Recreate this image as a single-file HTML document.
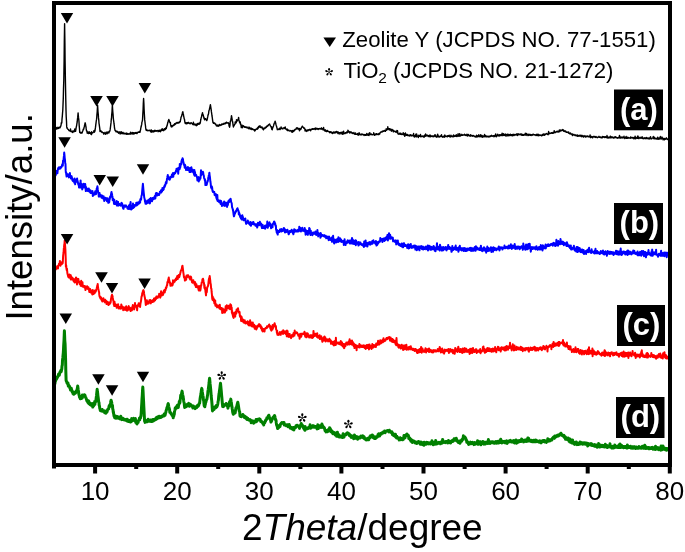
<!DOCTYPE html>
<html><head><meta charset="utf-8"><style>
html,body{margin:0;padding:0;background:#fff;width:685px;height:552px;overflow:hidden;font-family:"Liberation Sans",sans-serif}
svg{display:block;will-change:transform}
</style></head><body>
<svg width="685" height="552" viewBox="0 0 685 552" font-family="Liberation Sans" fill="#000">
<path d="M55.0 129.3 L55.2 128.4 L55.5 127.2 L55.8 128.1 L56.0 128.8 L56.2 127.5 L56.5 129.1 L56.8 128.0 L57.1 128.4 L57.3 128.1 L57.6 128.7 L57.9 127.3 L58.2 127.9 L58.4 127.8 L58.7 128.4 L59.0 127.4 L59.3 127.7 L59.5 127.4 L59.8 127.7 L60.1 127.8 L60.3 126.5 L60.6 126.7 L60.8 125.9 L61.1 125.0 L61.3 122.7 L61.6 123.1 L61.8 122.7 L62.0 119.2 L62.3 116.4 L62.5 113.6 L62.8 110.0 L63.0 105.3 L63.3 97.9 L63.5 89.0 L63.8 79.9 L64.1 61.2 L64.3 42.3 L64.6 23.7 L64.9 42.6 L65.1 61.3 L65.4 79.5 L65.6 90.3 L65.8 100.6 L66.0 110.0 L66.2 116.5 L66.5 121.4 L66.7 126.9 L67.0 128.2 L67.2 127.9 L67.5 128.6 L67.8 129.1 L68.0 129.3 L68.3 129.5 L68.6 130.0 L68.8 130.1 L69.1 130.6 L69.4 130.8 L69.7 130.9 L69.9 130.8 L70.2 131.1 L70.5 128.9 L70.8 131.5 L71.0 131.3 L71.3 131.1 L71.6 131.6 L71.9 131.4 L72.1 132.0 L72.4 132.3 L72.7 132.5 L72.9 131.0 L73.2 130.9 L73.5 131.2 L73.7 131.4 L74.0 131.7 L74.3 131.4 L74.5 130.4 L74.8 129.0 L75.1 131.4 L75.3 131.1 L75.6 131.2 L75.9 129.3 L76.1 127.9 L76.4 126.5 L76.7 125.1 L76.9 123.5 L77.2 122.0 L77.4 119.6 L77.7 117.4 L77.9 115.1 L78.1 112.9 L78.3 115.2 L78.5 117.4 L78.8 119.6 L79.0 121.9 L79.2 125.6 L79.5 129.0 L79.7 132.4 L80.0 132.6 L80.2 132.3 L80.5 132.9 L80.7 132.5 L81.0 133.2 L81.2 132.9 L81.5 133.0 L81.7 132.4 L82.0 133.0 L82.2 132.6 L82.5 131.3 L82.8 131.0 L83.0 130.5 L83.2 129.3 L83.5 129.4 L83.8 129.0 L84.0 127.7 L84.2 127.0 L84.5 125.7 L84.7 124.8 L85.0 123.5 L85.2 122.8 L85.5 124.2 L85.7 125.6 L86.0 127.0 L86.2 128.7 L86.5 130.8 L86.8 130.7 L87.0 131.5 L87.2 133.1 L87.5 132.1 L87.8 132.0 L88.0 133.3 L88.3 132.9 L88.5 133.5 L88.8 132.5 L89.1 131.7 L89.3 133.3 L89.6 132.8 L89.9 133.2 L90.1 132.5 L90.4 133.3 L90.7 134.1 L90.9 132.9 L91.2 133.0 L91.5 134.6 L91.7 131.8 L92.0 133.2 L92.3 132.9 L92.5 132.7 L92.8 132.7 L93.1 132.4 L93.4 132.4 L93.6 131.8 L93.9 130.8 L94.2 130.4 L94.5 132.2 L94.7 131.4 L95.0 131.0 L95.2 129.1 L95.5 127.2 L95.7 125.4 L96.0 123.1 L96.2 121.5 L96.5 119.7 L96.7 118.0 L96.9 114.8 L97.2 111.7 L97.4 108.4 L97.6 105.3 L97.8 108.4 L98.0 111.9 L98.3 114.6 L98.5 117.9 L98.8 120.3 L99.0 123.3 L99.2 124.4 L99.5 126.7 L99.8 128.7 L100.0 131.5 L100.3 131.0 L100.5 130.3 L100.8 131.3 L101.1 131.0 L101.3 131.8 L101.6 132.0 L101.9 132.5 L102.1 132.0 L102.4 132.0 L102.7 132.6 L102.9 132.6 L103.2 132.7 L103.5 132.7 L103.7 134.1 L104.0 133.1 L104.3 133.8 L104.5 133.4 L104.8 133.3 L105.1 132.3 L105.3 133.2 L105.6 134.2 L105.9 133.3 L106.1 133.4 L106.4 132.8 L106.7 133.3 L106.9 131.9 L107.2 133.8 L107.5 132.5 L107.7 132.3 L108.0 132.3 L108.2 132.4 L108.5 132.1 L108.8 133.0 L109.0 131.9 L109.2 131.2 L109.5 131.9 L109.8 131.0 L110.0 130.5 L110.2 129.2 L110.5 126.9 L110.8 124.3 L111.0 122.9 L111.2 120.2 L111.5 118.2 L111.7 114.9 L112.0 111.8 L112.2 107.9 L112.4 105.1 L112.6 108.7 L112.8 111.5 L113.1 114.8 L113.3 117.9 L113.5 119.8 L113.8 121.8 L114.0 123.7 L114.3 125.7 L114.5 128.0 L114.8 129.1 L115.0 130.5 L115.3 130.6 L115.6 131.0 L115.8 130.7 L116.1 131.8 L116.4 131.4 L116.7 131.5 L116.9 131.8 L117.2 131.3 L117.5 131.7 L117.8 132.4 L118.1 132.5 L118.3 132.2 L118.6 133.2 L118.9 132.0 L119.2 132.5 L119.4 132.7 L119.7 131.9 L120.0 133.8 L120.3 133.2 L120.6 132.6 L120.8 133.9 L121.1 131.7 L121.4 133.3 L121.7 132.9 L121.9 132.3 L122.2 132.6 L122.5 133.6 L122.8 133.1 L123.1 132.4 L123.3 133.8 L123.6 133.5 L123.9 133.5 L124.2 133.5 L124.4 133.2 L124.7 133.8 L125.0 134.1 L125.3 133.8 L125.6 133.9 L125.8 133.2 L126.1 133.3 L126.4 133.1 L126.7 134.2 L126.9 133.6 L127.2 134.3 L127.5 133.4 L127.8 133.6 L128.1 133.8 L128.3 134.2 L128.6 133.9 L128.9 134.0 L129.2 133.9 L129.4 134.0 L129.7 133.5 L130.0 134.0 L130.3 133.9 L130.6 132.2 L130.8 134.0 L131.1 133.5 L131.4 133.7 L131.7 133.5 L131.9 133.8 L132.2 132.4 L132.5 133.1 L132.8 133.7 L133.1 134.2 L133.3 132.7 L133.6 132.9 L133.9 132.9 L134.2 133.1 L134.4 133.8 L134.7 133.1 L135.0 132.7 L135.3 133.2 L135.6 132.6 L135.8 133.3 L136.1 132.9 L136.4 133.3 L136.7 132.4 L136.9 133.6 L137.2 132.9 L137.5 132.8 L137.8 132.4 L138.1 132.1 L138.3 132.0 L138.6 132.2 L138.9 131.9 L139.2 132.3 L139.4 131.8 L139.7 132.3 L140.0 132.4 L140.3 130.4 L140.6 129.8 L140.8 127.9 L141.1 127.1 L141.4 125.5 L141.7 124.4 L141.9 122.3 L142.2 121.3 L142.5 120.2 L142.8 114.6 L143.1 109.2 L143.3 103.9 L143.6 98.5 L143.9 103.9 L144.1 109.4 L144.4 114.9 L144.7 119.9 L145.0 122.1 L145.2 124.0 L145.5 126.0 L145.7 127.9 L146.0 129.9 L146.3 130.3 L146.5 129.7 L146.8 130.6 L147.1 130.6 L147.3 130.3 L147.6 130.7 L147.9 130.2 L148.1 130.3 L148.4 130.7 L148.7 130.6 L148.9 130.6 L149.2 130.5 L149.5 130.6 L149.7 130.3 L150.0 130.2 L150.3 130.3 L150.6 131.9 L150.8 131.3 L151.1 131.2 L151.4 130.0 L151.7 131.2 L151.9 132.4 L152.2 131.0 L152.5 130.8 L152.8 131.3 L153.1 130.8 L153.3 131.7 L153.6 131.2 L153.9 131.9 L154.2 130.7 L154.4 130.3 L154.7 131.3 L155.0 131.3 L155.3 131.0 L155.6 130.4 L155.8 130.8 L156.1 131.2 L156.4 130.9 L156.7 131.0 L156.9 130.9 L157.2 130.6 L157.5 130.8 L157.8 130.4 L158.1 131.7 L158.3 130.8 L158.6 131.2 L158.9 130.6 L159.2 131.3 L159.4 130.3 L159.7 131.4 L160.0 131.0 L160.3 131.8 L160.6 130.3 L160.8 130.8 L161.1 130.8 L161.4 129.5 L161.7 130.3 L161.9 130.5 L162.2 128.6 L162.5 129.9 L162.8 130.3 L163.1 129.5 L163.3 129.9 L163.6 130.7 L163.9 130.5 L164.2 129.7 L164.4 128.7 L164.7 128.9 L165.0 129.2 L165.3 129.6 L165.5 129.0 L165.8 127.8 L166.0 128.2 L166.3 128.6 L166.6 126.9 L166.9 125.8 L167.1 125.9 L167.4 124.2 L167.7 123.1 L168.0 122.3 L168.2 121.3 L168.5 120.2 L168.8 119.5 L169.1 120.2 L169.3 120.9 L169.6 121.5 L169.8 122.4 L170.1 123.0 L170.4 122.5 L170.6 124.9 L170.9 125.5 L171.1 126.7 L171.4 126.9 L171.7 125.8 L171.9 126.8 L172.2 126.7 L172.5 125.8 L172.7 125.9 L173.0 125.2 L173.3 125.7 L173.5 125.0 L173.8 125.5 L174.1 124.5 L174.4 125.0 L174.6 123.7 L174.9 123.9 L175.2 124.4 L175.4 123.4 L175.7 123.9 L176.0 123.7 L176.2 122.9 L176.5 122.8 L176.8 122.8 L177.0 122.4 L177.3 123.2 L177.6 122.9 L177.8 122.6 L178.1 122.5 L178.4 122.6 L178.7 123.1 L178.9 122.7 L179.2 122.0 L179.5 122.5 L179.7 122.0 L180.0 121.9 L180.3 121.8 L180.5 119.9 L180.8 119.0 L181.0 117.4 L181.3 116.7 L181.5 116.5 L181.8 115.3 L182.0 114.5 L182.3 113.4 L182.5 112.5 L182.8 111.7 L183.1 113.2 L183.4 114.4 L183.6 115.8 L183.9 117.2 L184.2 118.8 L184.5 119.4 L184.7 121.1 L185.0 122.7 L185.3 123.6 L185.6 122.6 L185.8 123.1 L186.1 123.3 L186.4 123.8 L186.6 122.7 L186.9 123.1 L187.2 123.4 L187.4 122.7 L187.7 123.4 L188.0 123.0 L188.3 122.3 L188.5 123.1 L188.8 123.2 L189.1 122.9 L189.3 123.1 L189.6 123.6 L189.9 123.3 L190.1 123.8 L190.4 123.3 L190.7 123.3 L190.9 122.9 L191.2 122.7 L191.5 123.2 L191.7 123.2 L192.0 123.8 L192.3 123.8 L192.6 124.2 L192.8 124.4 L193.1 123.7 L193.4 122.1 L193.6 124.7 L193.9 124.5 L194.2 124.4 L194.4 124.7 L194.7 124.1 L195.0 124.6 L195.2 125.0 L195.5 125.1 L195.8 124.1 L196.1 124.3 L196.3 125.7 L196.6 124.2 L196.9 124.1 L197.2 124.5 L197.4 125.1 L197.7 123.4 L198.0 124.3 L198.2 123.9 L198.5 123.7 L198.8 123.3 L199.1 124.3 L199.3 123.0 L199.6 123.2 L199.9 123.7 L200.2 123.2 L200.4 122.1 L200.7 120.0 L200.9 119.3 L201.2 117.6 L201.5 117.2 L201.7 115.8 L202.0 114.8 L202.2 113.9 L202.5 112.6 L202.7 113.7 L203.0 114.3 L203.2 115.3 L203.5 116.2 L203.7 116.9 L204.0 118.4 L204.2 118.9 L204.5 118.2 L204.7 119.9 L205.0 119.3 L205.2 119.2 L205.5 118.7 L205.7 119.4 L206.0 119.3 L206.2 119.9 L206.5 119.9 L206.7 120.6 L207.0 120.1 L207.3 119.0 L207.5 117.8 L207.8 116.4 L208.0 115.2 L208.3 114.6 L208.6 113.3 L208.8 111.5 L209.1 110.2 L209.4 109.4 L209.6 108.4 L209.9 107.1 L210.1 106.1 L210.4 104.6 L210.7 106.5 L210.9 107.9 L211.2 109.9 L211.4 111.7 L211.7 113.7 L212.0 116.0 L212.2 117.0 L212.5 119.4 L212.7 120.8 L213.0 122.7 L213.3 122.3 L213.6 123.3 L213.8 122.6 L214.1 123.4 L214.4 123.1 L214.7 123.5 L214.9 123.3 L215.2 123.9 L215.5 124.5 L215.8 124.6 L216.0 124.3 L216.3 125.7 L216.6 125.4 L216.8 125.9 L217.1 126.1 L217.4 125.7 L217.7 125.1 L218.0 125.4 L218.2 126.2 L218.5 125.2 L218.8 125.9 L219.1 125.2 L219.3 125.5 L219.6 124.5 L219.9 125.6 L220.2 125.0 L220.4 125.3 L220.7 125.0 L221.0 125.1 L221.2 124.6 L221.5 124.9 L221.8 123.9 L222.1 124.0 L222.3 124.6 L222.6 124.2 L222.9 124.0 L223.2 124.0 L223.4 124.2 L223.7 123.6 L224.0 124.0 L224.2 123.3 L224.5 123.4 L224.8 123.9 L225.1 123.8 L225.3 122.9 L225.6 123.6 L225.9 122.7 L226.1 123.3 L226.4 122.2 L226.7 122.4 L226.9 122.6 L227.2 122.6 L227.5 123.1 L227.8 122.8 L228.0 123.0 L228.3 122.8 L228.6 122.9 L228.8 123.7 L229.1 126.1 L229.3 125.2 L229.6 127.2 L229.8 126.2 L230.0 125.1 L230.3 121.1 L230.5 121.9 L230.8 120.3 L231.0 118.9 L231.3 117.2 L231.5 115.6 L231.8 117.4 L232.0 118.7 L232.3 120.4 L232.6 121.7 L232.9 123.6 L233.1 125.3 L233.4 127.0 L233.7 125.9 L233.9 125.9 L234.2 125.4 L234.4 124.8 L234.7 124.4 L235.0 124.1 L235.2 121.9 L235.5 122.5 L235.7 122.0 L236.0 123.0 L236.3 122.5 L236.5 119.6 L236.8 121.3 L237.0 121.1 L237.3 120.8 L237.6 120.3 L237.8 119.6 L238.1 119.6 L238.3 119.1 L238.6 117.4 L238.9 119.7 L239.1 120.6 L239.4 121.8 L239.7 122.7 L240.0 122.5 L240.2 121.8 L240.5 124.3 L240.8 124.0 L241.1 126.2 L241.3 127.6 L241.6 126.2 L241.9 127.6 L242.2 125.2 L242.4 127.8 L242.7 127.0 L243.0 126.3 L243.2 126.5 L243.5 125.7 L243.8 126.4 L244.1 126.5 L244.4 126.7 L244.6 127.3 L244.9 126.7 L245.2 127.2 L245.5 127.2 L245.7 127.1 L246.0 127.0 L246.3 127.7 L246.6 127.2 L246.8 127.6 L247.1 127.1 L247.4 127.9 L247.7 127.9 L247.9 128.0 L248.2 128.0 L248.5 128.6 L248.8 128.7 L249.0 127.0 L249.3 127.6 L249.6 128.4 L249.9 128.5 L250.2 128.3 L250.4 129.0 L250.7 128.6 L251.0 127.9 L251.3 128.5 L251.5 129.1 L251.8 129.5 L252.1 128.6 L252.4 129.0 L252.6 129.3 L252.9 129.1 L253.2 129.7 L253.5 129.5 L253.7 129.7 L254.0 129.4 L254.3 130.3 L254.6 129.8 L254.8 131.1 L255.1 129.8 L255.4 130.2 L255.7 129.5 L256.0 129.2 L256.2 129.0 L256.5 129.1 L256.8 128.8 L257.1 129.3 L257.3 128.0 L257.6 127.8 L257.9 128.7 L258.2 128.0 L258.4 126.8 L258.7 127.5 L259.0 127.2 L259.2 126.0 L259.5 126.5 L259.8 126.4 L260.1 125.8 L260.3 127.2 L260.6 127.1 L260.9 127.6 L261.1 127.4 L261.4 127.3 L261.6 127.5 L261.9 126.8 L262.2 127.5 L262.4 128.7 L262.7 128.2 L263.0 128.7 L263.2 129.3 L263.5 129.8 L263.8 128.3 L264.1 128.5 L264.3 128.6 L264.6 128.1 L264.9 128.5 L265.2 127.1 L265.4 127.8 L265.7 127.6 L266.0 127.2 L266.3 127.4 L266.6 126.2 L266.8 126.9 L267.1 126.0 L267.4 126.3 L267.7 125.6 L267.9 125.9 L268.2 125.6 L268.5 124.6 L268.8 124.8 L269.0 124.6 L269.3 124.3 L269.6 124.0 L269.9 124.9 L270.1 125.2 L270.4 125.9 L270.6 126.1 L270.9 126.3 L271.2 127.3 L271.4 127.5 L271.7 129.2 L271.9 127.0 L272.2 129.8 L272.5 128.5 L272.7 127.7 L273.0 127.1 L273.3 126.5 L273.5 125.9 L273.8 124.8 L274.0 124.0 L274.3 123.2 L274.6 122.6 L274.8 122.2 L275.1 121.2 L275.4 122.1 L275.7 123.1 L275.9 124.2 L276.2 125.3 L276.5 126.2 L276.8 127.3 L277.0 128.2 L277.3 129.7 L277.6 129.1 L277.9 129.2 L278.1 129.3 L278.4 129.3 L278.7 129.6 L278.9 129.2 L279.2 129.1 L279.5 128.2 L279.8 129.0 L280.1 129.6 L280.3 128.3 L280.6 128.1 L280.9 128.4 L281.1 126.9 L281.4 128.6 L281.7 128.1 L282.0 128.2 L282.2 128.6 L282.5 128.4 L282.8 129.0 L283.1 128.4 L283.3 128.1 L283.6 128.1 L283.9 127.7 L284.2 127.6 L284.4 128.2 L284.7 128.5 L285.0 127.9 L285.2 127.0 L285.5 128.6 L285.8 129.0 L286.0 129.0 L286.3 129.4 L286.5 129.4 L286.8 130.0 L287.1 129.0 L287.3 130.5 L287.6 130.6 L287.9 130.1 L288.2 130.4 L288.4 130.5 L288.7 130.0 L289.0 130.4 L289.3 130.7 L289.5 130.6 L289.8 131.0 L290.1 130.7 L290.4 130.7 L290.6 130.5 L290.9 130.7 L291.2 130.7 L291.5 131.7 L291.7 131.2 L292.0 130.7 L292.3 132.4 L292.6 131.2 L292.8 130.4 L293.1 131.6 L293.4 130.9 L293.7 131.4 L294.0 130.5 L294.2 130.1 L294.5 130.6 L294.8 129.5 L295.1 129.6 L295.3 129.6 L295.6 129.5 L295.9 129.2 L296.2 128.6 L296.4 128.0 L296.7 128.9 L297.0 127.6 L297.3 128.7 L297.5 128.0 L297.8 128.9 L298.1 129.0 L298.4 128.4 L298.6 129.1 L298.9 129.5 L299.2 129.7 L299.5 130.7 L299.7 128.4 L300.0 129.8 L300.3 129.1 L300.5 129.6 L300.8 128.6 L301.1 128.9 L301.3 128.0 L301.6 127.4 L301.9 127.1 L302.1 126.7 L302.4 126.2 L302.7 126.7 L302.9 126.9 L303.2 127.4 L303.5 127.6 L303.8 128.3 L304.0 128.1 L304.3 128.3 L304.6 128.1 L304.9 129.4 L305.1 131.0 L305.4 130.0 L305.7 129.7 L306.0 130.6 L306.2 130.4 L306.5 131.2 L306.8 131.4 L307.1 130.7 L307.3 130.0 L307.6 130.3 L307.9 130.6 L308.1 130.7 L308.4 129.7 L308.7 130.0 L309.0 130.0 L309.2 130.0 L309.5 130.1 L309.8 129.3 L310.1 129.4 L310.3 129.9 L310.6 130.8 L310.9 129.5 L311.2 129.7 L311.5 129.3 L311.7 129.5 L312.0 129.1 L312.3 128.7 L312.6 128.7 L312.8 129.2 L313.1 129.1 L313.4 128.9 L313.7 129.2 L313.9 128.7 L314.2 129.1 L314.5 129.0 L314.8 128.7 L315.0 128.1 L315.3 129.6 L315.6 129.1 L315.9 128.0 L316.1 128.8 L316.4 129.1 L316.7 128.8 L317.0 129.1 L317.2 128.5 L317.5 128.9 L317.8 128.8 L318.1 129.5 L318.3 128.7 L318.6 128.9 L318.9 129.1 L319.2 128.5 L319.4 128.6 L319.7 128.8 L320.0 128.6 L320.3 128.8 L320.5 128.9 L320.8 129.1 L321.1 128.6 L321.4 127.8 L321.7 128.8 L321.9 129.2 L322.2 129.1 L322.5 129.2 L322.8 128.5 L323.0 129.8 L323.3 129.6 L323.6 127.5 L323.9 129.6 L324.1 129.8 L324.4 130.5 L324.7 130.6 L324.9 131.1 L325.2 129.8 L325.5 130.3 L325.8 130.3 L326.1 131.4 L326.3 131.6 L326.6 131.0 L326.9 131.4 L327.1 130.6 L327.4 130.5 L327.7 130.9 L328.0 131.3 L328.2 131.3 L328.5 131.5 L328.8 131.4 L329.1 132.0 L329.4 132.3 L329.6 131.8 L329.9 132.7 L330.2 131.7 L330.4 131.8 L330.7 132.3 L331.0 132.0 L331.3 132.7 L331.6 132.1 L331.8 132.9 L332.1 132.5 L332.4 133.5 L332.7 132.4 L332.9 132.6 L333.2 132.8 L333.5 131.9 L333.8 133.1 L334.0 133.1 L334.3 133.0 L334.6 132.2 L334.8 132.0 L335.1 132.7 L335.3 132.8 L335.6 132.8 L335.8 131.6 L336.1 131.6 L336.3 132.0 L336.6 131.4 L336.9 132.0 L337.2 132.6 L337.4 133.0 L337.7 132.5 L338.0 131.8 L338.2 133.7 L338.5 132.6 L338.8 132.5 L339.0 132.7 L339.3 132.6 L339.6 132.7 L339.9 134.0 L340.1 133.0 L340.4 133.0 L340.7 132.4 L340.9 133.0 L341.2 132.8 L341.5 132.3 L341.7 133.4 L342.0 133.9 L342.3 134.3 L342.6 134.0 L342.8 131.9 L343.1 134.0 L343.4 133.9 L343.6 131.1 L343.9 133.6 L344.2 133.5 L344.4 133.2 L344.7 133.2 L345.0 133.0 L345.2 133.6 L345.5 132.7 L345.8 132.7 L346.1 132.8 L346.3 132.8 L346.6 131.9 L346.9 133.1 L347.1 132.6 L347.4 132.6 L347.7 132.4 L347.9 130.3 L348.2 132.1 L348.5 130.9 L348.7 132.1 L349.0 131.6 L349.3 132.2 L349.5 132.1 L349.8 133.0 L350.1 131.8 L350.4 131.9 L350.6 132.6 L350.9 132.5 L351.2 131.9 L351.4 132.6 L351.7 132.5 L352.0 133.3 L352.2 132.7 L352.5 133.5 L352.8 133.3 L353.1 133.1 L353.3 133.3 L353.6 133.6 L353.9 132.5 L354.1 133.7 L354.4 133.5 L354.7 134.4 L354.9 133.5 L355.2 134.3 L355.5 133.0 L355.8 134.4 L356.0 134.2 L356.3 134.1 L356.6 134.2 L356.9 134.1 L357.1 134.4 L357.4 134.2 L357.7 133.6 L358.0 134.2 L358.2 135.2 L358.5 134.4 L358.8 134.5 L359.1 132.6 L359.3 134.5 L359.6 134.5 L359.9 134.3 L360.2 134.8 L360.4 134.1 L360.7 134.5 L361.0 134.7 L361.3 134.4 L361.5 134.1 L361.8 134.8 L362.1 134.2 L362.4 134.4 L362.6 134.3 L362.9 134.6 L363.2 134.5 L363.5 134.5 L363.7 135.0 L364.0 135.4 L364.3 134.6 L364.6 135.0 L364.8 134.6 L365.1 134.8 L365.4 135.3 L365.7 134.9 L365.9 134.5 L366.2 135.2 L366.5 134.7 L366.8 133.5 L367.1 135.2 L367.3 134.3 L367.6 134.4 L367.9 134.4 L368.2 134.1 L368.4 135.3 L368.7 134.8 L369.0 135.5 L369.3 133.0 L369.6 133.9 L369.8 132.6 L370.1 134.5 L370.4 134.3 L370.7 134.3 L371.0 134.1 L371.2 134.7 L371.5 134.1 L371.8 134.5 L372.1 134.6 L372.4 134.8 L372.6 134.6 L372.9 134.6 L373.2 134.7 L373.5 134.5 L373.7 132.8 L374.0 134.1 L374.3 134.1 L374.6 135.2 L374.9 134.4 L375.1 134.1 L375.4 134.9 L375.7 134.3 L376.0 134.1 L376.2 133.7 L376.5 134.6 L376.8 133.8 L377.1 134.1 L377.4 134.5 L377.6 134.3 L377.9 134.2 L378.2 134.1 L378.5 134.5 L378.8 134.7 L379.0 133.4 L379.3 133.7 L379.6 134.1 L379.9 133.5 L380.1 132.7 L380.4 132.6 L380.7 132.3 L380.9 132.0 L381.2 132.0 L381.5 132.1 L381.8 131.6 L382.1 132.0 L382.3 131.5 L382.6 131.1 L382.9 131.5 L383.2 131.2 L383.4 131.0 L383.7 131.2 L384.0 130.9 L384.3 130.5 L384.5 130.8 L384.8 130.5 L385.1 131.2 L385.4 131.2 L385.6 130.5 L385.9 130.4 L386.2 128.8 L386.5 130.2 L386.7 129.5 L387.0 129.1 L387.3 129.1 L387.6 129.4 L387.8 126.8 L388.1 129.0 L388.4 128.5 L388.7 129.2 L388.9 128.7 L389.2 129.8 L389.5 129.4 L389.8 128.7 L390.1 130.0 L390.3 129.3 L390.6 129.2 L390.9 129.1 L391.1 129.8 L391.4 131.2 L391.7 129.5 L392.0 129.5 L392.2 129.5 L392.5 130.6 L392.8 130.8 L393.1 130.1 L393.4 131.9 L393.6 130.6 L393.9 130.7 L394.2 131.3 L394.5 131.2 L394.7 131.4 L395.0 131.3 L395.3 131.9 L395.6 131.6 L395.8 131.9 L396.1 132.1 L396.4 131.7 L396.7 132.2 L396.9 130.4 L397.2 132.7 L397.5 130.7 L397.8 132.5 L398.0 133.8 L398.3 133.8 L398.6 133.9 L398.9 134.3 L399.1 133.8 L399.4 133.6 L399.7 133.9 L400.0 133.0 L400.2 133.4 L400.5 134.2 L400.8 133.9 L401.0 133.5 L401.3 134.3 L401.6 134.5 L401.8 134.4 L402.1 134.2 L402.4 133.9 L402.7 134.3 L402.9 134.5 L403.2 132.6 L403.5 134.7 L403.7 134.6 L404.0 134.7 L404.3 133.8 L404.5 135.1 L404.8 136.3 L405.1 134.6 L405.4 133.0 L405.6 135.1 L405.9 134.7 L406.2 134.5 L406.4 135.4 L406.7 134.4 L407.0 135.3 L407.3 134.5 L407.5 135.6 L407.8 135.3 L408.1 135.0 L408.4 135.2 L408.6 135.4 L408.9 135.5 L409.2 136.1 L409.5 135.4 L409.8 135.1 L410.0 135.5 L410.3 134.8 L410.6 134.7 L410.8 135.7 L411.1 135.9 L411.4 135.2 L411.7 135.5 L411.9 135.8 L412.2 135.6 L412.5 135.3 L412.8 135.6 L413.1 135.6 L413.3 136.0 L413.6 133.5 L413.9 135.8 L414.1 135.8 L414.4 137.1 L414.7 135.7 L415.0 136.6 L415.3 135.7 L415.5 136.5 L415.8 134.3 L416.1 134.5 L416.4 136.9 L416.6 133.9 L416.9 135.5 L417.2 135.7 L417.5 135.7 L417.7 136.1 L418.0 136.7 L418.3 137.5 L418.6 136.3 L418.8 135.2 L419.1 136.4 L419.4 135.7 L419.7 136.1 L419.9 135.9 L420.2 136.5 L420.5 134.5 L420.8 136.7 L421.0 136.5 L421.3 136.2 L421.6 136.3 L421.8 136.6 L422.1 136.1 L422.4 136.5 L422.6 136.1 L422.9 136.2 L423.2 136.4 L423.4 136.6 L423.7 136.2 L424.0 137.3 L424.3 136.2 L424.5 135.3 L424.8 136.5 L425.1 135.3 L425.3 136.2 L425.6 134.0 L425.9 136.0 L426.1 135.7 L426.4 135.8 L426.7 135.4 L426.9 134.9 L427.2 135.9 L427.5 135.5 L427.8 135.5 L428.0 135.5 L428.3 136.6 L428.6 135.6 L428.9 136.0 L429.1 135.4 L429.4 136.5 L429.7 135.7 L430.0 134.9 L430.2 136.9 L430.5 135.5 L430.8 136.5 L431.1 136.2 L431.4 136.2 L431.6 135.9 L431.9 136.1 L432.2 136.5 L432.4 135.9 L432.7 136.1 L433.0 136.4 L433.3 136.1 L433.6 135.9 L433.8 136.7 L434.1 136.2 L434.4 136.1 L434.6 135.8 L434.9 134.7 L435.2 136.5 L435.5 136.6 L435.8 135.3 L436.0 136.0 L436.3 136.6 L436.6 137.2 L436.9 137.1 L437.1 136.6 L437.4 136.8 L437.7 134.2 L438.0 136.6 L438.2 135.8 L438.5 136.1 L438.8 136.5 L439.1 137.2 L439.3 136.7 L439.6 136.5 L439.9 136.3 L440.2 135.9 L440.4 136.6 L440.7 136.2 L441.0 136.5 L441.3 136.0 L441.5 134.7 L441.8 135.7 L442.1 136.6 L442.4 136.9 L442.6 136.7 L442.9 137.2 L443.2 136.5 L443.5 136.5 L443.7 136.5 L444.0 136.0 L444.3 137.2 L444.6 136.7 L444.8 135.0 L445.1 135.9 L445.4 136.5 L445.7 136.6 L445.9 136.3 L446.2 136.3 L446.5 136.2 L446.8 136.3 L447.0 136.8 L447.3 136.8 L447.6 135.6 L447.9 136.3 L448.1 135.7 L448.4 135.7 L448.7 136.4 L449.0 136.4 L449.2 135.2 L449.5 136.5 L449.8 136.7 L450.1 137.0 L450.3 136.0 L450.6 136.8 L450.9 135.2 L451.2 135.7 L451.4 136.4 L451.7 136.3 L452.0 136.7 L452.3 136.5 L452.5 136.1 L452.8 136.7 L453.1 136.4 L453.4 136.8 L453.6 134.9 L453.9 136.2 L454.2 135.9 L454.5 136.4 L454.8 135.9 L455.0 135.9 L455.3 135.4 L455.6 136.1 L455.9 136.4 L456.1 136.3 L456.4 134.8 L456.7 135.2 L457.0 136.6 L457.2 135.7 L457.5 135.7 L457.8 136.1 L458.1 133.8 L458.3 135.4 L458.6 135.5 L458.9 136.3 L459.2 135.0 L459.4 136.0 L459.7 133.6 L460.0 135.3 L460.3 136.1 L460.5 135.1 L460.8 135.7 L461.1 135.1 L461.4 134.7 L461.6 135.2 L461.9 134.3 L462.2 135.1 L462.5 135.3 L462.7 135.2 L463.0 135.1 L463.3 134.9 L463.6 135.1 L463.8 135.1 L464.1 134.8 L464.4 134.2 L464.7 135.0 L465.0 135.1 L465.2 134.7 L465.5 135.4 L465.8 135.2 L466.1 135.2 L466.3 135.0 L466.6 135.4 L466.9 134.3 L467.2 135.0 L467.4 136.0 L467.7 135.8 L468.0 134.4 L468.3 134.4 L468.5 134.7 L468.8 135.5 L469.1 135.6 L469.4 135.7 L469.6 135.6 L469.9 136.2 L470.2 136.3 L470.5 134.6 L470.8 135.3 L471.0 135.9 L471.3 135.4 L471.6 135.6 L471.9 135.5 L472.1 135.9 L472.4 136.2 L472.7 136.0 L473.0 135.5 L473.2 135.4 L473.5 135.8 L473.8 135.8 L474.1 136.5 L474.3 136.1 L474.6 136.1 L474.9 136.2 L475.2 136.7 L475.4 137.0 L475.7 136.5 L476.0 136.3 L476.3 137.0 L476.6 135.3 L476.8 136.2 L477.1 136.8 L477.4 136.5 L477.7 135.8 L477.9 136.7 L478.2 136.5 L478.5 135.7 L478.8 134.7 L479.1 136.5 L479.3 136.7 L479.6 136.6 L479.9 135.9 L480.2 136.3 L480.4 136.7 L480.7 134.6 L481.0 136.4 L481.3 136.5 L481.5 136.8 L481.8 135.4 L482.1 135.4 L482.4 137.2 L482.7 136.2 L482.9 136.3 L483.2 136.8 L483.5 136.1 L483.8 136.9 L484.0 136.6 L484.3 135.8 L484.6 134.5 L484.9 135.8 L485.2 136.8 L485.4 135.7 L485.7 135.7 L486.0 135.9 L486.3 136.1 L486.5 136.9 L486.8 136.4 L487.1 136.5 L487.4 136.8 L487.6 136.1 L487.9 136.2 L488.2 136.1 L488.5 136.7 L488.8 137.1 L489.0 136.5 L489.3 136.2 L489.6 136.2 L489.9 136.0 L490.1 136.7 L490.4 136.0 L490.7 136.3 L491.0 135.9 L491.3 135.6 L491.5 135.3 L491.8 135.9 L492.1 136.3 L492.4 136.1 L492.7 136.1 L492.9 135.7 L493.2 135.7 L493.5 135.7 L493.8 136.1 L494.0 136.8 L494.3 135.9 L494.6 135.4 L494.9 136.4 L495.2 135.5 L495.4 136.1 L495.7 133.9 L496.0 135.8 L496.3 136.8 L496.6 135.4 L496.8 135.5 L497.1 135.8 L497.4 135.6 L497.7 134.2 L497.9 135.3 L498.2 135.8 L498.5 135.9 L498.8 135.1 L499.1 135.0 L499.3 136.1 L499.6 134.8 L499.9 135.6 L500.2 135.5 L500.5 134.8 L500.7 135.6 L501.0 134.8 L501.3 134.8 L501.6 134.6 L501.8 135.5 L502.1 133.2 L502.4 135.5 L502.7 134.7 L503.0 135.2 L503.2 135.5 L503.5 133.7 L503.8 134.4 L504.1 134.8 L504.4 135.4 L504.6 135.2 L504.9 134.7 L505.2 134.2 L505.4 135.2 L505.7 134.1 L506.0 136.2 L506.3 135.1 L506.6 134.8 L506.8 134.6 L507.1 134.7 L507.4 134.2 L507.7 135.8 L507.9 134.9 L508.2 135.9 L508.5 134.9 L508.8 134.3 L509.0 135.6 L509.3 134.6 L509.6 134.7 L509.9 135.6 L510.1 135.5 L510.4 134.1 L510.7 134.9 L511.0 134.5 L511.2 135.1 L511.5 135.6 L511.8 134.7 L512.1 135.5 L512.3 134.5 L512.6 135.8 L512.9 134.6 L513.1 134.7 L513.4 135.0 L513.7 134.3 L514.0 135.5 L514.2 134.4 L514.5 135.1 L514.8 135.0 L515.1 134.8 L515.3 134.8 L515.6 134.6 L515.9 135.0 L516.2 134.3 L516.4 134.3 L516.7 134.8 L517.0 133.7 L517.3 135.5 L517.5 134.9 L517.8 135.3 L518.1 134.6 L518.4 133.8 L518.6 134.5 L518.9 134.2 L519.2 134.6 L519.5 134.4 L519.7 134.7 L520.0 133.9 L520.3 134.6 L520.6 134.4 L520.8 134.9 L521.1 133.9 L521.4 134.5 L521.7 135.3 L521.9 134.2 L522.2 134.9 L522.5 135.2 L522.8 134.6 L523.0 135.1 L523.3 135.1 L523.6 135.3 L523.9 134.5 L524.2 134.6 L524.4 135.0 L524.7 134.4 L525.0 134.7 L525.3 133.3 L525.5 133.8 L525.8 134.8 L526.1 135.4 L526.4 134.6 L526.7 133.4 L526.9 134.5 L527.2 134.4 L527.5 134.8 L527.8 135.2 L528.0 135.6 L528.3 135.1 L528.6 134.4 L528.9 134.2 L529.1 135.3 L529.4 134.9 L529.7 134.5 L530.0 134.4 L530.3 134.5 L530.5 135.3 L530.8 134.8 L531.1 135.5 L531.4 135.2 L531.6 134.9 L531.9 134.7 L532.2 135.1 L532.5 134.5 L532.8 135.2 L533.0 134.3 L533.3 134.5 L533.6 134.3 L533.9 134.7 L534.1 134.6 L534.4 134.7 L534.7 134.9 L535.0 135.1 L535.2 134.9 L535.5 135.0 L535.8 135.5 L536.1 134.8 L536.4 134.3 L536.6 135.3 L536.9 135.6 L537.2 135.0 L537.5 135.3 L537.7 134.7 L538.0 134.1 L538.3 135.8 L538.6 135.1 L538.9 134.7 L539.1 135.6 L539.4 135.0 L539.7 135.3 L540.0 135.1 L540.2 135.3 L540.5 135.3 L540.8 134.9 L541.1 135.3 L541.3 135.9 L541.6 135.8 L541.9 135.3 L542.2 135.6 L542.5 134.4 L542.7 135.4 L543.0 134.8 L543.3 134.0 L543.6 134.7 L543.9 135.0 L544.1 134.3 L544.4 135.3 L544.7 135.0 L545.0 133.9 L545.3 134.7 L545.5 134.3 L545.8 134.0 L546.1 134.0 L546.4 133.9 L546.7 133.6 L546.9 133.8 L547.2 134.2 L547.5 134.4 L547.8 134.4 L548.0 134.8 L548.3 133.7 L548.6 131.5 L548.9 134.0 L549.2 132.9 L549.4 132.9 L549.7 133.2 L550.0 133.5 L550.3 133.2 L550.6 133.3 L550.8 133.2 L551.1 133.2 L551.4 132.7 L551.7 132.9 L552.0 133.2 L552.2 133.0 L552.5 133.3 L552.8 132.5 L553.1 133.1 L553.3 133.2 L553.6 132.5 L553.9 132.6 L554.2 130.6 L554.4 132.6 L554.7 132.4 L555.0 132.8 L555.3 132.4 L555.5 132.4 L555.8 132.1 L556.1 131.5 L556.4 132.0 L556.6 131.7 L556.9 131.5 L557.2 131.3 L557.5 131.5 L557.8 131.3 L558.0 132.2 L558.3 132.0 L558.6 131.2 L558.9 131.5 L559.1 131.6 L559.4 129.9 L559.7 131.7 L560.0 131.3 L560.2 130.8 L560.5 130.1 L560.8 130.3 L561.1 130.8 L561.3 130.4 L561.6 130.5 L561.9 130.1 L562.2 130.4 L562.4 130.1 L562.7 129.6 L563.0 130.2 L563.3 130.2 L563.5 130.0 L563.8 131.3 L564.1 130.8 L564.4 130.8 L564.7 131.4 L564.9 131.2 L565.2 131.6 L565.5 130.9 L565.8 131.2 L566.1 131.9 L566.3 132.4 L566.6 132.0 L566.9 132.2 L567.2 131.9 L567.5 132.3 L567.7 132.2 L568.0 132.5 L568.3 133.0 L568.6 132.0 L568.9 133.1 L569.1 133.5 L569.4 133.0 L569.7 133.8 L570.0 133.6 L570.3 134.0 L570.5 133.0 L570.8 133.7 L571.1 133.8 L571.4 133.9 L571.7 134.4 L571.9 134.7 L572.2 134.0 L572.5 135.6 L572.8 134.1 L573.0 135.1 L573.3 134.5 L573.6 134.7 L573.9 134.7 L574.1 134.5 L574.4 135.1 L574.7 135.1 L575.0 135.4 L575.2 134.9 L575.5 135.0 L575.8 134.9 L576.1 135.8 L576.4 135.6 L576.6 135.2 L576.9 135.6 L577.2 135.1 L577.5 136.2 L577.7 135.2 L578.0 135.3 L578.3 135.4 L578.6 136.2 L578.8 135.7 L579.1 136.1 L579.4 135.6 L579.6 135.3 L579.9 136.1 L580.2 135.6 L580.5 135.3 L580.8 135.7 L581.0 136.2 L581.3 136.7 L581.6 135.5 L581.9 135.2 L582.1 136.5 L582.4 136.3 L582.7 136.0 L583.0 136.4 L583.2 136.6 L583.5 137.1 L583.8 136.3 L584.1 135.6 L584.3 136.3 L584.6 136.3 L584.9 136.7 L585.2 136.2 L585.4 136.1 L585.7 137.1 L586.0 135.9 L586.3 136.8 L586.5 136.6 L586.8 136.6 L587.1 136.2 L587.4 135.9 L587.6 136.5 L587.9 136.3 L588.2 136.6 L588.5 136.8 L588.7 136.5 L589.0 136.4 L589.3 136.9 L589.6 136.5 L589.9 136.4 L590.1 134.9 L590.4 137.0 L590.7 137.7 L591.0 137.5 L591.2 136.4 L591.5 136.4 L591.8 136.9 L592.1 137.1 L592.4 136.9 L592.6 137.8 L592.9 137.4 L593.2 136.4 L593.5 136.8 L593.7 136.6 L594.0 136.5 L594.3 136.9 L594.6 136.5 L594.8 136.7 L595.1 136.8 L595.4 137.4 L595.7 136.8 L596.0 136.5 L596.2 136.9 L596.5 137.1 L596.8 137.3 L597.1 137.7 L597.3 137.3 L597.6 137.6 L597.9 137.3 L598.2 137.2 L598.5 136.9 L598.7 136.9 L599.0 136.3 L599.3 137.4 L599.6 137.0 L599.8 137.2 L600.1 137.4 L600.4 136.9 L600.7 137.6 L600.9 137.2 L601.2 137.8 L601.5 137.3 L601.8 137.3 L602.1 137.1 L602.3 137.8 L602.6 136.4 L602.9 137.0 L603.2 137.1 L603.4 136.7 L603.7 137.0 L604.0 137.4 L604.3 137.4 L604.6 136.7 L604.8 137.5 L605.1 137.2 L605.4 137.0 L605.7 136.7 L605.9 137.1 L606.2 137.5 L606.5 137.3 L606.8 137.6 L607.0 135.5 L607.3 138.0 L607.6 137.3 L607.9 137.1 L608.2 137.9 L608.4 138.0 L608.7 137.4 L609.0 137.2 L609.3 137.8 L609.5 137.1 L609.8 137.8 L610.1 136.9 L610.4 136.1 L610.6 137.5 L610.9 137.9 L611.2 136.7 L611.5 137.6 L611.8 137.4 L612.0 137.5 L612.3 137.1 L612.6 137.0 L612.9 137.3 L613.1 137.4 L613.4 138.1 L613.7 137.6 L614.0 137.5 L614.3 137.8 L614.5 136.9 L614.8 137.8 L615.1 137.9 L615.4 136.6 L615.6 137.4 L615.9 137.1 L616.2 137.2 L616.5 137.7 L616.7 137.8 L617.0 138.1 L617.3 138.2 L617.6 137.9 L617.9 137.6 L618.1 137.7 L618.4 137.5 L618.7 138.0 L619.0 137.8 L619.2 137.7 L619.5 135.4 L619.8 138.0 L620.1 137.0 L620.4 138.1 L620.6 138.0 L620.9 137.0 L621.2 137.6 L621.5 137.2 L621.7 137.6 L622.0 137.9 L622.3 137.6 L622.6 137.1 L622.8 137.8 L623.1 137.8 L623.4 137.7 L623.7 137.3 L624.0 136.2 L624.2 137.8 L624.5 137.6 L624.8 138.6 L625.1 137.8 L625.3 137.6 L625.6 137.9 L625.9 137.3 L626.2 136.5 L626.5 138.4 L626.7 137.4 L627.0 137.9 L627.3 138.1 L627.6 137.1 L627.8 138.4 L628.1 137.4 L628.4 137.6 L628.7 137.9 L628.9 137.7 L629.2 138.1 L629.5 137.9 L629.8 138.0 L630.1 137.8 L630.3 138.4 L630.6 137.0 L630.9 138.0 L631.2 137.7 L631.5 137.5 L631.7 137.5 L632.0 137.6 L632.3 138.1 L632.6 137.5 L632.9 137.8 L633.1 138.0 L633.4 137.5 L633.7 138.4 L634.0 138.9 L634.3 137.7 L634.5 138.3 L634.8 137.8 L635.1 136.2 L635.4 137.9 L635.7 138.9 L635.9 137.9 L636.2 138.3 L636.5 138.2 L636.8 137.6 L637.1 137.2 L637.3 138.3 L637.6 138.4 L637.9 135.9 L638.2 136.7 L638.5 138.5 L638.7 138.4 L639.0 138.5 L639.3 138.2 L639.6 137.8 L639.8 137.6 L640.1 137.3 L640.4 138.1 L640.7 137.8 L641.0 138.3 L641.2 138.1 L641.5 137.5 L641.8 137.9 L642.1 136.6 L642.4 138.1 L642.6 138.6 L642.9 138.1 L643.2 138.5 L643.5 138.2 L643.8 138.1 L644.0 138.7 L644.3 137.9 L644.6 138.1 L644.9 137.7 L645.2 138.3 L645.4 138.7 L645.7 138.6 L646.0 138.6 L646.3 137.4 L646.6 138.6 L646.8 138.6 L647.1 138.5 L647.4 137.9 L647.7 138.5 L648.0 138.7 L648.2 138.0 L648.5 138.5 L648.8 138.8 L649.1 138.2 L649.4 137.9 L649.6 138.4 L649.9 139.0 L650.2 138.0 L650.5 136.7 L650.8 138.1 L651.0 138.3 L651.3 138.5 L651.6 139.0 L651.9 138.2 L652.2 138.2 L652.4 138.1 L652.7 138.0 L653.0 137.9 L653.3 136.5 L653.6 138.5 L653.8 138.5 L654.1 139.0 L654.4 137.1 L654.7 138.2 L655.0 138.2 L655.2 138.6 L655.5 138.5 L655.8 138.9 L656.1 138.3 L656.4 139.0 L656.6 139.0 L656.9 138.5 L657.2 138.4 L657.5 138.7 L657.7 137.2 L658.0 139.4 L658.3 138.7 L658.6 139.0 L658.9 138.2 L659.1 138.0 L659.4 139.0 L659.7 138.9 L660.0 138.4 L660.3 136.5 L660.5 138.4 L660.8 138.8 L661.1 139.1 L661.4 138.1 L661.7 138.9 L661.9 137.0 L662.2 138.6 L662.5 138.7 L662.8 138.2 L663.1 139.8 L663.3 139.8 L663.6 139.1 L663.9 139.1 L664.2 138.4 L664.5 139.8 L664.7 138.8 L665.0 138.8 L665.3 139.3 L665.6 139.0 L665.9 138.6 L666.1 138.8 L666.4 137.8 L666.7 138.9 L667.0 139.1 L667.2 139.2 L667.5 139.5 L667.7 139.0 L668.0 139.4" fill="none" stroke="#000" stroke-width="1.4" stroke-linejoin="round"/>
<path d="M54.4 175.3 L54.7 175.2 L54.9 172.6 L55.2 176.1 L55.5 172.1 L55.8 175.0 L56.0 173.6 L56.3 171.4 L56.6 171.1 L56.9 170.8 L57.1 171.9 L57.4 173.3 L57.7 170.5 L58.0 168.9 L58.2 168.0 L58.5 168.6 L58.8 169.0 L59.0 167.3 L59.3 168.0 L59.6 168.6 L59.9 167.6 L60.1 168.2 L60.4 168.5 L60.7 167.0 L61.0 167.6 L61.2 167.5 L61.5 167.0 L61.8 166.3 L62.0 164.9 L62.3 165.2 L62.5 164.0 L62.8 165.6 L63.0 160.8 L63.3 161.1 L63.5 160.1 L63.7 158.1 L64.0 155.4 L64.2 152.6 L64.5 155.3 L64.7 157.8 L65.0 159.9 L65.2 163.1 L65.5 163.8 L65.7 170.4 L65.9 173.0 L66.1 172.4 L66.3 174.6 L66.6 176.5 L66.9 173.6 L67.1 174.8 L67.4 176.0 L67.7 174.8 L68.0 175.0 L68.2 175.5 L68.5 176.3 L68.8 177.4 L69.1 174.1 L69.3 177.1 L69.6 177.0 L69.9 173.1 L70.2 176.9 L70.5 177.5 L70.7 177.9 L71.0 178.5 L71.3 176.4 L71.6 176.1 L71.9 178.4 L72.1 177.9 L72.4 180.3 L72.7 180.8 L73.0 179.5 L73.2 181.2 L73.5 180.1 L73.8 180.7 L74.1 179.7 L74.3 182.7 L74.6 178.5 L74.9 181.2 L75.2 184.3 L75.5 179.5 L75.7 181.6 L76.0 182.0 L76.3 181.5 L76.5 180.8 L76.8 179.5 L77.1 178.5 L77.3 180.4 L77.5 180.6 L77.8 181.8 L78.0 183.1 L78.2 183.9 L78.5 185.1 L78.8 183.4 L79.0 187.5 L79.3 184.2 L79.5 187.2 L79.8 186.6 L80.1 186.0 L80.3 187.5 L80.6 180.4 L80.9 187.6 L81.1 186.8 L81.4 185.3 L81.7 187.1 L81.9 184.0 L82.2 189.4 L82.5 188.8 L82.8 187.5 L83.0 186.3 L83.3 186.6 L83.6 187.0 L83.8 183.7 L84.1 186.6 L84.4 184.1 L84.6 187.5 L84.9 187.4 L85.2 184.1 L85.5 187.3 L85.8 191.1 L86.0 187.0 L86.3 187.7 L86.6 189.4 L86.8 188.7 L87.1 189.7 L87.4 190.2 L87.7 190.9 L88.0 190.5 L88.2 188.8 L88.5 191.2 L88.8 188.4 L89.0 190.4 L89.3 190.2 L89.6 189.9 L89.8 191.9 L90.1 191.3 L90.4 192.8 L90.6 190.4 L90.9 193.1 L91.2 193.0 L91.4 192.9 L91.7 191.5 L92.0 192.8 L92.2 191.6 L92.5 191.1 L92.8 196.0 L93.1 194.5 L93.3 195.5 L93.6 193.2 L93.9 194.5 L94.1 194.6 L94.4 194.6 L94.7 193.8 L94.9 193.4 L95.2 191.3 L95.5 194.0 L95.7 193.6 L96.0 194.2 L96.2 191.8 L96.5 191.3 L96.7 188.7 L96.9 188.2 L97.2 187.8 L97.4 186.3 L97.6 187.7 L97.8 189.7 L98.1 191.6 L98.3 193.1 L98.5 193.7 L98.8 196.6 L99.0 195.4 L99.3 196.6 L99.6 193.1 L99.8 195.7 L100.1 196.4 L100.4 195.3 L100.7 195.0 L100.9 196.5 L101.2 195.9 L101.5 195.8 L101.7 197.8 L102.0 195.4 L102.3 197.3 L102.5 196.7 L102.8 197.9 L103.1 198.4 L103.4 198.3 L103.6 196.3 L103.9 197.7 L104.2 200.9 L104.4 199.1 L104.7 199.6 L105.0 199.6 L105.3 197.8 L105.5 198.4 L105.8 198.0 L106.1 198.0 L106.3 199.9 L106.6 200.5 L106.9 201.2 L107.2 200.0 L107.4 199.3 L107.7 198.3 L108.0 200.8 L108.3 202.8 L108.5 202.3 L108.8 200.5 L109.1 202.5 L109.3 201.7 L109.6 199.0 L109.8 199.2 L110.1 196.5 L110.3 197.8 L110.6 196.7 L110.8 195.6 L111.0 194.5 L111.3 192.8 L111.5 191.9 L111.7 193.5 L112.0 193.9 L112.2 195.7 L112.5 196.8 L112.7 200.1 L113.0 199.0 L113.2 198.9 L113.5 200.8 L113.7 200.3 L114.0 203.8 L114.3 199.8 L114.5 203.9 L114.8 203.8 L115.1 203.4 L115.4 204.1 L115.6 203.4 L115.9 202.6 L116.2 202.3 L116.4 203.0 L116.7 201.0 L117.0 205.6 L117.2 201.7 L117.5 203.8 L117.8 202.6 L118.1 202.0 L118.3 205.7 L118.6 204.0 L118.9 204.2 L119.1 205.1 L119.4 204.0 L119.7 205.1 L120.0 205.3 L120.2 204.5 L120.5 204.7 L120.8 205.7 L121.0 205.3 L121.3 203.1 L121.6 202.9 L121.9 205.6 L122.1 203.5 L122.4 205.6 L122.7 206.2 L122.9 207.9 L123.2 206.1 L123.5 208.8 L123.8 205.4 L124.0 205.5 L124.3 206.0 L124.6 205.5 L124.8 206.7 L125.1 205.8 L125.4 206.7 L125.6 205.5 L125.9 205.3 L126.2 206.5 L126.5 206.2 L126.7 206.7 L127.0 206.9 L127.3 207.1 L127.5 208.5 L127.8 208.8 L128.1 208.1 L128.4 207.0 L128.7 208.9 L128.9 205.7 L129.2 205.1 L129.5 207.5 L129.8 207.2 L130.0 204.2 L130.3 209.2 L130.6 202.1 L130.8 205.8 L131.1 208.3 L131.4 209.5 L131.7 206.2 L131.9 208.9 L132.2 205.7 L132.5 206.2 L132.8 207.1 L133.0 203.6 L133.3 208.0 L133.6 206.5 L133.9 206.1 L134.1 207.3 L134.4 206.8 L134.7 204.9 L135.0 205.1 L135.2 205.9 L135.5 205.4 L135.8 204.5 L136.0 205.6 L136.3 202.7 L136.6 204.2 L136.8 205.5 L137.1 202.8 L137.4 202.6 L137.7 204.7 L137.9 203.1 L138.2 202.7 L138.5 203.3 L138.7 202.7 L139.0 203.6 L139.3 201.6 L139.6 202.6 L139.8 202.0 L140.1 202.7 L140.3 199.5 L140.6 198.8 L140.8 199.9 L141.1 199.7 L141.3 197.3 L141.6 195.4 L141.8 195.4 L142.1 192.4 L142.4 188.9 L142.6 186.9 L142.9 183.8 L143.2 187.0 L143.4 189.3 L143.7 192.5 L144.0 195.1 L144.2 197.3 L144.5 198.4 L144.8 199.7 L145.0 201.9 L145.3 200.5 L145.5 203.8 L145.8 203.3 L146.1 202.0 L146.4 202.2 L146.6 203.7 L146.9 201.5 L147.2 201.9 L147.4 200.6 L147.7 201.3 L148.0 202.9 L148.2 201.4 L148.5 202.6 L148.8 199.9 L149.1 199.5 L149.3 201.2 L149.6 199.1 L149.9 203.4 L150.1 202.0 L150.4 199.3 L150.7 197.9 L151.0 199.9 L151.2 200.9 L151.5 200.3 L151.8 201.1 L152.0 201.3 L152.3 199.2 L152.6 197.9 L152.9 199.4 L153.1 198.3 L153.4 199.3 L153.7 197.7 L153.9 198.4 L154.2 198.7 L154.5 196.7 L154.8 196.1 L155.0 197.0 L155.3 198.5 L155.6 196.4 L155.9 193.2 L156.1 195.7 L156.4 194.7 L156.7 193.1 L156.9 194.5 L157.2 195.6 L157.5 193.5 L157.8 194.8 L158.0 193.9 L158.3 195.1 L158.6 194.0 L158.8 193.9 L159.1 195.0 L159.4 194.1 L159.7 192.9 L159.9 191.8 L160.2 191.9 L160.5 191.5 L160.7 192.3 L161.0 190.3 L161.3 192.6 L161.5 191.0 L161.8 190.2 L162.1 191.3 L162.4 188.0 L162.6 189.1 L162.9 189.1 L163.2 190.1 L163.5 188.1 L163.7 189.5 L164.0 186.9 L164.3 187.3 L164.6 185.5 L164.8 186.8 L165.1 184.7 L165.4 184.9 L165.7 183.3 L165.9 182.1 L166.2 182.4 L166.5 183.2 L166.8 180.3 L167.0 178.8 L167.3 177.8 L167.5 176.8 L167.8 174.9 L168.0 175.6 L168.3 176.4 L168.5 176.8 L168.8 177.6 L169.0 179.3 L169.3 178.7 L169.5 179.1 L169.8 179.7 L170.0 178.5 L170.3 177.3 L170.6 176.9 L170.9 176.5 L171.1 177.0 L171.4 177.0 L171.7 177.3 L171.9 174.6 L172.2 175.1 L172.5 176.5 L172.8 174.9 L173.0 173.0 L173.3 176.7 L173.6 173.4 L173.8 173.9 L174.1 174.3 L174.4 173.5 L174.6 172.8 L174.9 172.9 L175.2 173.1 L175.5 172.6 L175.7 171.9 L176.0 170.7 L176.3 170.5 L176.5 168.8 L176.8 169.8 L177.1 170.0 L177.4 169.1 L177.6 171.3 L177.9 168.3 L178.2 173.8 L178.5 168.7 L178.7 168.0 L179.0 167.6 L179.3 169.3 L179.6 169.3 L179.8 163.9 L180.1 168.0 L180.4 166.5 L180.6 165.3 L180.9 164.6 L181.2 164.2 L181.4 161.7 L181.7 160.5 L182.0 159.6 L182.2 159.1 L182.5 158.2 L182.7 158.6 L183.0 159.4 L183.2 162.0 L183.5 162.2 L183.7 164.2 L184.0 164.1 L184.2 165.7 L184.5 164.8 L184.7 167.7 L185.0 164.7 L185.3 165.6 L185.5 167.1 L185.8 168.4 L186.1 170.1 L186.3 168.3 L186.6 167.7 L186.9 168.2 L187.1 168.6 L187.4 169.9 L187.7 168.7 L187.9 167.1 L188.2 170.1 L188.5 169.1 L188.7 168.1 L189.0 169.2 L189.3 168.5 L189.5 171.9 L189.8 169.6 L190.1 168.0 L190.4 170.6 L190.6 169.6 L190.9 172.0 L191.2 171.0 L191.4 167.3 L191.7 170.7 L192.0 170.2 L192.3 170.7 L192.5 171.0 L192.8 169.8 L193.1 172.3 L193.4 171.3 L193.6 171.5 L193.9 173.4 L194.2 175.0 L194.4 170.1 L194.7 175.7 L195.0 172.1 L195.3 175.2 L195.5 174.5 L195.8 175.4 L196.1 174.9 L196.4 175.7 L196.6 176.4 L196.9 176.8 L197.2 178.0 L197.4 180.4 L197.7 177.7 L198.0 178.6 L198.3 177.3 L198.5 177.0 L198.8 181.5 L199.1 178.1 L199.3 178.1 L199.6 180.1 L199.9 178.8 L200.2 177.6 L200.4 178.7 L200.7 176.0 L201.0 170.3 L201.3 175.3 L201.5 174.7 L201.8 173.8 L202.1 173.4 L202.4 172.8 L202.6 173.0 L202.9 171.7 L203.2 172.7 L203.4 174.6 L203.7 175.2 L204.0 177.2 L204.3 178.7 L204.6 178.7 L204.8 180.3 L205.1 179.9 L205.4 185.1 L205.6 185.1 L205.9 184.8 L206.2 183.2 L206.5 184.3 L206.7 184.9 L207.0 182.8 L207.3 182.7 L207.5 181.0 L207.8 181.1 L208.1 179.2 L208.3 177.5 L208.6 176.4 L208.9 174.9 L209.1 174.2 L209.4 172.8 L209.6 175.1 L209.9 176.9 L210.1 178.8 L210.4 181.8 L210.6 182.7 L210.9 185.8 L211.1 187.7 L211.4 187.0 L211.6 188.4 L211.9 186.6 L212.2 187.9 L212.4 190.3 L212.7 191.4 L213.0 191.9 L213.2 191.2 L213.5 191.7 L213.8 192.1 L214.0 192.4 L214.3 192.0 L214.6 195.0 L214.8 194.9 L215.1 195.3 L215.4 194.2 L215.6 194.7 L215.9 194.1 L216.2 197.0 L216.5 198.2 L216.7 198.6 L217.0 199.8 L217.3 194.9 L217.6 201.0 L217.8 199.6 L218.1 200.7 L218.4 201.2 L218.6 200.5 L218.9 201.1 L219.2 202.3 L219.5 200.8 L219.7 202.2 L220.0 200.5 L220.3 202.2 L220.6 203.9 L220.8 203.3 L221.1 200.9 L221.4 203.0 L221.7 203.5 L221.9 206.0 L222.2 204.4 L222.5 205.3 L222.8 205.0 L223.0 205.3 L223.3 205.5 L223.6 202.4 L223.8 203.7 L224.1 201.6 L224.4 204.1 L224.7 202.9 L224.9 206.0 L225.2 203.7 L225.5 205.0 L225.8 202.5 L226.0 204.6 L226.3 204.9 L226.6 204.3 L226.9 205.6 L227.1 206.9 L227.4 203.1 L227.7 202.7 L227.9 205.0 L228.2 201.4 L228.5 201.9 L228.7 200.5 L229.0 202.2 L229.3 201.2 L229.5 201.0 L229.8 199.8 L230.1 199.6 L230.3 199.1 L230.6 198.7 L230.9 200.5 L231.2 202.4 L231.4 202.6 L231.7 203.2 L232.0 206.5 L232.2 207.8 L232.5 208.1 L232.8 209.6 L233.1 210.6 L233.3 212.2 L233.6 214.6 L233.9 216.3 L234.2 215.9 L234.5 214.4 L234.7 213.0 L235.0 213.6 L235.3 212.3 L235.6 211.4 L235.8 211.9 L236.1 211.5 L236.4 210.8 L236.7 209.8 L236.9 209.1 L237.2 209.2 L237.5 208.3 L237.8 209.6 L238.0 209.7 L238.3 210.6 L238.6 211.0 L238.8 214.4 L239.1 212.5 L239.3 213.7 L239.6 213.9 L239.9 215.0 L240.1 216.8 L240.4 216.8 L240.7 216.9 L240.9 218.4 L241.2 216.0 L241.5 218.8 L241.8 219.5 L242.0 216.6 L242.3 215.2 L242.6 217.2 L242.8 216.6 L243.1 218.1 L243.4 219.8 L243.6 220.3 L243.9 219.3 L244.2 219.1 L244.5 219.7 L244.7 219.7 L245.0 220.0 L245.3 218.4 L245.5 220.9 L245.8 222.4 L246.1 223.9 L246.3 222.5 L246.6 221.8 L246.9 222.2 L247.2 222.7 L247.4 221.8 L247.7 220.5 L248.0 222.1 L248.3 221.2 L248.5 223.4 L248.8 222.7 L249.1 222.7 L249.4 223.6 L249.6 224.1 L249.9 224.8 L250.2 224.2 L250.5 222.1 L250.7 223.7 L251.0 225.8 L251.3 224.6 L251.5 223.0 L251.8 223.9 L252.1 224.0 L252.3 222.5 L252.6 224.1 L252.8 222.7 L253.1 223.3 L253.4 222.0 L253.6 223.6 L253.9 224.4 L254.2 223.4 L254.5 223.9 L254.7 223.8 L255.0 225.0 L255.3 225.0 L255.6 225.8 L255.8 225.4 L256.1 224.4 L256.4 224.3 L256.6 225.0 L256.9 225.8 L257.2 227.6 L257.4 226.0 L257.7 224.3 L258.0 222.7 L258.2 225.2 L258.5 224.6 L258.8 223.1 L259.1 225.2 L259.3 224.1 L259.6 223.6 L259.9 221.8 L260.1 224.7 L260.4 223.7 L260.7 223.7 L260.9 223.4 L261.2 224.4 L261.5 226.5 L261.8 226.1 L262.0 228.1 L262.3 227.5 L262.6 224.8 L262.9 228.1 L263.1 227.8 L263.4 226.5 L263.7 227.2 L264.0 228.0 L264.2 226.5 L264.5 226.2 L264.8 225.8 L265.1 228.7 L265.3 225.4 L265.6 225.5 L265.9 225.5 L266.2 227.2 L266.4 227.2 L266.7 225.3 L267.0 226.3 L267.3 221.6 L267.5 225.3 L267.8 227.8 L268.1 226.0 L268.4 224.8 L268.6 223.3 L268.9 224.2 L269.2 222.9 L269.5 222.4 L269.8 225.7 L270.0 226.0 L270.3 226.0 L270.6 223.9 L270.8 224.7 L271.1 228.3 L271.4 226.1 L271.7 227.1 L271.9 226.7 L272.2 226.8 L272.5 227.3 L272.7 225.0 L273.0 223.7 L273.2 223.6 L273.5 223.2 L273.8 222.4 L274.0 221.7 L274.3 221.5 L274.6 222.8 L274.8 224.0 L275.1 223.2 L275.4 225.5 L275.6 225.2 L275.9 225.8 L276.1 229.9 L276.4 229.6 L276.7 232.4 L276.9 229.8 L277.2 233.4 L277.5 232.0 L277.7 234.6 L278.0 231.6 L278.3 231.2 L278.5 232.0 L278.8 231.6 L279.1 230.7 L279.3 232.0 L279.6 231.7 L279.9 229.4 L280.2 231.0 L280.4 229.7 L280.7 229.6 L281.0 230.8 L281.2 229.0 L281.5 231.6 L281.8 229.7 L282.0 230.9 L282.3 230.5 L282.6 229.5 L282.8 230.9 L283.1 230.0 L283.4 228.6 L283.6 229.7 L283.9 227.9 L284.2 228.7 L284.4 228.7 L284.7 231.2 L285.0 232.6 L285.2 230.6 L285.5 229.6 L285.8 231.8 L286.1 231.7 L286.3 231.0 L286.6 231.9 L286.9 231.6 L287.1 230.6 L287.4 229.7 L287.7 231.5 L287.9 231.2 L288.2 232.1 L288.5 233.9 L288.7 234.3 L289.0 233.6 L289.3 231.6 L289.6 231.0 L289.8 232.4 L290.1 231.8 L290.4 232.1 L290.6 230.7 L290.9 230.9 L291.2 230.7 L291.5 231.0 L291.7 229.8 L292.0 231.0 L292.3 232.3 L292.5 232.3 L292.8 233.0 L293.1 231.5 L293.4 234.3 L293.6 230.4 L293.9 232.7 L294.2 229.2 L294.5 231.4 L294.7 231.0 L295.0 229.7 L295.3 231.5 L295.5 231.1 L295.8 230.6 L296.1 230.8 L296.4 231.4 L296.6 230.8 L296.9 230.3 L297.2 230.9 L297.4 231.6 L297.7 230.8 L298.0 229.9 L298.2 231.6 L298.5 230.4 L298.8 231.3 L299.0 230.5 L299.3 226.7 L299.6 229.2 L299.9 229.6 L300.1 230.2 L300.4 228.1 L300.7 230.8 L300.9 231.5 L301.2 230.1 L301.5 229.1 L301.7 228.5 L302.0 230.4 L302.3 227.7 L302.5 230.2 L302.8 230.8 L303.1 229.5 L303.4 230.1 L303.6 230.7 L303.9 230.3 L304.2 231.2 L304.5 229.8 L304.7 228.1 L305.0 230.0 L305.3 230.4 L305.6 234.7 L305.8 230.1 L306.1 231.5 L306.4 230.6 L306.7 234.1 L307.0 231.2 L307.2 232.6 L307.5 231.0 L307.8 234.8 L308.1 230.9 L308.3 232.8 L308.6 231.2 L308.9 233.5 L309.2 228.1 L309.4 232.4 L309.7 228.5 L310.0 232.7 L310.3 233.1 L310.6 235.0 L310.8 230.7 L311.1 233.8 L311.4 233.3 L311.6 232.6 L311.9 233.0 L312.2 233.7 L312.5 235.2 L312.8 233.3 L313.0 232.5 L313.3 232.9 L313.6 233.9 L313.9 232.4 L314.1 232.9 L314.4 233.5 L314.7 233.8 L314.9 233.9 L315.2 233.3 L315.5 231.4 L315.8 234.4 L316.1 234.6 L316.3 234.9 L316.6 234.0 L316.9 234.5 L317.2 233.4 L317.4 230.0 L317.7 233.5 L318.0 233.5 L318.2 236.4 L318.5 234.6 L318.8 233.3 L319.1 233.5 L319.4 234.0 L319.6 234.2 L319.9 235.7 L320.2 233.8 L320.4 237.8 L320.7 233.1 L321.0 234.0 L321.3 236.5 L321.6 235.3 L321.8 235.1 L322.1 235.7 L322.4 235.0 L322.7 235.4 L322.9 235.7 L323.2 235.8 L323.5 236.1 L323.8 235.2 L324.0 236.3 L324.3 235.3 L324.6 236.8 L324.9 236.1 L325.1 236.6 L325.4 236.8 L325.7 235.8 L326.0 236.1 L326.2 238.3 L326.5 237.4 L326.8 238.0 L327.1 237.1 L327.3 236.6 L327.6 237.6 L327.9 237.5 L328.2 238.5 L328.4 239.2 L328.7 240.1 L329.0 236.5 L329.3 237.9 L329.5 238.5 L329.8 239.6 L330.1 239.7 L330.4 239.2 L330.6 240.1 L330.9 238.9 L331.2 239.3 L331.5 237.4 L331.7 240.0 L332.0 241.8 L332.3 239.5 L332.6 239.4 L332.8 241.1 L333.1 235.8 L333.4 240.6 L333.7 240.9 L333.9 242.4 L334.2 243.6 L334.5 241.1 L334.8 239.6 L335.0 241.2 L335.3 241.6 L335.6 239.9 L335.9 241.2 L336.1 242.4 L336.4 241.3 L336.7 239.9 L337.0 240.1 L337.2 239.0 L337.5 240.2 L337.8 240.0 L338.1 242.0 L338.4 237.2 L338.6 238.9 L338.9 240.7 L339.2 241.1 L339.4 239.9 L339.7 240.6 L340.0 238.2 L340.3 241.3 L340.5 241.1 L340.8 241.4 L341.1 239.4 L341.4 242.0 L341.6 241.5 L341.9 240.7 L342.2 241.3 L342.4 241.6 L342.7 241.5 L343.0 242.0 L343.3 241.9 L343.5 241.0 L343.8 244.9 L344.1 243.0 L344.4 241.7 L344.6 239.2 L344.9 244.1 L345.2 242.2 L345.5 245.1 L345.7 243.2 L346.0 242.9 L346.3 241.9 L346.6 242.2 L346.8 243.3 L347.1 241.3 L347.4 241.1 L347.7 240.4 L347.9 240.7 L348.2 242.3 L348.5 242.4 L348.8 241.3 L349.0 242.6 L349.3 240.6 L349.6 240.7 L349.9 243.4 L350.1 241.9 L350.4 241.4 L350.7 240.5 L351.0 242.3 L351.2 243.6 L351.5 241.5 L351.8 239.5 L352.0 238.1 L352.3 242.1 L352.6 241.2 L352.8 239.5 L353.1 244.0 L353.4 243.0 L353.7 241.8 L353.9 241.7 L354.2 240.9 L354.5 244.0 L354.7 243.2 L355.0 241.8 L355.3 242.7 L355.5 240.2 L355.8 245.3 L356.1 240.6 L356.4 242.3 L356.6 242.7 L356.9 243.7 L357.2 242.9 L357.4 243.8 L357.7 244.0 L358.0 242.2 L358.3 244.4 L358.5 245.6 L358.8 242.0 L359.1 244.6 L359.3 243.4 L359.6 243.5 L359.9 244.4 L360.1 243.2 L360.4 242.5 L360.7 243.3 L361.0 243.6 L361.2 244.5 L361.5 244.5 L361.8 244.8 L362.0 245.1 L362.3 245.1 L362.6 244.3 L362.8 245.5 L363.1 244.3 L363.4 245.1 L363.7 244.1 L363.9 247.0 L364.2 241.5 L364.5 246.3 L364.7 245.1 L365.0 243.9 L365.3 242.7 L365.6 240.4 L365.8 245.8 L366.1 243.6 L366.4 245.3 L366.6 243.9 L366.9 243.7 L367.2 242.9 L367.4 246.6 L367.7 244.9 L368.0 244.5 L368.3 244.2 L368.5 244.1 L368.8 243.6 L369.1 242.2 L369.3 242.4 L369.6 243.6 L369.9 242.0 L370.1 244.7 L370.4 242.7 L370.7 244.4 L371.0 242.6 L371.2 243.2 L371.5 243.7 L371.8 243.3 L372.1 243.4 L372.3 240.9 L372.6 243.7 L372.9 241.1 L373.2 242.1 L373.4 240.3 L373.7 242.6 L374.0 242.3 L374.3 242.7 L374.5 242.0 L374.8 242.9 L375.1 242.3 L375.4 242.9 L375.6 244.0 L375.9 240.9 L376.2 243.2 L376.5 245.5 L376.7 241.7 L377.0 242.9 L377.3 244.9 L377.6 243.6 L377.9 242.3 L378.1 243.5 L378.4 242.9 L378.7 242.6 L378.9 241.6 L379.2 241.7 L379.5 241.6 L379.8 241.7 L380.1 241.1 L380.3 238.0 L380.6 240.1 L380.9 240.0 L381.1 239.6 L381.4 240.5 L381.7 239.6 L382.0 239.0 L382.2 240.3 L382.5 242.0 L382.8 239.2 L383.1 240.6 L383.4 238.6 L383.6 239.3 L383.9 240.0 L384.2 240.1 L384.4 241.1 L384.7 238.3 L385.0 238.8 L385.3 240.1 L385.6 239.9 L385.8 237.6 L386.1 238.4 L386.4 239.2 L386.6 239.2 L386.9 236.8 L387.1 237.9 L387.4 235.0 L387.7 238.2 L387.9 240.5 L388.2 235.5 L388.5 236.2 L388.7 234.8 L389.0 233.3 L389.2 238.6 L389.5 236.2 L389.8 236.3 L390.1 234.7 L390.3 235.6 L390.6 238.8 L390.9 237.3 L391.2 237.0 L391.4 238.0 L391.7 237.4 L392.0 238.5 L392.3 237.8 L392.6 238.2 L392.8 237.6 L393.1 241.3 L393.4 240.6 L393.7 240.7 L394.0 241.2 L394.2 240.4 L394.5 240.9 L394.8 241.6 L395.1 242.0 L395.3 242.1 L395.6 241.3 L395.9 240.4 L396.2 244.4 L396.4 242.9 L396.7 242.7 L397.0 242.7 L397.3 243.1 L397.5 242.9 L397.8 240.4 L398.1 243.8 L398.4 243.7 L398.6 244.8 L398.9 244.3 L399.2 245.2 L399.5 243.7 L399.8 245.4 L400.0 245.1 L400.3 244.9 L400.6 245.7 L400.8 246.0 L401.1 245.5 L401.4 245.4 L401.7 243.5 L401.9 244.3 L402.2 246.8 L402.5 245.4 L402.8 245.5 L403.1 247.3 L403.3 243.5 L403.6 246.4 L403.9 246.0 L404.1 243.3 L404.4 244.7 L404.7 245.9 L405.0 244.7 L405.2 244.7 L405.5 246.1 L405.8 245.3 L406.1 245.7 L406.4 245.4 L406.6 245.7 L406.9 245.9 L407.2 247.9 L407.4 246.1 L407.7 244.9 L408.0 244.4 L408.3 246.1 L408.6 248.5 L408.8 244.5 L409.1 246.8 L409.4 246.4 L409.6 247.9 L409.9 245.3 L410.2 245.1 L410.5 246.9 L410.8 244.1 L411.0 247.2 L411.3 247.5 L411.6 246.8 L411.9 248.0 L412.1 247.2 L412.4 246.6 L412.7 246.2 L412.9 246.4 L413.2 245.7 L413.5 247.1 L413.8 247.5 L414.1 247.6 L414.3 247.5 L414.6 245.4 L414.9 247.6 L415.2 247.1 L415.4 249.6 L415.7 245.7 L416.0 249.5 L416.2 248.7 L416.5 249.0 L416.8 250.2 L417.1 246.6 L417.3 249.7 L417.6 248.6 L417.9 249.4 L418.2 248.0 L418.4 248.5 L418.7 246.5 L419.0 247.2 L419.2 246.5 L419.5 250.3 L419.8 247.5 L420.1 247.9 L420.3 248.0 L420.6 248.1 L420.9 247.8 L421.1 246.0 L421.4 247.9 L421.7 247.4 L422.0 249.0 L422.2 249.1 L422.5 248.5 L422.8 246.4 L423.1 247.4 L423.3 249.4 L423.6 248.3 L423.9 249.0 L424.1 247.5 L424.4 248.9 L424.7 248.9 L425.0 247.3 L425.2 248.1 L425.5 247.0 L425.8 246.6 L426.1 249.3 L426.3 248.6 L426.6 247.4 L426.9 247.9 L427.2 249.1 L427.5 247.4 L427.7 245.5 L428.0 250.4 L428.3 246.5 L428.6 247.6 L428.9 245.8 L429.1 245.8 L429.4 248.5 L429.7 246.8 L430.0 248.8 L430.2 249.8 L430.5 246.5 L430.8 248.9 L431.1 249.0 L431.4 249.7 L431.6 246.9 L431.9 248.8 L432.2 249.1 L432.5 249.2 L432.8 247.8 L433.0 247.1 L433.3 248.5 L433.6 245.9 L433.9 246.7 L434.2 249.7 L434.4 247.2 L434.7 250.7 L435.0 248.7 L435.3 248.9 L435.6 251.2 L435.8 249.5 L436.1 248.2 L436.4 248.0 L436.7 245.9 L437.0 243.2 L437.2 249.0 L437.5 248.6 L437.8 247.8 L438.1 249.5 L438.4 247.9 L438.6 246.7 L438.9 247.4 L439.2 246.8 L439.5 248.8 L439.8 250.5 L440.0 244.7 L440.3 246.2 L440.6 249.6 L440.9 249.1 L441.2 248.8 L441.4 247.3 L441.7 248.1 L442.0 250.7 L442.3 248.6 L442.6 248.4 L442.8 247.2 L443.1 247.1 L443.4 250.3 L443.7 247.8 L444.0 247.5 L444.2 248.4 L444.5 247.9 L444.8 247.7 L445.1 249.1 L445.4 249.2 L445.6 246.9 L445.9 248.3 L446.2 249.3 L446.5 250.4 L446.8 249.2 L447.0 247.2 L447.3 248.9 L447.6 248.3 L447.9 248.9 L448.2 244.9 L448.4 247.6 L448.7 248.7 L449.0 248.8 L449.3 249.0 L449.6 246.9 L449.8 247.9 L450.1 248.2 L450.4 248.1 L450.7 248.1 L450.9 248.6 L451.2 249.9 L451.5 251.8 L451.8 251.4 L452.1 249.1 L452.3 246.0 L452.6 247.9 L452.9 249.2 L453.2 247.7 L453.4 249.9 L453.7 248.0 L454.0 248.9 L454.3 248.3 L454.6 249.1 L454.8 247.3 L455.1 248.5 L455.4 247.9 L455.7 245.5 L455.9 247.2 L456.2 249.9 L456.5 247.8 L456.8 249.7 L457.1 248.8 L457.3 249.5 L457.6 249.0 L457.9 249.0 L458.2 247.7 L458.4 251.8 L458.7 250.2 L459.0 250.1 L459.3 246.8 L459.6 248.4 L459.8 245.7 L460.1 249.4 L460.4 248.5 L460.7 247.8 L460.9 249.3 L461.2 250.1 L461.5 250.5 L461.8 248.4 L462.1 248.7 L462.3 248.4 L462.6 250.2 L462.9 249.3 L463.2 248.9 L463.4 248.1 L463.7 250.9 L464.0 249.5 L464.3 249.6 L464.6 249.1 L464.8 248.0 L465.1 250.9 L465.4 249.6 L465.7 249.9 L465.9 248.9 L466.2 251.0 L466.5 248.8 L466.8 249.2 L467.1 248.7 L467.3 248.5 L467.6 250.5 L467.9 249.2 L468.2 248.6 L468.4 249.5 L468.7 249.4 L469.0 249.7 L469.3 249.1 L469.5 249.9 L469.8 247.9 L470.1 248.7 L470.4 250.4 L470.7 250.6 L470.9 247.8 L471.2 250.1 L471.5 249.6 L471.8 250.9 L472.0 248.6 L472.3 250.1 L472.6 250.6 L472.9 248.3 L473.2 249.0 L473.4 250.7 L473.7 249.4 L474.0 250.6 L474.3 249.9 L474.5 248.2 L474.8 247.1 L475.1 250.1 L475.4 249.1 L475.6 250.8 L475.9 246.2 L476.2 249.6 L476.5 249.4 L476.8 248.8 L477.0 248.2 L477.3 247.6 L477.6 248.4 L477.9 249.5 L478.1 249.1 L478.4 249.5 L478.7 249.5 L479.0 249.2 L479.3 249.9 L479.5 248.2 L479.8 248.1 L480.1 250.0 L480.4 248.0 L480.6 248.6 L480.9 245.7 L481.2 249.3 L481.5 250.6 L481.7 250.1 L482.0 248.2 L482.3 251.2 L482.6 249.4 L482.9 249.5 L483.1 249.0 L483.4 249.4 L483.7 250.6 L484.0 247.3 L484.2 249.1 L484.5 249.5 L484.8 250.6 L485.1 249.0 L485.4 250.6 L485.6 248.6 L485.9 250.7 L486.2 252.7 L486.5 249.2 L486.7 249.4 L487.0 249.5 L487.3 246.6 L487.6 249.1 L487.8 251.1 L488.1 250.2 L488.4 250.2 L488.7 248.1 L489.0 249.6 L489.2 250.8 L489.5 249.7 L489.8 249.0 L490.1 249.4 L490.3 250.3 L490.6 249.3 L490.9 247.2 L491.2 248.6 L491.4 251.9 L491.7 247.7 L492.0 249.3 L492.3 249.7 L492.6 251.5 L492.8 250.7 L493.1 251.8 L493.4 247.2 L493.7 249.3 L493.9 247.5 L494.2 247.9 L494.5 250.1 L494.8 248.1 L495.1 249.6 L495.3 249.0 L495.6 249.8 L495.9 248.6 L496.2 248.6 L496.4 250.3 L496.7 249.4 L497.0 249.0 L497.3 248.6 L497.5 249.1 L497.8 248.4 L498.1 249.1 L498.4 248.3 L498.7 246.6 L498.9 246.6 L499.2 247.6 L499.5 250.4 L499.8 249.7 L500.0 247.8 L500.3 247.4 L500.6 247.6 L500.9 247.9 L501.2 247.6 L501.4 247.5 L501.7 248.3 L502.0 247.4 L502.3 248.0 L502.5 249.5 L502.8 247.7 L503.1 247.9 L503.4 247.7 L503.6 247.5 L503.9 248.0 L504.2 248.2 L504.5 245.6 L504.8 248.0 L505.0 247.2 L505.3 247.4 L505.6 248.3 L505.9 247.0 L506.1 248.0 L506.4 247.5 L506.7 247.4 L507.0 246.8 L507.3 246.5 L507.5 247.3 L507.8 248.5 L508.1 247.6 L508.4 248.4 L508.6 247.1 L508.9 245.4 L509.2 248.3 L509.5 247.0 L509.7 248.1 L510.0 247.7 L510.3 247.8 L510.6 247.4 L510.9 244.3 L511.1 247.8 L511.4 247.3 L511.7 248.9 L512.0 248.0 L512.2 247.4 L512.5 247.8 L512.8 245.6 L513.1 247.2 L513.3 247.9 L513.6 247.8 L513.9 246.2 L514.2 246.5 L514.5 246.6 L514.7 244.0 L515.0 247.5 L515.3 249.0 L515.6 248.6 L515.8 246.5 L516.1 248.0 L516.4 246.9 L516.7 248.2 L517.0 246.7 L517.2 248.8 L517.5 246.8 L517.8 247.1 L518.1 246.5 L518.3 248.3 L518.6 247.6 L518.9 248.0 L519.2 248.3 L519.4 246.7 L519.7 249.3 L520.0 248.4 L520.3 247.9 L520.6 247.6 L520.8 247.4 L521.1 247.1 L521.4 246.2 L521.7 247.8 L521.9 247.6 L522.2 247.1 L522.5 247.8 L522.8 249.8 L523.1 248.2 L523.3 243.6 L523.6 245.3 L523.9 248.4 L524.2 246.3 L524.4 248.0 L524.7 248.4 L525.0 248.4 L525.3 249.8 L525.6 247.3 L525.8 248.0 L526.1 244.4 L526.4 246.4 L526.7 246.9 L526.9 249.3 L527.2 249.3 L527.5 246.9 L527.8 248.6 L528.1 244.3 L528.3 248.7 L528.6 244.0 L528.9 248.1 L529.2 248.0 L529.4 246.9 L529.7 243.8 L530.0 247.3 L530.3 247.9 L530.6 249.6 L530.8 251.7 L531.1 249.6 L531.4 248.5 L531.7 248.9 L531.9 246.9 L532.2 248.0 L532.5 249.1 L532.8 248.3 L533.1 247.2 L533.3 248.4 L533.6 248.2 L533.9 248.1 L534.2 247.4 L534.4 248.7 L534.7 247.8 L535.0 247.2 L535.3 248.0 L535.6 248.6 L535.8 249.4 L536.1 249.2 L536.4 246.2 L536.7 249.1 L536.9 248.6 L537.2 248.5 L537.5 247.7 L537.8 249.8 L538.1 248.6 L538.3 247.8 L538.6 247.3 L538.9 248.0 L539.2 248.1 L539.4 246.9 L539.7 249.4 L540.0 249.2 L540.3 248.4 L540.6 249.4 L540.8 245.1 L541.1 246.9 L541.4 248.2 L541.7 249.3 L542.0 246.9 L542.2 245.7 L542.5 250.4 L542.8 245.2 L543.1 245.8 L543.3 247.2 L543.6 246.3 L543.9 248.5 L544.2 246.7 L544.5 247.3 L544.7 247.7 L545.0 246.5 L545.3 246.9 L545.6 244.4 L545.8 248.4 L546.1 246.3 L546.4 245.9 L546.7 245.4 L547.0 246.2 L547.2 245.3 L547.5 246.1 L547.8 245.1 L548.1 244.3 L548.3 244.9 L548.6 244.8 L548.9 246.0 L549.2 245.6 L549.5 244.9 L549.7 245.7 L550.0 244.7 L550.3 245.2 L550.6 244.9 L550.9 244.0 L551.1 244.1 L551.4 244.8 L551.7 244.9 L552.0 243.7 L552.2 244.9 L552.5 244.7 L552.8 245.7 L553.1 243.5 L553.3 243.0 L553.6 242.8 L553.9 244.7 L554.2 243.8 L554.4 243.3 L554.7 244.5 L555.0 245.1 L555.3 246.1 L555.5 245.3 L555.8 243.3 L556.1 245.4 L556.4 239.8 L556.6 244.2 L556.9 244.5 L557.2 242.1 L557.5 243.7 L557.8 243.6 L558.0 245.7 L558.3 241.1 L558.6 244.1 L558.9 243.1 L559.1 243.3 L559.4 242.1 L559.7 244.1 L560.0 244.3 L560.2 244.1 L560.5 239.1 L560.8 240.8 L561.1 242.6 L561.3 243.8 L561.6 243.4 L561.9 242.2 L562.2 241.7 L562.4 244.1 L562.7 243.8 L563.0 241.7 L563.3 242.6 L563.5 242.8 L563.8 245.2 L564.1 244.0 L564.4 244.6 L564.7 242.7 L564.9 244.1 L565.2 243.8 L565.5 244.3 L565.8 244.8 L566.0 244.4 L566.3 243.6 L566.6 246.1 L566.9 242.2 L567.2 245.5 L567.4 243.5 L567.7 246.0 L568.0 245.9 L568.3 245.3 L568.6 245.2 L568.8 246.5 L569.1 246.2 L569.4 245.6 L569.7 247.4 L570.0 248.0 L570.2 247.6 L570.5 248.3 L570.8 245.4 L571.1 249.4 L571.4 249.0 L571.6 247.8 L571.9 249.5 L572.2 248.9 L572.5 248.2 L572.7 248.2 L573.0 248.8 L573.3 247.2 L573.6 248.7 L573.9 245.8 L574.1 248.2 L574.4 249.1 L574.7 250.6 L575.0 248.6 L575.3 250.1 L575.5 250.5 L575.8 250.7 L576.1 251.5 L576.4 250.2 L576.6 247.0 L576.9 250.4 L577.2 249.6 L577.5 252.1 L577.7 246.9 L578.0 251.0 L578.3 250.4 L578.6 251.2 L578.9 248.1 L579.1 250.2 L579.4 248.7 L579.7 248.1 L580.0 251.1 L580.2 249.8 L580.5 252.1 L580.8 249.4 L581.1 252.2 L581.4 251.7 L581.6 250.4 L581.9 251.3 L582.2 249.4 L582.5 249.7 L582.7 251.5 L583.0 252.9 L583.3 251.3 L583.6 249.9 L583.8 251.0 L584.1 254.1 L584.4 252.2 L584.7 251.4 L585.0 251.4 L585.2 252.4 L585.5 251.7 L585.8 251.0 L586.1 253.9 L586.3 250.9 L586.6 251.1 L586.9 250.5 L587.2 251.7 L587.5 249.7 L587.7 252.1 L588.0 249.8 L588.3 252.2 L588.6 250.1 L588.8 250.3 L589.1 247.7 L589.4 251.8 L589.7 251.4 L589.9 250.6 L590.2 251.5 L590.5 252.3 L590.8 252.0 L591.1 253.1 L591.3 251.8 L591.6 249.3 L591.9 252.1 L592.2 251.7 L592.4 251.5 L592.7 251.6 L593.0 251.6 L593.3 252.8 L593.6 252.3 L593.8 252.8 L594.1 251.9 L594.4 253.5 L594.7 252.0 L594.9 250.4 L595.2 252.1 L595.5 248.8 L595.8 253.3 L596.0 253.2 L596.3 252.4 L596.6 252.5 L596.9 253.1 L597.2 251.0 L597.4 252.8 L597.7 253.3 L598.0 252.7 L598.3 252.4 L598.5 253.3 L598.8 252.3 L599.1 253.2 L599.4 253.5 L599.6 254.0 L599.9 252.7 L600.2 252.8 L600.5 253.5 L600.8 251.1 L601.0 253.1 L601.3 252.7 L601.6 252.5 L601.9 251.8 L602.1 252.7 L602.4 253.2 L602.7 252.9 L603.0 250.5 L603.3 252.9 L603.5 254.2 L603.8 252.6 L604.1 252.0 L604.4 254.4 L604.6 252.2 L604.9 254.2 L605.2 253.3 L605.5 251.3 L605.7 252.5 L606.0 252.5 L606.3 252.5 L606.6 252.5 L606.9 255.8 L607.1 253.1 L607.4 254.2 L607.7 251.0 L608.0 252.7 L608.2 253.5 L608.5 252.7 L608.8 252.4 L609.1 253.2 L609.4 251.8 L609.6 253.9 L609.9 252.4 L610.2 253.4 L610.5 253.7 L610.7 251.8 L611.0 252.3 L611.3 253.2 L611.6 253.1 L611.8 252.0 L612.1 253.8 L612.4 252.6 L612.7 252.8 L613.0 252.2 L613.2 254.0 L613.5 255.1 L613.8 252.6 L614.1 254.2 L614.3 253.9 L614.6 253.6 L614.9 252.9 L615.2 253.8 L615.5 252.2 L615.7 252.4 L616.0 250.8 L616.3 253.5 L616.6 254.2 L616.8 251.0 L617.1 252.8 L617.4 252.1 L617.7 253.4 L617.9 251.5 L618.2 254.7 L618.5 252.3 L618.8 254.4 L619.1 251.6 L619.3 253.4 L619.6 254.6 L619.9 254.3 L620.2 251.8 L620.4 251.7 L620.7 248.6 L621.0 253.4 L621.3 251.4 L621.5 254.9 L621.8 253.8 L622.1 254.5 L622.4 252.5 L622.7 252.8 L622.9 253.0 L623.2 251.6 L623.5 251.6 L623.8 253.2 L624.0 252.6 L624.3 253.0 L624.6 251.8 L624.9 253.7 L625.2 254.5 L625.4 253.5 L625.7 252.6 L626.0 252.0 L626.3 253.9 L626.5 253.4 L626.8 252.1 L627.1 251.1 L627.4 255.0 L627.6 250.6 L627.9 252.7 L628.2 252.4 L628.5 250.7 L628.8 254.2 L629.0 253.1 L629.3 253.5 L629.6 253.0 L629.9 253.1 L630.1 253.7 L630.4 251.8 L630.7 252.5 L631.0 253.8 L631.3 254.4 L631.5 253.6 L631.8 253.8 L632.1 252.3 L632.4 252.6 L632.6 253.5 L632.9 253.4 L633.2 250.5 L633.5 253.3 L633.7 251.6 L634.0 251.7 L634.3 250.9 L634.6 253.3 L634.9 252.5 L635.1 253.6 L635.4 254.0 L635.7 252.7 L636.0 253.8 L636.2 253.3 L636.5 252.8 L636.8 252.6 L637.1 254.6 L637.4 252.9 L637.6 251.6 L637.9 255.3 L638.2 252.8 L638.5 254.2 L638.7 253.7 L639.0 253.1 L639.3 255.3 L639.6 252.5 L639.8 253.8 L640.1 251.8 L640.4 252.0 L640.7 252.6 L641.0 254.4 L641.2 255.7 L641.5 254.3 L641.8 251.1 L642.1 254.7 L642.4 251.9 L642.6 252.6 L642.9 253.6 L643.2 250.9 L643.5 253.5 L643.8 253.4 L644.0 256.2 L644.3 252.1 L644.6 254.0 L644.9 254.8 L645.2 254.4 L645.4 252.0 L645.7 255.2 L646.0 257.3 L646.3 252.9 L646.6 253.0 L646.8 255.2 L647.1 254.0 L647.4 252.7 L647.7 254.3 L648.0 252.9 L648.2 252.7 L648.5 250.0 L648.8 254.2 L649.1 253.0 L649.4 252.8 L649.6 253.4 L649.9 254.7 L650.2 253.8 L650.5 254.9 L650.8 253.8 L651.0 255.1 L651.3 255.7 L651.6 251.3 L651.9 250.5 L652.2 249.6 L652.4 253.4 L652.7 255.8 L653.0 254.8 L653.3 252.3 L653.5 253.0 L653.8 253.4 L654.1 254.1 L654.4 254.2 L654.7 254.0 L654.9 252.3 L655.2 254.1 L655.5 253.5 L655.8 254.4 L656.1 249.7 L656.3 253.2 L656.6 254.0 L656.9 254.8 L657.2 254.8 L657.5 255.6 L657.7 255.4 L658.0 256.8 L658.3 254.4 L658.6 254.8 L658.9 253.7 L659.1 253.8 L659.4 254.5 L659.7 255.0 L660.0 254.5 L660.3 254.6 L660.5 255.8 L660.8 253.0 L661.1 250.8 L661.4 255.6 L661.7 253.7 L661.9 255.8 L662.2 253.6 L662.5 255.8 L662.8 253.0 L663.1 253.9 L663.3 253.6 L663.6 255.7 L663.9 254.6 L664.2 252.6 L664.5 256.2 L664.7 252.9 L665.0 254.7 L665.3 255.5 L665.6 253.9 L665.9 252.4 L666.1 253.1 L666.4 252.8 L666.7 257.2 L667.0 255.7 L667.2 255.9 L667.5 252.8 L667.7 254.0 L668.0 253.2" fill="none" stroke="#0000ff" stroke-width="2.0" stroke-linejoin="round"/>
<path d="M54.4 273.4 L54.7 268.4 L54.9 272.8 L55.2 268.4 L55.5 269.7 L55.8 269.2 L56.0 269.1 L56.3 268.2 L56.6 268.4 L56.9 267.6 L57.1 266.3 L57.4 268.2 L57.7 267.9 L58.0 268.4 L58.2 266.2 L58.5 265.4 L58.8 265.0 L59.0 263.7 L59.3 263.9 L59.6 263.8 L59.9 260.9 L60.1 264.3 L60.4 265.8 L60.7 264.3 L61.0 262.7 L61.2 262.9 L61.5 264.0 L61.8 264.1 L62.1 262.1 L62.3 262.5 L62.6 263.3 L62.8 262.1 L63.1 256.2 L63.3 254.3 L63.6 252.2 L63.8 248.6 L64.0 247.4 L64.2 245.0 L64.5 243.3 L64.7 240.6 L64.9 243.2 L65.2 247.1 L65.4 249.9 L65.7 258.2 L65.9 266.8 L66.2 265.2 L66.4 268.3 L66.7 270.2 L67.0 268.7 L67.2 271.7 L67.5 273.9 L67.8 274.7 L68.0 275.9 L68.3 276.8 L68.6 277.4 L68.8 274.9 L69.1 277.1 L69.4 274.5 L69.7 276.1 L69.9 274.9 L70.2 278.2 L70.5 278.7 L70.8 275.3 L71.0 279.6 L71.3 277.3 L71.6 278.4 L71.8 278.6 L72.1 277.5 L72.4 279.3 L72.7 279.5 L72.9 278.2 L73.2 280.4 L73.5 279.4 L73.8 281.6 L74.0 280.3 L74.3 280.6 L74.6 280.7 L74.9 282.6 L75.2 278.7 L75.4 281.8 L75.7 279.0 L76.0 277.4 L76.3 281.3 L76.5 279.9 L76.8 281.0 L77.0 284.5 L77.3 281.1 L77.6 280.3 L77.8 278.8 L78.1 280.5 L78.4 279.0 L78.6 281.4 L78.9 281.1 L79.1 282.7 L79.4 281.9 L79.7 284.1 L79.9 283.7 L80.2 282.3 L80.4 283.1 L80.7 285.8 L80.9 284.7 L81.2 280.8 L81.5 284.2 L81.7 285.2 L82.0 286.2 L82.2 285.3 L82.5 282.3 L82.7 286.6 L83.0 286.7 L83.3 286.5 L83.5 285.7 L83.8 286.2 L84.1 286.1 L84.4 287.5 L84.6 286.1 L84.9 287.5 L85.2 288.0 L85.5 290.0 L85.7 286.6 L86.0 289.0 L86.3 287.0 L86.5 288.3 L86.8 287.2 L87.1 286.3 L87.4 288.5 L87.6 288.8 L87.9 288.5 L88.2 289.2 L88.4 287.2 L88.7 288.6 L89.0 289.5 L89.3 292.0 L89.5 289.0 L89.8 290.0 L90.1 289.0 L90.3 290.5 L90.6 290.8 L90.9 292.5 L91.2 291.3 L91.4 290.4 L91.7 291.5 L92.0 292.8 L92.3 294.5 L92.5 294.5 L92.8 290.0 L93.1 294.1 L93.3 293.5 L93.6 293.9 L93.9 293.5 L94.1 293.0 L94.4 291.3 L94.7 293.2 L94.9 290.6 L95.2 291.7 L95.5 291.4 L95.7 291.7 L96.0 290.2 L96.2 290.0 L96.5 289.0 L96.7 288.5 L97.0 287.0 L97.2 286.3 L97.5 285.3 L97.7 284.0 L98.0 287.1 L98.2 288.2 L98.5 289.6 L98.8 291.4 L99.1 292.2 L99.3 294.9 L99.6 296.7 L99.8 296.4 L100.1 297.9 L100.4 298.0 L100.6 298.6 L100.9 297.2 L101.2 297.7 L101.5 299.0 L101.7 300.4 L102.0 300.2 L102.3 301.5 L102.5 300.5 L102.8 299.4 L103.1 300.0 L103.4 298.2 L103.6 299.4 L103.9 299.5 L104.2 301.0 L104.4 301.6 L104.7 300.5 L105.0 302.4 L105.3 299.8 L105.5 301.4 L105.8 302.0 L106.1 302.3 L106.3 301.1 L106.6 304.1 L106.9 303.4 L107.2 302.1 L107.4 301.8 L107.7 302.1 L108.0 302.7 L108.3 302.6 L108.5 305.1 L108.8 303.7 L109.1 304.4 L109.4 304.3 L109.6 303.1 L109.9 303.7 L110.2 301.8 L110.4 302.9 L110.7 302.0 L111.0 298.7 L111.2 298.4 L111.5 296.5 L111.7 295.6 L112.0 294.7 L112.2 295.6 L112.5 295.9 L112.8 298.0 L113.0 299.1 L113.2 300.3 L113.5 301.0 L113.8 304.6 L114.0 303.9 L114.3 306.0 L114.5 301.7 L114.8 304.4 L115.1 305.1 L115.4 304.3 L115.6 305.9 L115.9 305.5 L116.2 304.6 L116.4 305.5 L116.7 307.8 L117.0 305.5 L117.2 305.7 L117.5 305.0 L117.8 305.7 L118.1 304.3 L118.3 305.6 L118.6 308.5 L118.9 307.1 L119.1 306.8 L119.4 307.3 L119.7 308.3 L120.0 307.0 L120.2 308.7 L120.5 307.7 L120.8 306.9 L121.0 308.6 L121.3 304.4 L121.6 306.4 L121.9 307.4 L122.1 306.2 L122.4 307.1 L122.7 306.7 L122.9 306.8 L123.2 310.2 L123.5 308.4 L123.8 307.7 L124.0 309.3 L124.3 307.8 L124.6 309.0 L124.8 308.6 L125.1 310.0 L125.4 306.9 L125.6 309.3 L125.9 308.7 L126.2 306.3 L126.5 309.9 L126.7 308.0 L127.0 310.7 L127.3 309.5 L127.5 309.7 L127.8 310.3 L128.1 309.8 L128.4 306.9 L128.7 306.1 L128.9 308.1 L129.2 309.0 L129.5 308.7 L129.8 309.3 L130.0 307.8 L130.3 310.5 L130.6 311.0 L130.8 308.3 L131.1 308.5 L131.4 308.8 L131.7 309.8 L131.9 310.4 L132.2 307.1 L132.5 307.7 L132.8 305.1 L133.0 307.1 L133.3 306.5 L133.6 308.6 L133.9 306.8 L134.1 309.5 L134.4 308.7 L134.7 306.6 L135.0 303.1 L135.2 306.7 L135.5 306.0 L135.8 306.2 L136.0 305.4 L136.3 306.8 L136.6 307.1 L136.8 305.9 L137.1 310.3 L137.4 306.5 L137.7 306.6 L137.9 305.1 L138.2 305.8 L138.5 305.6 L138.7 303.2 L139.0 305.8 L139.3 303.4 L139.6 305.1 L139.8 303.5 L140.1 307.0 L140.4 303.8 L140.6 303.0 L140.9 301.6 L141.2 299.6 L141.5 296.8 L141.7 296.1 L142.0 295.9 L142.2 293.3 L142.5 293.4 L142.7 292.5 L142.9 290.9 L143.2 290.5 L143.4 290.1 L143.6 290.7 L143.9 291.7 L144.1 293.7 L144.3 295.0 L144.6 296.7 L144.8 297.1 L145.1 299.4 L145.3 300.0 L145.6 302.9 L145.8 305.0 L146.1 304.6 L146.4 301.5 L146.6 303.4 L146.9 300.3 L147.2 303.2 L147.5 303.8 L147.7 301.7 L148.0 303.0 L148.3 302.7 L148.6 303.5 L148.9 302.5 L149.1 302.5 L149.4 300.2 L149.7 300.9 L150.0 299.9 L150.2 302.3 L150.5 301.9 L150.8 303.4 L151.1 300.7 L151.3 301.2 L151.6 301.6 L151.9 300.9 L152.1 301.5 L152.4 300.2 L152.7 302.1 L152.9 300.2 L153.2 301.5 L153.5 300.1 L153.8 301.6 L154.0 298.4 L154.3 300.2 L154.6 299.1 L154.8 299.6 L155.1 300.4 L155.4 297.8 L155.6 299.2 L155.9 297.6 L156.2 298.8 L156.4 296.4 L156.7 298.3 L157.0 296.6 L157.3 296.6 L157.5 297.2 L157.8 297.8 L158.1 296.5 L158.4 296.4 L158.6 296.7 L158.9 296.2 L159.2 293.7 L159.5 295.7 L159.7 296.0 L160.0 296.8 L160.3 297.6 L160.6 296.0 L160.8 295.1 L161.1 291.2 L161.4 294.7 L161.7 295.2 L161.9 295.5 L162.2 293.1 L162.5 294.0 L162.8 294.2 L163.1 294.8 L163.3 292.7 L163.6 291.4 L163.9 290.8 L164.2 290.7 L164.4 289.9 L164.7 292.5 L165.0 290.8 L165.2 290.0 L165.5 290.0 L165.8 287.8 L166.1 288.3 L166.3 287.0 L166.6 287.0 L166.9 285.1 L167.2 285.2 L167.4 282.1 L167.7 282.7 L168.0 281.4 L168.3 279.3 L168.5 278.9 L168.8 277.5 L169.0 279.6 L169.3 280.0 L169.5 282.2 L169.8 282.8 L170.0 282.3 L170.3 284.6 L170.5 285.8 L170.8 285.6 L171.0 283.4 L171.3 284.4 L171.6 285.5 L171.9 285.4 L172.1 285.6 L172.4 285.1 L172.7 285.0 L173.0 280.3 L173.2 280.9 L173.5 282.8 L173.8 281.3 L174.1 281.8 L174.3 280.8 L174.6 281.9 L174.9 280.5 L175.2 279.6 L175.4 280.6 L175.7 279.5 L176.0 278.5 L176.2 280.0 L176.5 277.9 L176.8 277.4 L177.0 277.3 L177.3 276.0 L177.6 276.7 L177.8 279.0 L178.1 275.8 L178.4 276.5 L178.7 275.0 L178.9 276.8 L179.2 277.2 L179.5 276.3 L179.7 274.4 L180.0 274.8 L180.3 273.0 L180.6 272.1 L180.8 271.0 L181.1 270.0 L181.4 270.1 L181.7 269.3 L181.9 268.3 L182.2 266.1 L182.5 265.8 L182.8 268.1 L183.0 269.8 L183.3 272.3 L183.6 274.2 L183.9 276.8 L184.1 277.6 L184.4 278.0 L184.7 277.6 L184.9 280.6 L185.2 277.4 L185.5 278.8 L185.7 279.7 L186.0 277.0 L186.2 279.7 L186.5 275.6 L186.8 276.1 L187.0 277.3 L187.3 275.9 L187.6 276.1 L187.8 276.3 L188.1 275.1 L188.4 276.7 L188.7 276.2 L188.9 276.9 L189.2 277.1 L189.5 278.1 L189.8 278.9 L190.0 277.5 L190.3 279.6 L190.6 276.5 L190.9 278.8 L191.1 277.0 L191.4 279.3 L191.7 279.9 L192.0 282.0 L192.2 281.1 L192.5 282.7 L192.8 282.2 L193.1 281.0 L193.3 280.3 L193.6 281.9 L193.9 283.1 L194.2 283.1 L194.4 282.5 L194.7 284.7 L195.0 282.1 L195.3 282.9 L195.5 284.6 L195.8 287.0 L196.1 285.4 L196.4 284.3 L196.6 286.3 L196.9 286.7 L197.2 287.3 L197.5 286.3 L197.7 286.2 L198.0 287.5 L198.3 288.2 L198.6 289.7 L198.8 290.6 L199.1 286.0 L199.4 288.5 L199.7 289.4 L199.9 289.5 L200.2 290.6 L200.5 289.6 L200.7 288.3 L201.0 285.3 L201.2 285.8 L201.5 283.8 L201.7 282.2 L202.0 282.5 L202.2 281.4 L202.5 279.2 L202.7 279.9 L203.0 278.7 L203.3 279.9 L203.5 281.2 L203.8 282.4 L204.1 284.1 L204.4 287.8 L204.6 285.0 L204.9 288.9 L205.2 287.8 L205.5 291.8 L205.7 292.7 L206.0 295.3 L206.3 292.0 L206.5 292.5 L206.8 292.1 L207.1 288.2 L207.3 287.2 L207.6 286.9 L207.8 286.5 L208.1 285.6 L208.4 283.6 L208.6 281.4 L208.9 279.2 L209.2 278.1 L209.4 277.8 L209.7 276.1 L210.0 278.7 L210.3 281.0 L210.5 283.5 L210.8 284.2 L211.1 288.3 L211.4 288.7 L211.6 291.7 L211.9 294.4 L212.2 298.3 L212.5 299.9 L212.7 296.6 L213.0 299.0 L213.3 300.1 L213.5 298.2 L213.8 301.1 L214.1 299.6 L214.3 303.2 L214.6 303.6 L214.9 303.2 L215.2 300.4 L215.4 305.6 L215.7 304.7 L216.0 305.1 L216.2 306.2 L216.5 304.4 L216.8 306.7 L217.1 307.4 L217.3 306.8 L217.6 306.7 L217.9 305.7 L218.2 305.6 L218.4 307.1 L218.7 307.0 L219.0 306.5 L219.2 308.0 L219.5 308.5 L219.8 304.8 L220.1 308.4 L220.3 308.9 L220.6 309.3 L220.9 307.9 L221.2 307.9 L221.4 308.0 L221.7 308.9 L222.0 309.8 L222.2 312.9 L222.5 309.6 L222.7 308.5 L223.0 309.8 L223.3 312.5 L223.5 309.2 L223.8 312.4 L224.1 310.9 L224.3 311.0 L224.6 310.3 L224.9 312.5 L225.2 310.7 L225.4 309.9 L225.7 306.2 L226.0 308.7 L226.3 309.7 L226.5 310.5 L226.8 305.2 L227.1 307.3 L227.3 307.9 L227.6 307.3 L227.9 306.1 L228.1 307.7 L228.4 308.4 L228.7 305.8 L228.9 307.5 L229.2 308.2 L229.5 308.1 L229.8 306.4 L230.0 309.2 L230.3 304.3 L230.6 305.6 L230.8 307.4 L231.1 305.0 L231.4 308.5 L231.7 307.6 L231.9 313.0 L232.2 311.1 L232.5 314.3 L232.8 315.2 L233.0 316.3 L233.3 317.3 L233.6 317.9 L233.9 314.4 L234.1 312.9 L234.4 315.8 L234.7 315.5 L235.0 315.3 L235.2 316.6 L235.5 311.7 L235.8 313.9 L236.1 312.7 L236.3 313.7 L236.6 309.5 L236.9 311.7 L237.2 310.5 L237.4 309.5 L237.7 309.4 L238.0 308.3 L238.3 310.2 L238.5 310.9 L238.8 312.0 L239.0 312.6 L239.3 311.6 L239.6 312.0 L239.8 315.6 L240.1 316.9 L240.4 316.3 L240.6 315.6 L240.9 317.0 L241.1 320.9 L241.4 319.4 L241.7 317.1 L242.0 319.5 L242.2 321.2 L242.5 320.1 L242.8 320.0 L243.1 319.5 L243.3 321.1 L243.6 322.5 L243.9 321.4 L244.2 322.7 L244.4 322.1 L244.7 320.2 L245.0 322.5 L245.3 322.4 L245.5 323.5 L245.8 322.9 L246.0 321.9 L246.3 322.7 L246.5 322.5 L246.8 323.1 L247.0 322.8 L247.3 323.1 L247.6 321.3 L247.9 323.5 L248.1 324.6 L248.4 322.0 L248.7 325.3 L248.9 324.1 L249.2 323.8 L249.5 322.3 L249.8 325.5 L250.1 320.3 L250.3 324.2 L250.6 325.5 L250.9 324.1 L251.1 324.3 L251.4 322.6 L251.7 325.6 L252.0 326.4 L252.2 326.4 L252.5 326.5 L252.8 322.5 L253.1 326.5 L253.3 325.8 L253.6 325.5 L253.9 327.0 L254.2 324.8 L254.5 325.9 L254.7 328.8 L255.0 325.8 L255.3 326.9 L255.6 328.0 L255.8 326.5 L256.1 328.9 L256.4 329.4 L256.7 326.5 L256.9 328.4 L257.2 326.0 L257.5 325.7 L257.8 326.8 L258.0 326.6 L258.3 325.5 L258.6 325.2 L258.9 324.2 L259.1 324.6 L259.4 324.2 L259.7 325.9 L260.0 326.5 L260.2 326.8 L260.5 325.3 L260.8 327.3 L261.0 328.2 L261.3 326.5 L261.5 327.9 L261.8 329.9 L262.1 328.1 L262.3 330.5 L262.6 331.4 L262.9 330.9 L263.2 330.5 L263.4 330.0 L263.7 328.9 L264.0 329.4 L264.2 329.0 L264.5 331.6 L264.8 329.2 L265.1 328.7 L265.4 328.2 L265.6 328.1 L265.9 327.7 L266.2 328.3 L266.4 327.4 L266.7 328.1 L267.0 326.3 L267.3 327.1 L267.6 327.4 L267.8 326.8 L268.1 326.1 L268.4 325.9 L268.6 325.5 L268.9 325.2 L269.2 324.5 L269.5 326.1 L269.8 326.0 L270.0 326.5 L270.3 328.4 L270.6 326.2 L270.8 329.8 L271.1 329.8 L271.4 330.6 L271.7 329.3 L271.9 327.7 L272.2 326.4 L272.5 329.4 L272.7 324.9 L273.0 326.3 L273.3 327.9 L273.5 325.5 L273.8 325.1 L274.1 324.9 L274.3 324.1 L274.6 323.3 L274.9 324.3 L275.1 325.8 L275.4 326.5 L275.6 326.4 L275.9 326.0 L276.1 329.4 L276.4 329.8 L276.7 330.4 L276.9 332.8 L277.2 330.7 L277.4 334.8 L277.7 334.5 L278.0 334.9 L278.3 334.4 L278.5 334.9 L278.8 333.6 L279.1 333.2 L279.4 334.5 L279.6 333.7 L279.9 332.1 L280.2 334.7 L280.5 334.4 L280.8 334.6 L281.0 333.0 L281.3 333.2 L281.6 332.3 L281.9 331.5 L282.1 332.5 L282.4 332.5 L282.7 331.5 L283.0 334.0 L283.2 330.2 L283.5 331.0 L283.8 331.0 L284.1 333.2 L284.3 331.8 L284.6 331.9 L284.9 331.5 L285.2 331.8 L285.4 331.4 L285.7 334.0 L286.0 333.8 L286.2 334.4 L286.5 332.8 L286.8 336.3 L287.0 330.6 L287.3 331.9 L287.6 331.2 L287.9 336.5 L288.1 335.4 L288.4 333.7 L288.7 335.6 L288.9 336.9 L289.2 334.4 L289.5 334.7 L289.7 333.9 L290.0 336.1 L290.3 337.0 L290.6 337.0 L290.8 337.3 L291.1 338.1 L291.4 336.5 L291.7 337.2 L291.9 335.0 L292.2 335.0 L292.5 335.9 L292.8 334.5 L293.0 335.8 L293.3 336.4 L293.6 332.9 L293.9 333.8 L294.1 333.6 L294.4 335.6 L294.7 330.5 L295.0 333.9 L295.2 333.3 L295.5 333.5 L295.8 333.0 L296.1 332.8 L296.3 332.4 L296.6 333.1 L296.9 332.5 L297.2 333.0 L297.4 333.2 L297.7 333.8 L298.0 334.3 L298.3 335.7 L298.5 334.4 L298.8 334.7 L299.1 335.9 L299.4 336.1 L299.6 338.7 L299.9 335.9 L300.2 333.8 L300.4 336.4 L300.7 336.5 L301.0 336.0 L301.2 336.8 L301.5 335.6 L301.7 334.3 L302.0 333.6 L302.3 333.7 L302.5 333.8 L302.8 333.9 L303.1 333.4 L303.4 333.5 L303.6 333.6 L303.9 333.3 L304.2 334.0 L304.5 331.7 L304.7 334.8 L305.0 335.5 L305.3 336.8 L305.6 336.4 L305.8 334.2 L306.1 333.4 L306.4 337.3 L306.7 333.9 L306.9 336.5 L307.2 333.3 L307.5 335.9 L307.8 333.4 L308.0 336.6 L308.3 336.4 L308.6 335.7 L308.9 335.6 L309.1 337.5 L309.4 336.9 L309.7 336.2 L310.0 336.5 L310.2 335.3 L310.5 337.3 L310.8 337.5 L311.0 335.3 L311.3 336.2 L311.6 337.1 L311.8 335.3 L312.1 338.0 L312.4 337.4 L312.7 335.5 L312.9 336.7 L313.2 337.4 L313.5 330.9 L313.7 336.2 L314.0 335.3 L314.3 335.2 L314.5 336.1 L314.8 334.8 L315.1 333.8 L315.4 333.7 L315.6 335.1 L315.9 335.8 L316.2 335.2 L316.4 335.3 L316.7 335.6 L317.0 337.1 L317.2 333.2 L317.5 336.8 L317.8 336.0 L318.0 337.7 L318.3 336.0 L318.6 336.4 L318.9 336.9 L319.1 336.0 L319.4 338.2 L319.7 335.2 L319.9 339.1 L320.2 337.3 L320.5 336.6 L320.7 338.4 L321.0 336.5 L321.3 336.4 L321.5 339.4 L321.8 338.2 L322.1 338.4 L322.3 341.8 L322.6 338.2 L322.9 339.0 L323.2 339.4 L323.4 340.7 L323.7 338.6 L324.0 336.9 L324.2 340.4 L324.5 336.6 L324.8 339.0 L325.1 337.4 L325.3 337.5 L325.6 341.5 L325.9 339.7 L326.1 341.1 L326.4 339.3 L326.7 340.2 L327.0 339.2 L327.2 339.2 L327.5 339.7 L327.8 340.0 L328.1 341.5 L328.3 339.7 L328.6 340.4 L328.9 339.7 L329.1 340.2 L329.4 338.7 L329.7 341.3 L330.0 339.7 L330.2 340.3 L330.5 340.1 L330.8 341.6 L331.0 343.8 L331.3 341.1 L331.6 341.5 L331.8 342.0 L332.1 342.7 L332.3 342.7 L332.6 343.8 L332.9 344.4 L333.1 343.6 L333.4 341.8 L333.7 345.0 L333.9 345.5 L334.2 342.8 L334.5 342.8 L334.8 341.0 L335.0 344.0 L335.3 342.1 L335.6 345.1 L335.9 337.8 L336.1 343.3 L336.4 343.9 L336.7 342.8 L337.0 342.4 L337.2 343.5 L337.5 342.6 L337.8 342.8 L338.1 343.2 L338.4 342.6 L338.6 343.0 L338.9 344.0 L339.2 342.8 L339.4 343.4 L339.7 342.4 L340.0 344.2 L340.3 342.0 L340.5 344.6 L340.8 341.1 L341.1 343.0 L341.4 342.4 L341.6 345.3 L341.9 342.3 L342.2 343.3 L342.4 344.2 L342.7 346.4 L343.0 345.1 L343.3 345.9 L343.5 343.9 L343.8 344.1 L344.1 348.2 L344.4 347.8 L344.6 344.7 L344.9 345.7 L345.2 344.0 L345.5 346.1 L345.7 344.2 L346.0 344.1 L346.3 342.4 L346.6 343.8 L346.8 344.3 L347.1 343.5 L347.4 342.6 L347.7 344.7 L347.9 343.2 L348.2 343.1 L348.5 342.2 L348.8 341.3 L349.0 341.7 L349.3 344.5 L349.6 339.2 L349.9 342.3 L350.1 344.1 L350.4 340.8 L350.7 343.7 L351.0 342.8 L351.2 342.1 L351.5 344.5 L351.8 343.6 L352.0 340.6 L352.3 344.8 L352.6 344.8 L352.8 341.9 L353.1 344.2 L353.4 343.2 L353.7 346.1 L353.9 343.6 L354.2 345.2 L354.5 348.1 L354.7 346.1 L355.0 345.1 L355.3 344.8 L355.5 345.0 L355.8 346.8 L356.1 346.3 L356.4 346.1 L356.6 350.3 L356.9 345.5 L357.2 345.9 L357.5 346.0 L357.7 346.6 L358.0 346.8 L358.3 346.2 L358.6 347.3 L358.8 347.1 L359.1 346.2 L359.4 344.0 L359.7 347.4 L359.9 345.6 L360.2 345.9 L360.5 346.4 L360.8 345.3 L361.0 345.8 L361.3 346.7 L361.6 346.3 L361.9 347.0 L362.1 345.8 L362.4 346.4 L362.7 345.6 L363.0 346.4 L363.2 347.0 L363.5 346.5 L363.8 345.3 L364.1 346.6 L364.3 347.0 L364.6 348.0 L364.9 346.8 L365.2 346.4 L365.4 345.7 L365.7 349.0 L366.0 345.9 L366.3 345.8 L366.5 346.8 L366.8 345.1 L367.1 348.1 L367.4 347.2 L367.7 347.4 L367.9 345.9 L368.2 344.8 L368.5 347.7 L368.8 346.1 L369.0 349.4 L369.3 347.8 L369.6 344.6 L369.9 346.7 L370.1 346.2 L370.4 347.7 L370.7 346.4 L370.9 346.9 L371.2 346.0 L371.5 348.9 L371.8 347.8 L372.1 345.6 L372.3 344.1 L372.6 345.1 L372.9 347.8 L373.1 346.3 L373.4 345.7 L373.7 345.0 L374.0 347.1 L374.2 346.2 L374.5 345.7 L374.8 345.3 L375.1 345.6 L375.3 345.4 L375.6 346.3 L375.9 347.0 L376.2 343.4 L376.4 343.8 L376.7 345.1 L377.0 345.1 L377.3 343.2 L377.5 344.0 L377.8 344.1 L378.1 340.7 L378.3 343.7 L378.6 343.9 L378.9 344.8 L379.1 344.5 L379.4 344.1 L379.7 343.7 L380.0 342.4 L380.2 340.3 L380.5 343.6 L380.8 342.8 L381.0 343.4 L381.3 342.7 L381.6 342.3 L381.8 342.5 L382.1 340.3 L382.4 341.6 L382.7 341.0 L382.9 342.3 L383.2 340.5 L383.5 338.2 L383.8 340.4 L384.0 341.2 L384.3 341.3 L384.6 340.1 L384.8 340.3 L385.1 340.2 L385.4 340.6 L385.7 339.3 L385.9 339.5 L386.2 338.9 L386.5 338.1 L386.8 339.1 L387.1 339.2 L387.3 337.8 L387.6 339.0 L387.9 338.1 L388.1 338.4 L388.4 338.1 L388.7 337.2 L389.0 338.0 L389.2 337.0 L389.5 338.3 L389.8 338.7 L390.0 340.6 L390.3 339.6 L390.6 337.4 L390.9 338.8 L391.1 340.9 L391.4 339.7 L391.7 341.6 L391.9 339.1 L392.2 341.4 L392.5 338.9 L392.7 340.1 L393.0 342.0 L393.3 339.8 L393.6 341.9 L393.8 341.7 L394.1 342.2 L394.4 341.3 L394.6 341.8 L394.9 340.8 L395.2 340.9 L395.4 343.4 L395.7 344.5 L396.0 343.7 L396.2 345.2 L396.5 338.0 L396.8 343.8 L397.0 343.2 L397.3 344.3 L397.6 345.0 L397.9 345.9 L398.1 344.8 L398.4 347.0 L398.7 344.7 L398.9 347.7 L399.2 346.7 L399.5 345.2 L399.8 345.2 L400.0 345.2 L400.3 346.0 L400.6 347.2 L400.8 348.5 L401.1 348.0 L401.4 345.8 L401.7 344.8 L401.9 346.9 L402.2 348.2 L402.5 347.0 L402.8 346.5 L403.1 350.0 L403.3 345.5 L403.6 347.6 L403.9 349.3 L404.1 346.9 L404.4 346.6 L404.7 349.2 L405.0 345.2 L405.2 345.6 L405.5 346.2 L405.8 347.9 L406.1 348.3 L406.4 344.7 L406.6 349.8 L406.9 347.4 L407.2 347.6 L407.4 347.3 L407.7 348.9 L408.0 347.7 L408.3 347.3 L408.6 349.6 L408.8 349.3 L409.1 349.1 L409.4 346.8 L409.6 347.1 L409.9 348.1 L410.2 348.2 L410.5 348.1 L410.8 346.3 L411.0 349.4 L411.3 347.8 L411.6 349.2 L411.9 348.6 L412.1 348.6 L412.4 348.9 L412.7 350.1 L412.9 349.7 L413.2 348.7 L413.5 350.0 L413.8 349.8 L414.1 350.2 L414.3 349.6 L414.6 351.1 L414.9 350.5 L415.2 349.0 L415.4 348.9 L415.7 348.9 L416.0 350.9 L416.2 349.9 L416.5 350.3 L416.8 352.2 L417.1 349.9 L417.3 353.1 L417.6 350.7 L417.9 352.9 L418.2 351.4 L418.4 352.1 L418.7 350.5 L419.0 349.5 L419.2 351.3 L419.5 352.2 L419.8 349.1 L420.1 352.0 L420.3 351.0 L420.6 351.4 L420.9 351.2 L421.1 346.9 L421.4 351.8 L421.7 352.7 L422.0 350.9 L422.2 351.8 L422.5 348.5 L422.8 351.3 L423.1 350.4 L423.3 350.6 L423.6 350.2 L423.9 350.9 L424.1 352.0 L424.4 351.0 L424.7 351.5 L425.0 350.1 L425.2 351.6 L425.5 348.2 L425.8 349.3 L426.1 352.4 L426.3 348.9 L426.6 351.4 L426.9 351.0 L427.2 349.8 L427.5 350.9 L427.7 349.2 L428.0 349.8 L428.3 348.8 L428.6 351.1 L428.9 351.9 L429.1 348.5 L429.4 351.9 L429.7 350.6 L430.0 351.1 L430.2 349.8 L430.5 350.5 L430.8 350.3 L431.1 351.0 L431.4 352.2 L431.6 350.2 L431.9 350.6 L432.2 351.2 L432.5 351.7 L432.8 350.7 L433.0 352.6 L433.3 350.2 L433.6 350.8 L433.9 351.1 L434.2 350.1 L434.4 350.5 L434.7 351.6 L435.0 350.8 L435.3 350.2 L435.6 351.5 L435.8 351.5 L436.1 351.4 L436.4 351.5 L436.7 350.4 L436.9 350.6 L437.2 351.1 L437.5 350.9 L437.8 348.9 L438.0 350.7 L438.3 351.1 L438.6 351.3 L438.9 350.4 L439.2 350.8 L439.4 348.8 L439.7 347.0 L440.0 348.1 L440.3 350.5 L440.5 349.6 L440.8 352.5 L441.1 349.5 L441.4 351.4 L441.6 352.0 L441.9 350.4 L442.2 348.6 L442.5 352.2 L442.8 350.3 L443.0 350.2 L443.3 352.5 L443.6 351.1 L443.9 351.5 L444.1 353.6 L444.4 350.5 L444.7 349.6 L445.0 351.5 L445.3 350.6 L445.5 351.4 L445.8 351.1 L446.1 349.8 L446.4 350.7 L446.6 350.3 L446.9 350.4 L447.2 350.6 L447.5 351.0 L447.7 350.8 L448.0 349.3 L448.3 351.3 L448.6 349.1 L448.9 352.9 L449.1 349.8 L449.4 350.5 L449.7 352.0 L450.0 350.4 L450.2 349.2 L450.5 349.1 L450.8 350.9 L451.1 351.0 L451.3 351.4 L451.6 350.8 L451.9 350.0 L452.2 351.1 L452.5 352.1 L452.7 349.7 L453.0 353.2 L453.3 350.2 L453.6 351.9 L453.8 352.6 L454.1 351.6 L454.4 351.0 L454.7 353.8 L454.9 352.1 L455.2 348.0 L455.5 348.3 L455.8 350.3 L456.1 350.0 L456.3 350.8 L456.6 350.9 L456.9 351.2 L457.2 350.1 L457.4 351.9 L457.7 348.5 L458.0 349.7 L458.3 346.7 L458.6 348.4 L458.8 350.2 L459.1 351.3 L459.4 349.6 L459.7 352.1 L459.9 351.6 L460.2 350.3 L460.5 349.0 L460.8 349.6 L461.0 349.2 L461.3 352.1 L461.6 351.6 L461.9 349.5 L462.2 352.9 L462.4 350.6 L462.7 348.5 L463.0 352.0 L463.3 352.3 L463.5 350.9 L463.8 350.0 L464.1 352.2 L464.4 348.4 L464.7 348.0 L464.9 351.5 L465.2 351.3 L465.5 350.5 L465.8 349.9 L466.0 351.8 L466.3 348.7 L466.6 351.4 L466.9 351.3 L467.1 351.6 L467.4 350.7 L467.7 351.3 L468.0 351.9 L468.3 350.0 L468.5 351.2 L468.8 351.5 L469.1 349.8 L469.4 350.1 L469.6 353.9 L469.9 352.3 L470.2 348.7 L470.5 353.3 L470.8 351.6 L471.0 352.7 L471.3 352.4 L471.6 348.7 L471.9 350.9 L472.1 349.8 L472.4 353.0 L472.7 350.6 L473.0 348.1 L473.2 351.6 L473.5 350.6 L473.8 351.3 L474.1 350.1 L474.4 352.1 L474.6 351.8 L474.9 351.7 L475.2 350.1 L475.5 349.4 L475.7 349.8 L476.0 351.7 L476.3 349.2 L476.6 351.8 L476.8 353.0 L477.1 350.4 L477.4 350.9 L477.7 352.1 L478.0 352.0 L478.2 350.4 L478.5 350.8 L478.8 351.1 L479.1 350.7 L479.3 351.5 L479.6 351.3 L479.9 352.3 L480.2 349.1 L480.5 353.3 L480.7 351.7 L481.0 350.7 L481.3 351.2 L481.6 351.8 L481.8 351.1 L482.1 350.5 L482.4 351.0 L482.7 350.0 L482.9 346.9 L483.2 349.7 L483.5 346.6 L483.8 350.8 L484.1 348.8 L484.3 348.9 L484.6 352.1 L484.9 352.8 L485.2 349.9 L485.4 349.8 L485.7 349.6 L486.0 350.2 L486.3 351.9 L486.6 348.9 L486.8 351.0 L487.1 350.4 L487.4 347.9 L487.7 349.9 L487.9 351.1 L488.2 349.8 L488.5 351.0 L488.8 348.3 L489.0 350.8 L489.3 351.1 L489.6 348.6 L489.9 351.1 L490.2 349.0 L490.4 351.2 L490.7 350.2 L491.0 350.9 L491.3 350.6 L491.5 348.9 L491.8 351.8 L492.1 351.4 L492.4 349.0 L492.7 350.7 L492.9 348.4 L493.2 349.3 L493.5 348.9 L493.8 351.4 L494.0 349.6 L494.3 350.9 L494.6 349.3 L494.9 350.4 L495.1 347.1 L495.4 350.9 L495.7 348.4 L496.0 348.9 L496.3 352.3 L496.5 348.9 L496.8 350.1 L497.1 348.6 L497.4 349.5 L497.6 349.8 L497.9 346.8 L498.2 348.8 L498.5 347.1 L498.7 350.3 L499.0 349.7 L499.3 348.3 L499.6 349.7 L499.8 348.7 L500.1 348.4 L500.4 349.2 L500.7 351.5 L500.9 348.1 L501.2 350.1 L501.5 347.2 L501.8 347.4 L502.0 348.0 L502.3 348.7 L502.6 348.3 L502.9 349.1 L503.1 347.7 L503.4 347.6 L503.7 349.7 L504.0 348.6 L504.2 347.7 L504.5 348.5 L504.8 350.4 L505.1 347.8 L505.3 346.8 L505.6 349.4 L505.9 350.4 L506.2 349.6 L506.4 346.9 L506.7 346.0 L507.0 349.5 L507.3 347.9 L507.5 348.6 L507.8 347.8 L508.1 349.7 L508.4 346.5 L508.6 347.6 L508.9 348.0 L509.2 346.5 L509.5 347.9 L509.7 347.6 L510.0 342.7 L510.3 346.4 L510.6 346.4 L510.9 346.1 L511.1 348.1 L511.4 349.0 L511.7 350.4 L512.0 346.3 L512.2 347.6 L512.5 348.8 L512.8 344.3 L513.1 347.9 L513.3 346.7 L513.6 346.0 L513.9 350.5 L514.2 347.6 L514.5 345.4 L514.7 347.1 L515.0 349.9 L515.3 348.0 L515.6 348.2 L515.8 348.5 L516.1 348.5 L516.4 350.0 L516.7 346.7 L517.0 349.3 L517.2 348.0 L517.5 348.3 L517.8 348.1 L518.1 349.2 L518.3 347.5 L518.6 348.3 L518.9 349.5 L519.2 348.3 L519.4 348.5 L519.7 349.4 L520.0 349.2 L520.3 348.7 L520.6 346.7 L520.8 348.1 L521.1 350.0 L521.4 347.9 L521.7 347.4 L521.9 349.5 L522.2 347.7 L522.5 348.1 L522.8 351.2 L523.0 349.8 L523.3 348.5 L523.6 348.6 L523.9 348.6 L524.2 349.4 L524.4 348.5 L524.7 349.3 L525.0 350.5 L525.3 348.8 L525.5 348.6 L525.8 348.1 L526.1 348.2 L526.4 349.5 L526.7 347.9 L526.9 348.4 L527.2 349.4 L527.5 349.5 L527.8 348.6 L528.0 349.4 L528.3 347.7 L528.6 351.2 L528.9 351.6 L529.1 348.9 L529.4 349.6 L529.7 349.1 L530.0 349.8 L530.3 348.4 L530.5 347.4 L530.8 349.9 L531.1 347.9 L531.4 349.4 L531.6 348.1 L531.9 348.2 L532.2 350.1 L532.5 347.7 L532.8 348.9 L533.0 348.6 L533.3 349.3 L533.6 348.5 L533.9 347.2 L534.1 349.0 L534.4 346.7 L534.7 349.5 L535.0 348.5 L535.2 350.6 L535.5 347.5 L535.8 348.2 L536.1 349.6 L536.4 350.5 L536.6 349.9 L536.9 349.4 L537.2 347.9 L537.5 349.6 L537.7 349.2 L538.0 348.7 L538.3 350.4 L538.6 348.2 L538.9 349.2 L539.1 348.3 L539.4 348.3 L539.7 348.9 L540.0 347.6 L540.2 348.5 L540.5 349.1 L540.8 347.2 L541.1 348.2 L541.3 347.6 L541.6 348.6 L541.9 350.2 L542.2 348.5 L542.5 348.7 L542.7 349.0 L543.0 347.5 L543.3 346.1 L543.6 348.0 L543.9 347.8 L544.1 346.5 L544.4 347.6 L544.7 349.3 L545.0 349.4 L545.3 347.7 L545.5 348.0 L545.8 347.4 L546.1 347.8 L546.4 345.8 L546.7 347.8 L546.9 346.5 L547.2 347.6 L547.5 351.4 L547.8 346.9 L548.0 347.0 L548.3 347.4 L548.6 346.6 L548.9 347.2 L549.2 346.5 L549.4 346.1 L549.7 345.3 L550.0 345.4 L550.3 345.1 L550.6 345.8 L550.8 345.7 L551.1 345.5 L551.4 349.2 L551.7 345.4 L552.0 345.5 L552.2 346.1 L552.5 343.8 L552.8 346.2 L553.1 346.3 L553.3 347.0 L553.6 341.9 L553.9 344.9 L554.2 345.5 L554.4 344.7 L554.7 343.5 L555.0 345.9 L555.3 344.5 L555.5 345.1 L555.8 343.5 L556.1 345.5 L556.4 344.0 L556.6 343.5 L556.9 345.0 L557.2 345.2 L557.5 343.0 L557.8 344.9 L558.0 345.4 L558.3 343.9 L558.6 342.0 L558.9 346.0 L559.1 344.4 L559.4 342.1 L559.7 344.8 L560.0 342.8 L560.2 342.7 L560.5 343.1 L560.8 343.1 L561.1 342.9 L561.3 342.4 L561.6 342.4 L561.9 342.5 L562.2 342.8 L562.4 343.1 L562.7 344.0 L563.0 340.0 L563.3 344.5 L563.6 345.6 L563.8 345.2 L564.1 342.4 L564.4 344.2 L564.7 343.8 L565.0 344.8 L565.2 346.4 L565.5 345.3 L565.8 346.4 L566.1 345.5 L566.4 345.4 L566.6 345.2 L566.9 342.6 L567.2 346.7 L567.5 346.6 L567.7 346.7 L568.0 347.8 L568.3 346.1 L568.6 349.1 L568.9 346.0 L569.1 348.0 L569.4 346.7 L569.7 347.9 L570.0 349.6 L570.3 347.0 L570.5 346.4 L570.8 349.1 L571.1 349.4 L571.4 349.7 L571.7 350.4 L571.9 352.1 L572.2 350.4 L572.5 351.1 L572.8 350.9 L573.0 350.2 L573.3 349.0 L573.6 351.2 L573.9 350.1 L574.1 352.2 L574.4 349.9 L574.7 349.3 L575.0 351.8 L575.2 349.9 L575.5 347.3 L575.8 352.0 L576.1 349.3 L576.4 352.2 L576.6 349.9 L576.9 351.4 L577.2 351.2 L577.5 349.1 L577.7 351.0 L578.0 350.7 L578.3 349.1 L578.6 351.8 L578.8 352.9 L579.1 351.0 L579.4 351.2 L579.6 353.6 L579.9 353.9 L580.2 352.3 L580.5 349.9 L580.8 352.5 L581.0 351.0 L581.3 351.5 L581.6 352.2 L581.9 354.4 L582.1 350.5 L582.4 351.4 L582.7 352.5 L583.0 352.2 L583.2 353.1 L583.5 351.7 L583.8 351.1 L584.1 354.3 L584.3 352.6 L584.6 350.9 L584.9 351.9 L585.2 352.2 L585.4 350.8 L585.7 353.2 L586.0 352.6 L586.3 352.0 L586.5 351.8 L586.8 354.2 L587.1 352.4 L587.4 351.7 L587.6 350.4 L587.9 349.4 L588.2 353.3 L588.5 354.1 L588.7 351.4 L589.0 347.3 L589.3 352.7 L589.6 353.8 L589.9 353.6 L590.1 352.0 L590.4 352.8 L590.7 350.8 L591.0 351.5 L591.2 352.2 L591.5 352.3 L591.8 353.4 L592.1 354.1 L592.4 348.5 L592.6 356.2 L592.9 352.1 L593.2 352.5 L593.5 354.1 L593.7 350.5 L594.0 351.5 L594.3 352.2 L594.6 353.1 L594.8 354.2 L595.1 354.2 L595.4 352.2 L595.7 353.9 L596.0 352.7 L596.2 354.7 L596.5 354.6 L596.8 354.3 L597.1 352.2 L597.3 354.1 L597.6 351.9 L597.9 351.1 L598.2 351.6 L598.5 353.2 L598.7 352.6 L599.0 352.4 L599.3 353.7 L599.6 354.3 L599.8 353.6 L600.1 353.8 L600.4 354.3 L600.7 354.8 L600.9 354.6 L601.2 354.0 L601.5 355.7 L601.8 353.1 L602.1 354.5 L602.3 352.5 L602.6 353.5 L602.9 353.5 L603.2 353.9 L603.4 355.2 L603.7 353.6 L604.0 352.9 L604.3 351.9 L604.6 350.3 L604.8 356.0 L605.1 351.1 L605.4 355.7 L605.7 354.8 L605.9 353.5 L606.2 352.5 L606.5 353.8 L606.8 354.7 L607.0 353.8 L607.3 354.2 L607.6 354.7 L607.9 355.5 L608.2 352.5 L608.4 353.7 L608.7 354.7 L609.0 353.2 L609.3 353.0 L609.5 353.0 L609.8 353.8 L610.1 356.3 L610.4 354.0 L610.6 352.8 L610.9 354.1 L611.2 353.5 L611.5 353.1 L611.8 352.2 L612.0 353.0 L612.3 353.5 L612.6 354.3 L612.9 354.6 L613.1 355.6 L613.4 354.4 L613.7 353.0 L614.0 352.8 L614.3 355.0 L614.5 354.9 L614.8 353.7 L615.1 354.1 L615.4 353.7 L615.6 352.8 L615.9 353.9 L616.2 352.6 L616.5 352.4 L616.7 354.8 L617.0 354.8 L617.3 355.1 L617.6 355.3 L617.9 354.3 L618.1 354.8 L618.4 353.9 L618.7 354.0 L619.0 356.7 L619.2 355.6 L619.5 355.6 L619.8 354.4 L620.1 353.5 L620.4 354.4 L620.6 354.7 L620.9 352.9 L621.2 353.9 L621.5 355.0 L621.7 356.0 L622.0 352.6 L622.3 354.0 L622.6 353.1 L622.8 356.6 L623.1 354.6 L623.4 355.3 L623.7 351.6 L624.0 353.1 L624.2 356.8 L624.5 355.2 L624.8 355.8 L625.1 353.7 L625.3 354.5 L625.6 352.7 L625.9 356.3 L626.2 353.8 L626.5 353.3 L626.7 353.1 L627.0 355.4 L627.3 354.5 L627.6 352.7 L627.8 356.2 L628.1 355.9 L628.4 357.9 L628.7 352.6 L628.9 354.7 L629.2 356.0 L629.5 353.5 L629.8 353.8 L630.1 354.4 L630.3 352.5 L630.6 354.9 L630.9 355.7 L631.2 355.4 L631.5 356.3 L631.7 354.8 L632.0 354.7 L632.3 354.6 L632.6 351.0 L632.9 353.7 L633.1 354.0 L633.4 354.7 L633.7 354.3 L634.0 355.0 L634.3 355.0 L634.5 355.6 L634.8 354.4 L635.1 352.7 L635.4 353.9 L635.7 358.0 L635.9 355.8 L636.2 354.6 L636.5 354.8 L636.8 356.4 L637.1 354.5 L637.3 355.3 L637.6 355.8 L637.9 356.4 L638.2 354.7 L638.5 354.8 L638.7 354.8 L639.0 355.2 L639.3 356.3 L639.6 354.4 L639.8 357.5 L640.1 355.8 L640.4 356.4 L640.7 354.3 L641.0 354.9 L641.2 352.0 L641.5 355.4 L641.8 350.2 L642.1 355.9 L642.4 353.6 L642.6 355.8 L642.9 356.5 L643.2 355.4 L643.5 355.3 L643.8 355.3 L644.0 356.9 L644.3 355.8 L644.6 356.5 L644.9 356.2 L645.2 357.1 L645.4 355.7 L645.7 355.1 L646.0 355.1 L646.3 354.3 L646.6 353.3 L646.8 355.1 L647.1 357.6 L647.4 353.0 L647.7 357.6 L648.0 353.8 L648.2 356.1 L648.5 356.9 L648.8 356.2 L649.1 355.4 L649.4 356.0 L649.6 356.0 L649.9 356.0 L650.2 356.2 L650.5 356.9 L650.8 356.2 L651.0 356.3 L651.3 353.0 L651.6 354.7 L651.9 355.3 L652.2 354.9 L652.4 355.7 L652.7 357.0 L653.0 355.5 L653.3 356.1 L653.6 356.0 L653.8 355.1 L654.1 357.3 L654.4 356.6 L654.7 356.3 L655.0 357.5 L655.2 355.9 L655.5 356.2 L655.8 357.4 L656.1 358.8 L656.4 356.4 L656.6 358.0 L656.9 356.5 L657.2 355.5 L657.5 356.9 L657.7 357.7 L658.0 356.6 L658.3 356.9 L658.6 355.3 L658.9 354.1 L659.1 356.7 L659.4 355.0 L659.7 356.4 L660.0 355.8 L660.3 353.5 L660.5 357.4 L660.8 354.7 L661.1 356.3 L661.4 356.3 L661.7 357.9 L661.9 356.6 L662.2 355.7 L662.5 355.9 L662.8 358.4 L663.1 353.3 L663.3 356.6 L663.6 353.4 L663.9 355.4 L664.2 355.8 L664.5 352.2 L664.7 355.7 L665.0 357.4 L665.3 355.2 L665.6 354.8 L665.9 358.2 L666.1 355.4 L666.4 355.8 L666.7 358.5 L667.0 357.3 L667.2 356.8 L667.5 358.5 L667.7 356.9 L668.0 357.4" fill="none" stroke="#ff0000" stroke-width="2.0" stroke-linejoin="round"/>
<path d="M54.6 382.6 L54.9 383.9 L55.2 380.9 L55.4 381.4 L55.7 380.2 L56.0 378.9 L56.3 379.0 L56.5 379.2 L56.8 378.5 L57.1 377.0 L57.4 377.5 L57.7 376.6 L57.9 376.3 L58.2 375.7 L58.5 374.3 L58.8 374.8 L59.0 373.7 L59.3 375.3 L59.6 373.6 L59.9 372.8 L60.1 371.7 L60.4 371.9 L60.7 371.5 L61.0 370.2 L61.2 371.8 L61.5 370.3 L61.8 368.9 L62.0 366.1 L62.3 365.0 L62.5 360.4 L62.8 358.0 L63.0 355.9 L63.3 352.8 L63.5 349.6 L63.7 345.0 L64.0 340.5 L64.2 335.9 L64.4 330.8 L64.6 335.4 L64.8 340.5 L65.1 344.2 L65.3 350.1 L65.6 359.9 L65.8 370.3 L66.1 380.3 L66.4 381.4 L66.6 381.3 L66.9 382.8 L67.2 382.5 L67.5 383.7 L67.8 384.2 L68.0 383.1 L68.3 386.2 L68.6 385.4 L68.9 385.4 L69.1 386.6 L69.4 386.1 L69.7 387.7 L69.9 388.1 L70.2 388.4 L70.5 390.1 L70.7 389.2 L71.0 389.5 L71.3 388.3 L71.6 390.4 L71.8 390.1 L72.1 391.8 L72.4 391.1 L72.6 392.0 L72.9 393.5 L73.2 393.4 L73.4 393.2 L73.7 394.3 L74.0 393.3 L74.3 393.7 L74.5 393.1 L74.8 392.4 L75.1 393.0 L75.4 393.2 L75.7 392.2 L75.9 391.6 L76.2 391.8 L76.5 390.6 L76.7 390.3 L77.0 389.5 L77.2 388.9 L77.5 387.2 L77.7 385.9 L78.0 388.1 L78.2 389.7 L78.5 391.5 L78.7 393.3 L79.0 395.1 L79.3 395.6 L79.5 397.1 L79.8 397.7 L80.0 397.8 L80.3 398.8 L80.6 398.1 L80.8 396.6 L81.1 398.6 L81.4 398.3 L81.6 398.0 L81.9 397.3 L82.2 398.1 L82.4 394.9 L82.7 396.6 L83.0 396.2 L83.3 396.2 L83.5 396.2 L83.8 396.0 L84.1 395.4 L84.3 394.8 L84.6 394.8 L84.9 395.2 L85.1 396.2 L85.4 396.9 L85.7 397.2 L86.0 398.3 L86.2 398.4 L86.5 399.4 L86.8 400.8 L87.1 400.2 L87.4 400.2 L87.6 402.0 L87.9 402.5 L88.2 402.8 L88.4 403.2 L88.7 401.1 L89.0 401.9 L89.2 403.9 L89.5 403.2 L89.8 403.0 L90.1 403.2 L90.3 404.8 L90.6 404.5 L90.9 404.7 L91.1 405.3 L91.4 404.6 L91.7 404.5 L92.0 404.9 L92.2 403.5 L92.5 405.7 L92.8 407.1 L93.0 406.3 L93.3 406.2 L93.6 405.8 L93.8 405.6 L94.1 403.5 L94.4 404.8 L94.7 401.6 L94.9 404.3 L95.2 401.6 L95.5 401.9 L95.7 401.6 L96.0 399.6 L96.2 398.0 L96.5 395.7 L96.7 393.6 L97.0 390.9 L97.2 389.3 L97.4 391.6 L97.7 393.3 L97.9 395.6 L98.2 397.8 L98.4 399.4 L98.7 402.0 L99.0 402.6 L99.2 405.3 L99.5 406.1 L99.8 408.6 L100.1 409.2 L100.3 410.4 L100.6 409.9 L100.9 410.4 L101.2 409.6 L101.4 411.0 L101.7 409.8 L102.0 410.0 L102.2 409.5 L102.5 410.6 L102.8 411.3 L103.0 410.5 L103.3 410.8 L103.6 410.9 L103.9 411.2 L104.1 411.2 L104.4 410.9 L104.7 412.8 L104.9 410.9 L105.2 411.7 L105.5 412.7 L105.8 413.2 L106.0 412.7 L106.3 412.8 L106.6 412.5 L106.8 411.7 L107.1 411.8 L107.4 410.4 L107.6 409.6 L107.9 409.3 L108.2 409.1 L108.4 409.2 L108.7 408.8 L108.9 407.0 L109.2 405.8 L109.5 405.3 L109.7 406.8 L110.0 404.9 L110.3 403.9 L110.5 403.0 L110.8 401.3 L111.1 400.2 L111.4 401.3 L111.7 402.4 L111.9 404.0 L112.2 405.2 L112.5 405.5 L112.7 408.8 L113.0 409.7 L113.2 411.6 L113.5 413.2 L113.7 413.9 L114.0 416.1 L114.3 415.8 L114.5 417.6 L114.8 417.8 L115.1 416.7 L115.4 416.0 L115.6 417.5 L115.9 418.1 L116.2 418.0 L116.4 418.2 L116.7 418.1 L117.0 416.9 L117.3 416.6 L117.5 416.9 L117.8 417.3 L118.1 416.9 L118.3 418.3 L118.6 418.0 L118.9 417.7 L119.2 417.6 L119.4 418.3 L119.7 418.8 L120.0 417.7 L120.2 418.2 L120.5 418.0 L120.8 416.3 L121.1 418.1 L121.3 418.5 L121.6 419.6 L121.9 418.6 L122.1 418.4 L122.4 418.0 L122.7 419.3 L123.0 418.5 L123.2 419.0 L123.5 419.6 L123.8 419.3 L124.0 419.1 L124.3 419.3 L124.6 420.0 L124.9 419.6 L125.1 419.8 L125.4 420.0 L125.7 419.7 L125.9 420.1 L126.2 419.9 L126.5 420.8 L126.7 420.5 L127.0 419.3 L127.3 420.3 L127.6 421.2 L127.8 420.4 L128.1 420.4 L128.4 421.4 L128.6 420.2 L128.9 421.0 L129.2 421.4 L129.5 421.6 L129.7 420.6 L130.0 420.6 L130.3 422.0 L130.6 420.4 L130.8 420.6 L131.1 421.9 L131.4 419.9 L131.7 418.6 L131.9 421.2 L132.2 420.1 L132.5 419.5 L132.8 420.6 L133.0 418.8 L133.3 419.5 L133.6 418.4 L133.9 418.6 L134.1 419.5 L134.4 420.0 L134.7 420.6 L134.9 420.9 L135.2 420.3 L135.4 418.5 L135.7 422.5 L136.0 422.0 L136.2 422.1 L136.5 423.2 L136.8 423.6 L137.0 423.9 L137.3 423.2 L137.6 422.7 L137.8 422.8 L138.1 422.5 L138.4 420.5 L138.6 420.4 L138.9 419.9 L139.2 420.1 L139.4 418.3 L139.7 419.9 L139.9 417.8 L140.2 417.6 L140.5 418.0 L140.7 416.4 L141.0 416.0 L141.3 411.3 L141.5 407.6 L141.8 403.0 L142.0 399.1 L142.3 395.0 L142.5 390.8 L142.8 387.0 L143.1 391.9 L143.3 396.4 L143.6 401.8 L143.8 406.4 L144.1 411.8 L144.3 415.9 L144.6 421.1 L144.9 421.5 L145.1 422.4 L145.4 420.3 L145.7 421.0 L146.0 421.0 L146.2 421.8 L146.5 421.0 L146.8 421.3 L147.0 421.9 L147.3 421.5 L147.6 420.8 L147.8 420.7 L148.1 419.3 L148.4 421.0 L148.7 420.4 L148.9 420.9 L149.2 421.2 L149.5 420.6 L149.7 420.5 L150.0 421.0 L150.3 421.2 L150.5 419.9 L150.8 420.1 L151.1 421.5 L151.4 420.6 L151.6 420.0 L151.9 420.7 L152.2 421.4 L152.4 420.0 L152.7 419.7 L153.0 420.0 L153.3 421.0 L153.5 419.6 L153.8 420.2 L154.1 420.3 L154.3 420.0 L154.6 419.3 L154.9 419.8 L155.1 419.4 L155.4 419.7 L155.7 419.3 L156.0 419.1 L156.2 417.8 L156.5 419.2 L156.8 418.6 L157.0 417.3 L157.3 418.4 L157.6 418.5 L157.8 418.2 L158.1 416.7 L158.4 417.6 L158.7 417.3 L158.9 417.6 L159.2 416.3 L159.5 417.7 L159.8 417.7 L160.0 417.6 L160.3 417.1 L160.6 416.9 L160.9 417.4 L161.1 417.0 L161.4 416.3 L161.7 416.6 L162.0 416.7 L162.2 416.8 L162.5 416.3 L162.8 415.4 L163.1 415.4 L163.3 415.7 L163.6 415.6 L163.9 415.9 L164.2 414.0 L164.4 414.6 L164.7 414.2 L165.0 415.4 L165.3 414.2 L165.5 413.1 L165.8 412.4 L166.1 410.7 L166.3 410.4 L166.6 409.2 L166.9 408.3 L167.1 407.3 L167.4 406.6 L167.7 405.7 L167.9 404.3 L168.2 403.6 L168.5 404.9 L168.7 406.3 L169.0 407.5 L169.3 408.6 L169.6 409.9 L169.8 412.4 L170.1 412.1 L170.4 412.7 L170.6 413.2 L170.9 413.5 L171.1 413.0 L171.4 414.2 L171.7 414.5 L171.9 415.1 L172.2 415.4 L172.5 415.8 L172.7 416.2 L173.0 415.5 L173.2 417.8 L173.5 415.3 L173.8 416.1 L174.0 414.8 L174.3 414.1 L174.5 411.5 L174.8 410.6 L175.0 409.6 L175.3 407.8 L175.6 407.7 L175.8 407.3 L176.1 407.0 L176.4 408.3 L176.6 406.6 L176.9 407.2 L177.2 405.5 L177.4 405.8 L177.7 405.0 L178.0 405.2 L178.3 407.4 L178.5 405.5 L178.8 404.6 L179.1 404.0 L179.3 401.4 L179.6 403.3 L179.9 402.6 L180.2 399.5 L180.4 399.0 L180.7 395.3 L181.0 396.7 L181.3 395.0 L181.5 394.0 L181.8 392.4 L182.1 391.1 L182.4 393.1 L182.6 394.5 L182.9 395.7 L183.1 397.1 L183.4 398.4 L183.7 400.9 L183.9 402.1 L184.2 403.1 L184.4 405.5 L184.7 407.5 L185.0 405.9 L185.2 406.4 L185.5 405.9 L185.8 406.9 L186.1 406.2 L186.3 405.6 L186.6 404.9 L186.9 406.2 L187.2 405.5 L187.4 405.6 L187.7 405.3 L188.0 403.9 L188.3 404.1 L188.5 404.6 L188.8 403.4 L189.1 405.9 L189.4 406.2 L189.6 404.5 L189.9 404.1 L190.2 404.2 L190.5 404.7 L190.7 404.5 L191.0 405.3 L191.3 405.4 L191.6 405.4 L191.8 405.7 L192.1 406.6 L192.4 405.8 L192.7 406.8 L192.9 407.9 L193.2 406.3 L193.5 406.1 L193.8 407.6 L194.0 407.2 L194.3 407.2 L194.6 407.8 L194.9 407.9 L195.1 408.6 L195.4 408.3 L195.7 407.9 L196.0 407.2 L196.3 406.5 L196.5 406.6 L196.8 407.5 L197.1 405.7 L197.4 406.2 L197.6 406.6 L197.9 405.9 L198.2 406.1 L198.5 405.3 L198.7 405.4 L199.0 403.8 L199.3 403.3 L199.6 403.3 L199.9 400.6 L200.1 398.7 L200.4 396.6 L200.7 395.5 L201.0 393.6 L201.2 391.9 L201.5 389.4 L201.8 388.4 L202.1 390.1 L202.3 392.0 L202.6 393.9 L202.9 395.6 L203.2 397.0 L203.4 399.9 L203.7 400.6 L204.0 403.9 L204.2 405.8 L204.5 404.1 L204.8 406.8 L205.0 404.4 L205.3 404.7 L205.6 401.3 L205.8 402.5 L206.1 400.5 L206.3 400.6 L206.6 399.4 L206.9 399.3 L207.1 397.9 L207.4 396.0 L207.7 394.4 L207.9 391.5 L208.2 389.8 L208.5 387.6 L208.8 385.3 L209.1 382.8 L209.3 380.3 L209.6 378.2 L209.9 381.4 L210.1 383.9 L210.4 386.5 L210.7 389.3 L210.9 391.8 L211.2 396.0 L211.4 398.0 L211.7 400.6 L212.0 404.1 L212.2 407.3 L212.5 410.9 L212.8 407.6 L213.0 409.3 L213.3 409.4 L213.6 407.7 L213.8 407.7 L214.1 409.5 L214.4 408.3 L214.6 408.0 L214.9 406.8 L215.2 406.8 L215.5 407.0 L215.7 407.7 L216.0 406.7 L216.3 405.5 L216.5 407.1 L216.8 406.9 L217.1 406.3 L217.3 404.9 L217.6 404.9 L217.9 403.2 L218.1 401.4 L218.4 400.4 L218.7 396.5 L218.9 394.9 L219.2 393.3 L219.4 391.2 L219.7 389.2 L220.0 387.0 L220.2 385.3 L220.5 383.2 L220.8 386.2 L221.1 389.3 L221.3 391.4 L221.6 395.0 L221.9 398.1 L222.1 400.6 L222.4 403.9 L222.7 406.5 L223.0 406.0 L223.2 406.6 L223.5 406.2 L223.8 406.3 L224.0 404.8 L224.3 405.1 L224.6 405.1 L224.8 404.9 L225.1 404.6 L225.3 404.8 L225.6 404.2 L225.9 404.0 L226.1 403.5 L226.4 403.7 L226.7 404.3 L226.9 405.2 L227.2 405.7 L227.4 406.2 L227.7 406.3 L227.9 408.2 L228.2 406.4 L228.4 406.2 L228.7 405.0 L229.0 405.8 L229.2 404.2 L229.5 402.0 L229.7 402.4 L230.0 401.3 L230.3 400.7 L230.5 400.2 L230.8 399.1 L231.1 401.2 L231.4 402.8 L231.6 404.8 L231.9 406.2 L232.2 408.5 L232.4 409.7 L232.7 412.2 L233.0 413.4 L233.3 414.3 L233.6 413.8 L233.8 413.5 L234.1 412.6 L234.4 412.9 L234.6 412.3 L234.9 412.3 L235.2 412.9 L235.5 410.4 L235.7 409.3 L236.0 407.7 L236.2 407.7 L236.5 407.8 L236.8 406.3 L237.0 405.3 L237.3 404.3 L237.5 403.2 L237.8 402.2 L238.1 403.9 L238.4 405.6 L238.6 407.1 L238.9 409.0 L239.2 410.9 L239.5 411.3 L239.7 412.2 L240.0 416.0 L240.3 416.3 L240.6 415.2 L240.9 415.5 L241.1 416.3 L241.4 416.7 L241.7 416.2 L241.9 416.2 L242.2 416.1 L242.5 415.9 L242.8 414.5 L243.1 415.1 L243.3 415.1 L243.6 415.8 L243.9 415.7 L244.2 416.3 L244.4 417.5 L244.7 416.2 L245.0 417.3 L245.2 416.5 L245.5 416.6 L245.8 418.2 L246.1 417.7 L246.3 418.1 L246.6 419.1 L246.9 417.7 L247.2 418.7 L247.4 419.6 L247.7 418.3 L248.0 419.2 L248.3 419.7 L248.5 419.9 L248.8 419.8 L249.1 420.2 L249.3 420.0 L249.6 420.3 L249.9 420.2 L250.1 419.6 L250.4 420.3 L250.7 420.3 L251.0 421.2 L251.2 422.7 L251.5 421.1 L251.8 421.0 L252.0 421.4 L252.3 420.8 L252.6 421.5 L252.8 421.0 L253.1 421.4 L253.4 421.0 L253.7 423.2 L253.9 422.3 L254.2 421.5 L254.5 421.7 L254.7 422.0 L255.0 421.4 L255.3 421.9 L255.5 421.6 L255.8 421.8 L256.1 419.5 L256.3 421.3 L256.6 420.8 L256.9 421.1 L257.2 420.0 L257.4 419.7 L257.7 419.3 L258.0 420.1 L258.2 419.7 L258.5 419.2 L258.8 419.3 L259.0 419.2 L259.3 418.8 L259.6 419.3 L259.9 419.7 L260.1 419.3 L260.4 420.1 L260.7 421.4 L260.9 421.2 L261.2 421.6 L261.5 421.3 L261.8 422.1 L262.1 421.9 L262.3 422.6 L262.6 423.1 L262.9 423.7 L263.1 423.3 L263.4 423.5 L263.7 425.0 L264.0 423.0 L264.2 423.5 L264.5 422.8 L264.8 422.8 L265.0 421.7 L265.3 420.9 L265.6 421.1 L265.8 419.8 L266.1 419.5 L266.4 419.6 L266.7 419.2 L266.9 417.8 L267.2 419.0 L267.5 417.8 L267.7 417.5 L268.0 417.0 L268.3 416.0 L268.5 415.8 L268.8 415.2 L269.1 416.4 L269.4 417.2 L269.6 417.7 L269.9 418.4 L270.2 418.6 L270.4 419.3 L270.7 420.6 L271.0 422.1 L271.3 420.8 L271.6 421.0 L271.8 420.3 L272.1 419.5 L272.4 418.6 L272.7 418.4 L272.9 417.5 L273.2 418.3 L273.5 417.4 L273.8 416.7 L274.0 416.2 L274.3 415.7 L274.6 415.5 L274.9 416.7 L275.1 417.6 L275.4 418.8 L275.7 420.1 L276.0 420.2 L276.2 422.4 L276.5 424.4 L276.8 425.6 L277.1 425.7 L277.3 426.8 L277.6 428.5 L277.9 428.1 L278.1 428.2 L278.4 427.2 L278.7 426.9 L278.9 426.6 L279.2 427.1 L279.5 425.2 L279.8 426.2 L280.0 426.4 L280.3 425.0 L280.6 424.0 L280.8 424.1 L281.1 423.6 L281.4 423.0 L281.6 423.1 L281.9 422.5 L282.2 422.9 L282.4 422.8 L282.7 423.1 L283.0 423.3 L283.2 422.5 L283.5 423.7 L283.8 423.4 L284.0 422.5 L284.3 425.1 L284.6 424.5 L284.9 424.6 L285.1 424.5 L285.4 425.1 L285.7 424.5 L285.9 425.3 L286.2 425.6 L286.5 424.9 L286.7 425.3 L287.0 425.5 L287.3 424.7 L287.5 425.9 L287.8 425.8 L288.1 426.8 L288.4 426.3 L288.6 425.9 L288.9 426.6 L289.2 424.6 L289.5 425.5 L289.7 426.9 L290.0 426.5 L290.3 428.1 L290.6 427.7 L290.8 428.2 L291.1 428.1 L291.4 428.0 L291.7 428.6 L291.9 427.5 L292.2 429.0 L292.5 428.7 L292.8 427.8 L293.0 429.0 L293.3 429.6 L293.6 427.5 L293.9 429.9 L294.1 428.4 L294.4 428.1 L294.7 427.7 L294.9 427.7 L295.2 427.3 L295.5 427.6 L295.7 427.5 L296.0 425.8 L296.2 426.4 L296.5 425.9 L296.8 425.6 L297.0 425.2 L297.3 425.4 L297.6 425.5 L297.9 425.8 L298.1 426.0 L298.4 426.2 L298.7 426.5 L298.9 427.0 L299.2 427.4 L299.5 428.4 L299.7 427.2 L300.0 427.1 L300.2 426.1 L300.5 425.5 L300.7 424.7 L301.0 424.2 L301.2 423.5 L301.5 424.0 L301.7 424.3 L302.0 424.8 L302.2 425.3 L302.5 426.2 L302.8 425.8 L303.0 426.5 L303.3 427.2 L303.6 428.3 L303.8 428.1 L304.1 428.9 L304.3 429.5 L304.6 429.5 L304.9 430.3 L305.2 426.6 L305.4 428.3 L305.7 428.4 L306.0 428.4 L306.3 428.5 L306.5 428.6 L306.8 428.8 L307.1 428.3 L307.4 428.1 L307.6 428.7 L307.9 428.1 L308.2 428.3 L308.5 427.8 L308.7 427.2 L309.0 427.8 L309.3 427.7 L309.6 426.5 L309.8 427.5 L310.1 424.8 L310.4 428.2 L310.7 426.5 L310.9 426.0 L311.2 426.6 L311.5 427.7 L311.8 427.1 L312.0 426.4 L312.3 426.6 L312.6 426.6 L312.9 426.9 L313.2 425.6 L313.4 426.7 L313.7 425.9 L314.0 427.3 L314.3 426.2 L314.5 426.3 L314.8 427.1 L315.1 426.8 L315.4 426.8 L315.6 427.3 L315.9 426.6 L316.2 426.6 L316.5 427.6 L316.7 426.7 L317.0 428.9 L317.3 426.3 L317.6 427.1 L317.8 424.8 L318.1 427.4 L318.4 428.5 L318.7 425.9 L318.9 426.4 L319.2 426.6 L319.5 426.8 L319.8 425.7 L320.0 426.4 L320.3 425.8 L320.6 426.2 L320.8 425.5 L321.1 427.4 L321.4 425.9 L321.7 426.1 L321.9 424.1 L322.2 424.9 L322.5 425.8 L322.8 427.3 L323.0 426.3 L323.3 427.4 L323.6 427.1 L323.9 428.0 L324.1 427.4 L324.4 427.9 L324.7 429.0 L325.0 430.4 L325.2 430.9 L325.5 430.7 L325.8 430.5 L326.1 431.9 L326.4 430.9 L326.6 430.5 L326.9 430.7 L327.2 430.7 L327.4 431.8 L327.7 430.6 L328.0 430.2 L328.3 430.2 L328.6 429.4 L328.8 431.0 L329.1 429.6 L329.4 430.1 L329.6 427.7 L329.9 429.4 L330.2 428.5 L330.5 430.1 L330.7 429.4 L331.0 431.7 L331.3 431.1 L331.5 432.0 L331.8 431.7 L332.0 431.0 L332.3 432.6 L332.6 431.8 L332.8 433.7 L333.1 433.5 L333.4 432.2 L333.6 432.8 L333.9 433.0 L334.2 433.8 L334.5 433.3 L334.7 433.7 L335.0 432.9 L335.3 435.0 L335.5 434.7 L335.8 434.4 L336.1 433.5 L336.3 434.8 L336.6 436.3 L336.9 435.2 L337.2 435.9 L337.4 432.2 L337.7 435.3 L338.0 435.5 L338.2 436.4 L338.5 435.4 L338.8 434.6 L339.0 436.9 L339.3 436.5 L339.6 436.5 L339.9 437.0 L340.1 436.3 L340.4 436.1 L340.7 436.0 L340.9 437.0 L341.2 436.6 L341.5 436.6 L341.8 436.3 L342.1 436.5 L342.3 437.6 L342.6 436.2 L342.9 435.7 L343.1 433.8 L343.4 435.5 L343.7 436.3 L344.0 437.1 L344.2 435.6 L344.5 435.6 L344.8 434.8 L345.1 434.8 L345.3 434.8 L345.6 434.5 L345.8 434.6 L346.1 434.7 L346.4 433.7 L346.6 433.6 L346.9 433.7 L347.1 432.8 L347.4 432.7 L347.7 433.1 L347.9 433.0 L348.2 433.6 L348.5 434.0 L348.8 434.4 L349.0 433.6 L349.3 435.4 L349.6 435.0 L349.9 434.9 L350.1 434.8 L350.4 436.3 L350.7 436.2 L351.0 435.6 L351.2 437.4 L351.5 435.8 L351.8 437.0 L352.1 436.0 L352.3 436.6 L352.6 437.1 L352.9 436.6 L353.1 437.2 L353.4 436.9 L353.7 438.8 L353.9 437.4 L354.2 437.4 L354.5 435.0 L354.8 436.9 L355.0 437.4 L355.3 438.3 L355.6 438.2 L355.8 437.5 L356.1 438.1 L356.4 437.6 L356.6 437.7 L356.9 436.6 L357.2 437.5 L357.5 438.0 L357.7 439.2 L358.0 437.7 L358.3 438.4 L358.5 438.2 L358.8 437.6 L359.1 437.9 L359.3 437.1 L359.6 437.4 L359.9 438.1 L360.1 438.1 L360.4 437.0 L360.7 436.9 L361.0 436.1 L361.2 437.2 L361.5 436.4 L361.8 436.1 L362.0 436.6 L362.3 436.4 L362.6 435.8 L362.9 437.6 L363.1 436.1 L363.4 436.3 L363.7 438.1 L363.9 437.6 L364.2 436.9 L364.5 438.8 L364.8 438.9 L365.1 438.5 L365.3 438.8 L365.6 439.2 L365.9 439.8 L366.1 439.5 L366.4 439.1 L366.7 439.9 L367.0 439.4 L367.2 438.5 L367.5 439.0 L367.8 438.4 L368.0 438.9 L368.3 439.3 L368.6 438.7 L368.8 439.7 L369.1 438.2 L369.4 437.8 L369.7 436.9 L369.9 437.8 L370.2 437.3 L370.5 435.8 L370.7 436.2 L371.0 436.8 L371.3 435.9 L371.5 436.2 L371.8 435.8 L372.1 437.1 L372.3 435.1 L372.6 436.0 L372.9 435.5 L373.1 435.9 L373.4 437.8 L373.6 437.3 L373.9 437.3 L374.2 437.0 L374.4 437.2 L374.7 438.6 L375.0 436.9 L375.2 438.4 L375.5 438.5 L375.8 437.0 L376.1 437.5 L376.3 436.8 L376.6 437.0 L376.9 437.3 L377.2 436.8 L377.4 437.1 L377.7 436.6 L378.0 434.6 L378.3 436.3 L378.5 434.8 L378.8 433.8 L379.1 434.9 L379.4 434.6 L379.6 436.0 L379.9 435.2 L380.2 434.9 L380.5 434.2 L380.7 434.5 L381.0 433.3 L381.3 434.2 L381.6 433.1 L381.9 433.1 L382.1 433.3 L382.4 432.5 L382.7 433.1 L383.0 432.8 L383.2 432.3 L383.5 431.8 L383.8 431.9 L384.1 432.1 L384.4 432.3 L384.6 431.0 L384.9 431.4 L385.2 432.7 L385.5 431.6 L385.7 431.3 L386.0 430.9 L386.3 431.0 L386.6 430.9 L386.8 431.0 L387.1 430.8 L387.4 430.4 L387.7 430.4 L387.9 430.8 L388.2 430.8 L388.5 431.2 L388.7 431.9 L389.0 430.9 L389.3 430.2 L389.5 430.8 L389.8 431.7 L390.1 431.2 L390.3 432.2 L390.6 432.3 L390.9 432.4 L391.1 432.4 L391.4 432.2 L391.7 433.1 L391.9 431.8 L392.2 433.3 L392.5 434.6 L392.7 434.1 L393.0 433.5 L393.3 433.6 L393.6 435.5 L393.8 434.4 L394.1 435.8 L394.4 434.8 L394.6 435.3 L394.9 435.0 L395.2 436.4 L395.5 434.3 L395.8 437.2 L396.0 437.3 L396.3 436.6 L396.6 437.9 L396.8 436.2 L397.1 437.9 L397.4 437.8 L397.7 437.7 L398.0 437.8 L398.2 437.7 L398.5 438.8 L398.8 438.2 L399.1 440.1 L399.3 439.0 L399.6 439.6 L399.9 438.5 L400.2 437.7 L400.4 438.7 L400.7 439.6 L401.0 439.2 L401.3 439.5 L401.5 438.4 L401.8 438.6 L402.1 439.7 L402.4 439.5 L402.6 438.9 L402.9 439.6 L403.2 439.4 L403.5 438.6 L403.7 437.8 L404.0 435.4 L404.3 437.6 L404.5 437.9 L404.8 437.3 L405.0 437.9 L405.3 436.7 L405.6 436.2 L405.8 435.4 L406.1 435.7 L406.4 434.7 L406.6 434.4 L406.9 434.0 L407.2 434.6 L407.5 434.9 L407.7 435.4 L408.0 435.8 L408.3 435.3 L408.6 436.4 L408.8 438.5 L409.1 437.5 L409.4 438.3 L409.7 438.0 L409.9 438.6 L410.2 440.0 L410.5 438.9 L410.8 439.6 L411.0 441.2 L411.3 441.0 L411.6 439.9 L411.8 440.8 L412.1 440.2 L412.4 442.5 L412.6 442.5 L412.9 441.3 L413.1 441.1 L413.4 441.9 L413.7 441.1 L413.9 441.8 L414.2 441.4 L414.5 442.1 L414.7 441.4 L415.0 442.7 L415.3 443.0 L415.6 442.2 L415.8 443.1 L416.1 442.6 L416.4 442.8 L416.7 443.5 L417.0 442.6 L417.2 442.0 L417.5 443.0 L417.8 442.0 L418.1 442.7 L418.4 442.6 L418.6 441.4 L418.9 441.8 L419.2 442.2 L419.5 442.9 L419.8 443.3 L420.0 442.8 L420.3 444.2 L420.6 443.3 L420.9 441.9 L421.1 443.2 L421.4 442.2 L421.7 442.4 L422.0 442.7 L422.3 444.5 L422.5 443.1 L422.8 443.4 L423.1 443.6 L423.4 442.6 L423.7 443.0 L423.9 445.3 L424.2 442.3 L424.5 443.6 L424.8 443.5 L425.1 442.8 L425.3 443.8 L425.6 443.3 L425.9 443.5 L426.2 444.1 L426.5 443.1 L426.7 442.4 L427.0 442.9 L427.3 442.5 L427.6 443.8 L427.9 443.0 L428.1 442.9 L428.4 442.8 L428.7 443.9 L429.0 443.4 L429.2 443.7 L429.5 443.4 L429.8 442.8 L430.1 442.7 L430.4 444.0 L430.6 443.1 L430.9 443.7 L431.2 442.7 L431.5 443.2 L431.8 443.0 L432.0 440.7 L432.3 443.7 L432.6 443.9 L432.9 443.3 L433.2 444.7 L433.4 443.4 L433.7 442.5 L434.0 443.8 L434.3 442.7 L434.6 443.2 L434.8 444.3 L435.1 444.1 L435.4 443.7 L435.7 440.4 L436.0 444.0 L436.2 443.4 L436.5 444.0 L436.8 444.0 L437.1 443.2 L437.3 442.7 L437.6 443.5 L437.9 443.1 L438.2 443.0 L438.5 443.1 L438.7 442.5 L439.0 442.3 L439.3 442.6 L439.6 443.0 L439.9 442.7 L440.1 443.2 L440.4 443.8 L440.7 443.0 L441.0 442.1 L441.2 441.8 L441.5 442.1 L441.8 441.9 L442.1 443.1 L442.4 443.0 L442.6 439.5 L442.9 440.6 L443.2 442.4 L443.5 441.9 L443.8 442.2 L444.0 441.8 L444.3 442.1 L444.6 442.3 L444.9 442.5 L445.1 441.8 L445.4 442.6 L445.7 441.7 L446.0 441.9 L446.3 442.0 L446.5 441.5 L446.8 442.3 L447.1 441.6 L447.4 441.4 L447.7 442.9 L447.9 441.8 L448.2 441.6 L448.5 440.5 L448.8 441.7 L449.0 442.7 L449.3 441.5 L449.6 441.5 L449.9 442.2 L450.2 442.2 L450.4 442.3 L450.7 442.9 L451.0 441.4 L451.3 441.0 L451.6 441.6 L451.8 441.4 L452.1 441.2 L452.4 440.4 L452.7 440.3 L453.0 441.4 L453.2 440.1 L453.5 440.5 L453.8 440.0 L454.1 438.8 L454.4 440.0 L454.6 438.8 L454.9 440.3 L455.2 438.9 L455.5 439.0 L455.8 439.4 L456.0 439.7 L456.3 438.2 L456.6 440.0 L456.9 441.0 L457.1 440.7 L457.4 441.3 L457.7 441.1 L457.9 441.6 L458.2 441.1 L458.5 442.6 L458.8 441.3 L459.1 441.0 L459.3 441.5 L459.6 441.9 L459.9 443.3 L460.1 442.9 L460.4 440.9 L460.7 441.7 L460.9 440.4 L461.2 441.5 L461.5 440.7 L461.7 441.2 L462.0 439.6 L462.3 440.0 L462.6 439.7 L462.8 438.5 L463.1 438.6 L463.4 435.8 L463.6 437.9 L463.9 437.6 L464.2 437.2 L464.4 437.3 L464.7 436.8 L465.0 437.2 L465.2 437.9 L465.5 438.4 L465.7 438.2 L466.0 440.0 L466.3 439.7 L466.5 440.5 L466.8 442.2 L467.1 441.1 L467.3 442.0 L467.6 442.6 L467.8 442.2 L468.1 443.2 L468.4 443.9 L468.7 444.4 L468.9 443.0 L469.2 443.7 L469.5 443.2 L469.8 443.1 L470.0 442.7 L470.3 443.6 L470.6 442.1 L470.9 443.7 L471.2 443.5 L471.4 443.5 L471.7 443.2 L472.0 442.5 L472.3 442.4 L472.5 443.3 L472.8 443.6 L473.1 443.4 L473.4 442.7 L473.7 443.8 L473.9 444.6 L474.2 443.0 L474.5 442.6 L474.8 443.0 L475.1 444.2 L475.3 442.7 L475.6 442.9 L475.9 443.0 L476.2 442.9 L476.4 443.5 L476.7 442.8 L477.0 442.4 L477.3 443.2 L477.6 440.7 L477.8 444.3 L478.1 443.8 L478.4 444.1 L478.7 443.1 L478.9 443.3 L479.2 443.3 L479.5 443.0 L479.8 442.0 L480.1 441.6 L480.3 443.1 L480.6 443.9 L480.9 444.8 L481.2 442.6 L481.4 443.1 L481.7 442.2 L482.0 443.6 L482.3 442.8 L482.6 442.1 L482.8 441.5 L483.1 443.3 L483.4 443.2 L483.7 442.3 L483.9 444.2 L484.2 442.4 L484.5 443.7 L484.8 442.3 L485.1 442.9 L485.3 442.4 L485.6 444.0 L485.9 443.3 L486.2 442.9 L486.5 442.9 L486.7 442.8 L487.0 442.8 L487.3 441.8 L487.6 442.9 L487.8 443.5 L488.1 442.2 L488.4 439.6 L488.7 441.8 L489.0 442.0 L489.2 443.2 L489.5 442.8 L489.8 441.7 L490.1 443.4 L490.3 442.3 L490.6 442.9 L490.9 442.3 L491.2 441.9 L491.5 442.6 L491.7 442.2 L492.0 442.6 L492.3 442.5 L492.6 441.7 L492.9 442.7 L493.1 442.1 L493.4 442.7 L493.7 442.9 L494.0 442.6 L494.3 442.9 L494.5 443.3 L494.8 442.1 L495.1 441.9 L495.4 441.7 L495.6 442.9 L495.9 441.7 L496.2 442.6 L496.5 443.1 L496.8 441.7 L497.0 443.1 L497.3 441.6 L497.6 442.6 L497.9 442.2 L498.2 441.2 L498.4 442.1 L498.7 443.0 L499.0 442.0 L499.3 441.4 L499.6 442.6 L499.8 442.6 L500.1 441.4 L500.4 442.1 L500.7 439.3 L501.0 441.1 L501.2 442.4 L501.5 442.4 L501.8 442.9 L502.1 442.4 L502.4 441.8 L502.6 442.6 L502.9 441.4 L503.2 441.7 L503.5 442.0 L503.8 441.6 L504.0 441.8 L504.3 441.4 L504.6 442.4 L504.9 442.7 L505.1 442.5 L505.4 442.9 L505.7 442.4 L506.0 442.3 L506.3 441.0 L506.5 441.9 L506.8 440.9 L507.1 443.4 L507.4 441.8 L507.7 441.6 L507.9 441.4 L508.2 441.3 L508.5 441.6 L508.8 441.5 L509.1 441.8 L509.3 440.9 L509.6 441.3 L509.9 440.6 L510.2 440.4 L510.5 441.3 L510.7 440.8 L511.0 441.8 L511.3 442.0 L511.6 441.3 L511.9 441.1 L512.1 441.3 L512.4 442.0 L512.7 441.0 L513.0 441.3 L513.3 442.1 L513.5 440.8 L513.8 440.6 L514.1 441.8 L514.4 443.0 L514.6 441.8 L514.9 442.7 L515.2 440.7 L515.5 440.9 L515.8 441.5 L516.0 439.9 L516.3 441.0 L516.6 443.2 L516.9 442.0 L517.2 440.6 L517.4 442.5 L517.7 442.1 L518.0 441.3 L518.3 440.8 L518.6 441.6 L518.8 442.0 L519.1 441.2 L519.4 440.6 L519.7 441.4 L520.0 441.3 L520.2 440.2 L520.5 440.2 L520.8 440.4 L521.1 441.5 L521.4 440.3 L521.6 439.0 L521.9 441.1 L522.2 440.3 L522.5 440.3 L522.8 440.4 L523.0 440.7 L523.3 440.3 L523.6 441.9 L523.9 441.1 L524.1 441.5 L524.4 440.2 L524.7 440.2 L525.0 440.0 L525.3 440.2 L525.5 441.1 L525.8 441.4 L526.1 441.4 L526.4 441.2 L526.7 439.4 L526.9 440.4 L527.2 440.9 L527.5 441.1 L527.8 438.1 L528.1 440.8 L528.3 440.5 L528.6 438.2 L528.9 440.9 L529.2 440.1 L529.5 440.3 L529.7 440.8 L530.0 440.8 L530.3 440.7 L530.6 441.2 L530.8 440.4 L531.1 440.9 L531.4 441.5 L531.7 440.4 L532.0 440.6 L532.2 441.7 L532.5 440.7 L532.8 441.3 L533.1 440.5 L533.3 440.6 L533.6 440.3 L533.9 440.2 L534.2 441.7 L534.5 441.0 L534.7 440.7 L535.0 441.7 L535.3 441.3 L535.6 441.4 L535.8 440.0 L536.1 441.7 L536.4 440.4 L536.7 440.4 L536.9 441.1 L537.2 441.4 L537.5 441.4 L537.8 441.0 L538.1 441.7 L538.3 441.6 L538.6 441.4 L538.9 441.4 L539.2 442.3 L539.4 441.4 L539.7 440.8 L540.0 440.9 L540.3 442.2 L540.6 441.4 L540.8 441.7 L541.1 442.9 L541.4 441.4 L541.7 441.0 L542.0 441.3 L542.2 441.7 L542.5 440.8 L542.8 441.3 L543.1 441.3 L543.4 440.5 L543.6 441.0 L543.9 441.4 L544.2 441.2 L544.5 440.6 L544.8 441.9 L545.0 440.7 L545.3 441.5 L545.6 441.3 L545.9 441.0 L546.1 441.8 L546.4 442.4 L546.7 441.5 L547.0 441.2 L547.3 441.0 L547.5 440.9 L547.8 438.8 L548.1 441.2 L548.4 439.2 L548.7 439.3 L548.9 440.7 L549.2 440.4 L549.5 439.7 L549.8 440.9 L550.0 440.4 L550.3 440.7 L550.6 439.7 L550.9 439.5 L551.1 439.7 L551.4 439.9 L551.7 439.3 L551.9 440.0 L552.2 438.6 L552.5 438.4 L552.8 438.0 L553.0 437.8 L553.3 437.4 L553.6 437.0 L553.8 437.5 L554.1 437.8 L554.4 438.3 L554.7 437.2 L554.9 436.0 L555.2 437.3 L555.5 436.2 L555.7 437.0 L556.0 436.5 L556.3 436.0 L556.6 435.9 L556.8 435.7 L557.1 436.3 L557.4 435.3 L557.6 435.4 L557.9 435.1 L558.2 435.0 L558.5 435.6 L558.7 435.8 L559.0 434.7 L559.3 434.9 L559.5 435.2 L559.8 435.0 L560.1 434.1 L560.4 434.8 L560.6 434.2 L560.9 433.2 L561.2 434.0 L561.4 433.9 L561.7 435.0 L562.0 435.3 L562.3 435.7 L562.5 435.2 L562.8 435.3 L563.1 435.6 L563.3 436.0 L563.6 435.8 L563.9 435.3 L564.2 437.2 L564.4 435.9 L564.7 437.6 L565.0 437.9 L565.2 436.8 L565.5 439.3 L565.8 438.5 L566.1 438.4 L566.3 437.6 L566.6 438.8 L566.9 438.9 L567.1 439.4 L567.4 438.9 L567.7 438.8 L568.0 438.9 L568.2 437.9 L568.5 439.4 L568.8 440.2 L569.0 441.2 L569.3 439.4 L569.6 440.4 L569.9 442.1 L570.1 439.1 L570.4 442.2 L570.7 440.2 L570.9 442.4 L571.2 442.2 L571.5 442.5 L571.8 441.3 L572.0 443.0 L572.3 442.3 L572.6 439.9 L572.8 443.1 L573.1 442.5 L573.4 442.3 L573.7 443.2 L573.9 444.0 L574.2 443.3 L574.5 443.9 L574.8 444.3 L575.0 443.5 L575.3 442.2 L575.6 443.1 L575.9 443.2 L576.1 443.4 L576.4 442.0 L576.7 443.6 L577.0 444.6 L577.2 443.6 L577.5 443.5 L577.8 443.1 L578.1 443.9 L578.3 443.3 L578.6 444.6 L578.9 443.8 L579.1 443.9 L579.4 443.7 L579.7 443.3 L580.0 442.0 L580.2 443.2 L580.5 443.9 L580.8 442.3 L581.1 443.8 L581.4 443.8 L581.6 443.8 L581.9 443.6 L582.2 443.6 L582.5 443.3 L582.7 444.2 L583.0 442.7 L583.3 442.8 L583.5 442.9 L583.8 442.9 L584.1 443.9 L584.4 443.3 L584.6 444.0 L584.9 442.7 L585.2 444.2 L585.5 444.3 L585.8 443.5 L586.0 443.6 L586.3 443.6 L586.6 443.1 L586.9 444.3 L587.1 443.3 L587.4 444.0 L587.7 445.9 L588.0 444.5 L588.2 443.7 L588.5 444.9 L588.8 443.8 L589.1 444.4 L589.4 444.1 L589.6 444.2 L589.9 444.3 L590.2 444.6 L590.5 444.9 L590.8 443.9 L591.0 443.6 L591.3 444.4 L591.6 443.9 L591.9 444.2 L592.1 445.6 L592.4 445.3 L592.7 444.6 L593.0 444.7 L593.3 444.9 L593.5 445.0 L593.8 445.2 L594.1 445.5 L594.4 446.1 L594.7 445.5 L594.9 444.6 L595.2 445.8 L595.5 445.7 L595.8 445.6 L596.1 446.5 L596.3 445.0 L596.6 445.5 L596.9 445.8 L597.2 447.2 L597.5 445.7 L597.7 446.0 L598.0 446.6 L598.3 446.4 L598.6 443.6 L598.9 446.4 L599.1 446.0 L599.4 446.6 L599.7 446.9 L600.0 446.5 L600.3 445.9 L600.5 444.9 L600.8 446.5 L601.1 446.7 L601.4 446.6 L601.6 445.4 L601.9 446.0 L602.2 445.4 L602.5 446.5 L602.8 446.0 L603.0 446.6 L603.3 446.1 L603.6 445.6 L603.9 445.7 L604.2 446.9 L604.4 446.9 L604.7 446.2 L605.0 445.6 L605.3 444.2 L605.6 446.8 L605.8 446.3 L606.1 446.0 L606.4 447.1 L606.7 446.7 L607.0 446.0 L607.2 445.6 L607.5 447.5 L607.8 447.0 L608.1 446.1 L608.4 446.7 L608.6 446.5 L608.9 445.8 L609.2 446.6 L609.5 446.4 L609.8 446.8 L610.0 443.8 L610.3 446.9 L610.6 446.8 L610.9 447.1 L611.1 446.3 L611.4 447.5 L611.7 446.6 L612.0 448.1 L612.3 446.9 L612.5 446.8 L612.8 446.3 L613.1 447.4 L613.4 447.9 L613.7 447.1 L613.9 446.7 L614.2 446.9 L614.5 447.7 L614.8 445.1 L615.1 446.9 L615.3 447.3 L615.6 447.3 L615.9 447.1 L616.2 447.1 L616.5 447.1 L616.7 446.7 L617.0 447.1 L617.3 446.8 L617.6 446.0 L617.9 447.4 L618.1 446.4 L618.4 447.5 L618.7 447.2 L619.0 447.4 L619.3 446.9 L619.5 444.4 L619.8 446.9 L620.1 443.9 L620.4 447.6 L620.6 447.3 L620.9 445.9 L621.2 447.4 L621.5 447.0 L621.8 445.5 L622.0 446.6 L622.3 446.7 L622.6 447.2 L622.9 447.1 L623.2 447.2 L623.4 447.6 L623.7 446.6 L624.0 447.3 L624.3 446.6 L624.6 447.5 L624.8 447.1 L625.1 446.4 L625.4 446.4 L625.7 447.5 L626.0 447.4 L626.2 446.8 L626.5 447.4 L626.8 448.0 L627.1 447.0 L627.4 445.0 L627.6 447.9 L627.9 446.8 L628.2 447.0 L628.5 446.3 L628.8 447.5 L629.0 447.4 L629.3 446.8 L629.6 447.4 L629.9 447.0 L630.1 446.8 L630.4 446.2 L630.7 447.8 L631.0 447.3 L631.3 448.2 L631.5 447.9 L631.8 447.0 L632.1 447.6 L632.4 446.7 L632.7 447.3 L632.9 448.3 L633.2 447.4 L633.5 447.5 L633.8 446.7 L634.1 447.1 L634.3 447.2 L634.6 447.6 L634.9 446.8 L635.2 446.9 L635.5 448.5 L635.7 448.4 L636.0 447.9 L636.3 447.1 L636.6 447.0 L636.9 447.2 L637.1 448.2 L637.4 447.9 L637.7 447.9 L638.0 447.8 L638.3 448.2 L638.5 447.4 L638.8 447.9 L639.1 446.6 L639.4 446.8 L639.6 447.3 L639.9 447.9 L640.2 447.3 L640.5 448.0 L640.8 448.0 L641.0 448.1 L641.3 447.4 L641.6 448.2 L641.9 447.5 L642.2 447.9 L642.4 446.2 L642.7 448.0 L643.0 447.7 L643.3 448.1 L643.6 447.7 L643.8 448.1 L644.1 448.2 L644.4 447.3 L644.7 445.2 L645.0 446.5 L645.2 447.9 L645.5 447.7 L645.8 448.5 L646.1 448.0 L646.4 447.7 L646.6 447.1 L646.9 448.3 L647.2 447.7 L647.5 447.9 L647.8 447.8 L648.0 447.6 L648.3 448.2 L648.6 448.7 L648.9 447.6 L649.1 448.1 L649.4 448.3 L649.7 447.8 L650.0 448.6 L650.3 448.4 L650.5 448.1 L650.8 448.0 L651.1 447.7 L651.4 447.5 L651.7 448.5 L651.9 447.9 L652.2 448.5 L652.5 447.4 L652.8 447.9 L653.1 449.3 L653.3 448.8 L653.6 448.3 L653.9 448.8 L654.2 448.6 L654.5 448.9 L654.7 448.1 L655.0 447.0 L655.3 449.6 L655.6 446.3 L655.8 448.3 L656.1 449.1 L656.4 448.0 L656.7 448.5 L656.9 447.7 L657.2 449.1 L657.5 447.8 L657.8 449.3 L658.0 448.9 L658.3 447.7 L658.6 448.9 L658.9 449.6 L659.2 448.5 L659.4 449.1 L659.7 448.6 L660.0 448.9 L660.3 449.2 L660.5 447.4 L660.8 450.2 L661.1 446.0 L661.4 448.2 L661.6 448.7 L661.9 449.0 L662.2 448.4 L662.5 449.6 L662.7 448.2 L663.0 445.9 L663.3 448.0 L663.6 447.8 L663.9 449.2 L664.1 448.9 L664.4 447.9 L664.7 448.6 L665.0 449.2 L665.2 449.6 L665.5 449.5 L665.8 448.8 L666.1 449.0 L666.3 448.5 L666.6 450.3 L666.9 448.9 L667.2 449.6 L667.4 449.8 L667.7 448.6 L668.0 449.6" fill="none" stroke="#008000" stroke-width="3" stroke-linejoin="round"/>
<path d="M60.8 13.0 L73.2 13.0 L67.0 23.5 Z" fill="#000"/>
<path d="M90.2 96.0 L102.8 96.0 L96.5 106.5 Z" fill="#000"/>
<path d="M106.2 96.0 L118.8 96.0 L112.5 106.5 Z" fill="#000"/>
<path d="M138.6 83.0 L151.1 83.0 L144.8 93.5 Z" fill="#000"/>
<path d="M58.3 137.3 L70.8 137.3 L64.6 147.8 Z" fill="#000"/>
<path d="M93.5 174.9 L106.0 174.9 L99.7 185.4 Z" fill="#000"/>
<path d="M106.5 176.5 L119.0 176.5 L112.7 187.0 Z" fill="#000"/>
<path d="M136.8 164.3 L149.2 164.3 L143.0 174.8 Z" fill="#000"/>
<path d="M60.8 234.0 L73.3 234.0 L67.1 244.5 Z" fill="#000"/>
<path d="M95.2 272.3 L107.8 272.3 L101.5 282.8 Z" fill="#000"/>
<path d="M105.8 282.9 L118.2 282.9 L112.0 293.4 Z" fill="#000"/>
<path d="M138.3 278.5 L150.8 278.5 L144.6 289.0 Z" fill="#000"/>
<path d="M59.5 313.5 L72.0 313.5 L65.8 324.0 Z" fill="#000"/>
<path d="M92.2 374.3 L104.7 374.3 L98.4 384.8 Z" fill="#000"/>
<path d="M105.8 385.2 L118.3 385.2 L112.1 395.7 Z" fill="#000"/>
<path d="M136.8 371.7 L149.2 371.7 L143.0 382.2 Z" fill="#000"/>
<path d="M323.4 37.5 L336.0 37.5 L329.7 47.1 Z" fill="#000"/>
<g transform="translate(221.7 375.8)"><g transform="rotate(0)"><line x1="0" y1="0" x2="0" y2="-3.13" stroke="#000" stroke-width="0.69"/><ellipse cx="0" cy="-3.13" rx="1.10" ry="1.43"/></g><g transform="rotate(72)"><line x1="0" y1="0" x2="0" y2="-3.13" stroke="#000" stroke-width="0.69"/><ellipse cx="0" cy="-3.13" rx="1.10" ry="1.43"/></g><g transform="rotate(144)"><line x1="0" y1="0" x2="0" y2="-3.13" stroke="#000" stroke-width="0.69"/><ellipse cx="0" cy="-3.13" rx="1.10" ry="1.43"/></g><g transform="rotate(216)"><line x1="0" y1="0" x2="0" y2="-3.13" stroke="#000" stroke-width="0.69"/><ellipse cx="0" cy="-3.13" rx="1.10" ry="1.43"/></g><g transform="rotate(288)"><line x1="0" y1="0" x2="0" y2="-3.13" stroke="#000" stroke-width="0.69"/><ellipse cx="0" cy="-3.13" rx="1.10" ry="1.43"/></g></g>
<g transform="translate(302.3 417.9)"><g transform="rotate(0)"><line x1="0" y1="0" x2="0" y2="-3.13" stroke="#000" stroke-width="0.69"/><ellipse cx="0" cy="-3.13" rx="1.10" ry="1.43"/></g><g transform="rotate(72)"><line x1="0" y1="0" x2="0" y2="-3.13" stroke="#000" stroke-width="0.69"/><ellipse cx="0" cy="-3.13" rx="1.10" ry="1.43"/></g><g transform="rotate(144)"><line x1="0" y1="0" x2="0" y2="-3.13" stroke="#000" stroke-width="0.69"/><ellipse cx="0" cy="-3.13" rx="1.10" ry="1.43"/></g><g transform="rotate(216)"><line x1="0" y1="0" x2="0" y2="-3.13" stroke="#000" stroke-width="0.69"/><ellipse cx="0" cy="-3.13" rx="1.10" ry="1.43"/></g><g transform="rotate(288)"><line x1="0" y1="0" x2="0" y2="-3.13" stroke="#000" stroke-width="0.69"/><ellipse cx="0" cy="-3.13" rx="1.10" ry="1.43"/></g></g>
<g transform="translate(348.4 424.4)"><g transform="rotate(0)"><line x1="0" y1="0" x2="0" y2="-3.13" stroke="#000" stroke-width="0.69"/><ellipse cx="0" cy="-3.13" rx="1.10" ry="1.43"/></g><g transform="rotate(72)"><line x1="0" y1="0" x2="0" y2="-3.13" stroke="#000" stroke-width="0.69"/><ellipse cx="0" cy="-3.13" rx="1.10" ry="1.43"/></g><g transform="rotate(144)"><line x1="0" y1="0" x2="0" y2="-3.13" stroke="#000" stroke-width="0.69"/><ellipse cx="0" cy="-3.13" rx="1.10" ry="1.43"/></g><g transform="rotate(216)"><line x1="0" y1="0" x2="0" y2="-3.13" stroke="#000" stroke-width="0.69"/><ellipse cx="0" cy="-3.13" rx="1.10" ry="1.43"/></g><g transform="rotate(288)"><line x1="0" y1="0" x2="0" y2="-3.13" stroke="#000" stroke-width="0.69"/><ellipse cx="0" cy="-3.13" rx="1.10" ry="1.43"/></g></g>
<g transform="translate(329.1 72.0)"><g transform="rotate(0)"><line x1="0" y1="0" x2="0" y2="-2.79" stroke="#000" stroke-width="0.61"/><ellipse cx="0" cy="-2.79" rx="0.98" ry="1.27"/></g><g transform="rotate(72)"><line x1="0" y1="0" x2="0" y2="-2.79" stroke="#000" stroke-width="0.61"/><ellipse cx="0" cy="-2.79" rx="0.98" ry="1.27"/></g><g transform="rotate(144)"><line x1="0" y1="0" x2="0" y2="-2.79" stroke="#000" stroke-width="0.61"/><ellipse cx="0" cy="-2.79" rx="0.98" ry="1.27"/></g><g transform="rotate(216)"><line x1="0" y1="0" x2="0" y2="-2.79" stroke="#000" stroke-width="0.61"/><ellipse cx="0" cy="-2.79" rx="0.98" ry="1.27"/></g><g transform="rotate(288)"><line x1="0" y1="0" x2="0" y2="-2.79" stroke="#000" stroke-width="0.61"/><ellipse cx="0" cy="-2.79" rx="0.98" ry="1.27"/></g></g>
<path d="M54 3 H670 V465 H54 Z" fill="none" stroke="#000" stroke-width="4"/>
<rect x="93.1" y="465" width="4" height="8.5" fill="#000"/><rect x="134.2" y="465" width="4" height="4" fill="#000"/><rect x="175.2" y="465" width="4" height="8.5" fill="#000"/><rect x="216.2" y="465" width="4" height="4" fill="#000"/><rect x="257.3" y="465" width="4" height="8.5" fill="#000"/><rect x="298.4" y="465" width="4" height="4" fill="#000"/><rect x="339.4" y="465" width="4" height="8.5" fill="#000"/><rect x="380.5" y="465" width="4" height="4" fill="#000"/><rect x="421.5" y="465" width="4" height="8.5" fill="#000"/><rect x="462.6" y="465" width="4" height="4" fill="#000"/><rect x="503.6" y="465" width="4" height="8.5" fill="#000"/><rect x="544.6" y="465" width="4" height="4" fill="#000"/><rect x="585.7" y="465" width="4" height="8.5" fill="#000"/><rect x="626.8" y="465" width="4" height="4" fill="#000"/><rect x="667.8" y="465" width="4" height="8.5" fill="#000"/><rect x="52" y="465" width="4" height="3.5" fill="#000"/>
<text x="95.1" y="499.6" font-size="26" text-anchor="middle">10</text><text x="177.2" y="499.6" font-size="26" text-anchor="middle">20</text><text x="259.3" y="499.6" font-size="26" text-anchor="middle">30</text><text x="341.4" y="499.6" font-size="26" text-anchor="middle">40</text><text x="423.5" y="499.6" font-size="26" text-anchor="middle">50</text><text x="505.6" y="499.6" font-size="26" text-anchor="middle">60</text><text x="587.7" y="499.6" font-size="26" text-anchor="middle">70</text><text x="669.8" y="499.6" font-size="26" text-anchor="middle">80</text>
<rect x="614.0" y="89.5" width="49.0" height="40.8" fill="#000"/><text x="620.0" y="119.6" font-size="31" font-weight="bold" fill="#fff">(a)</text><rect x="614.0" y="203.0" width="49.0" height="41.0" fill="#000"/><text x="619.6" y="232.5" font-size="31" font-weight="bold" fill="#fff">(b)</text><rect x="617.0" y="305.0" width="48.0" height="41.0" fill="#000"/><text x="622.4" y="334.6" font-size="31" font-weight="bold" fill="#fff">(c)</text><rect x="616.0" y="397.0" width="48.5" height="41.0" fill="#000"/><text x="620.6" y="427.0" font-size="31" font-weight="bold" fill="#fff">(d)</text>
<text x="342.3" y="47.2" font-size="21.5" textLength="313.5" lengthAdjust="spacingAndGlyphs">Zeolite Y (JCPDS NO. 77-1551)</text><text x="343.5" y="77.8" font-size="21.5" textLength="270" lengthAdjust="spacingAndGlyphs">TiO<tspan font-size="15" dy="5.6">2</tspan><tspan dy="-5.6"> (JCPDS NO. 21-1272)</tspan></text>
<text x="242" y="540" font-size="37">2<tspan font-style="italic">Theta</tspan>/degree</text><text transform="translate(32.3 320.6) rotate(-90)" font-size="36.6">Intensity/a.u.</text>
</svg>
</body></html>
